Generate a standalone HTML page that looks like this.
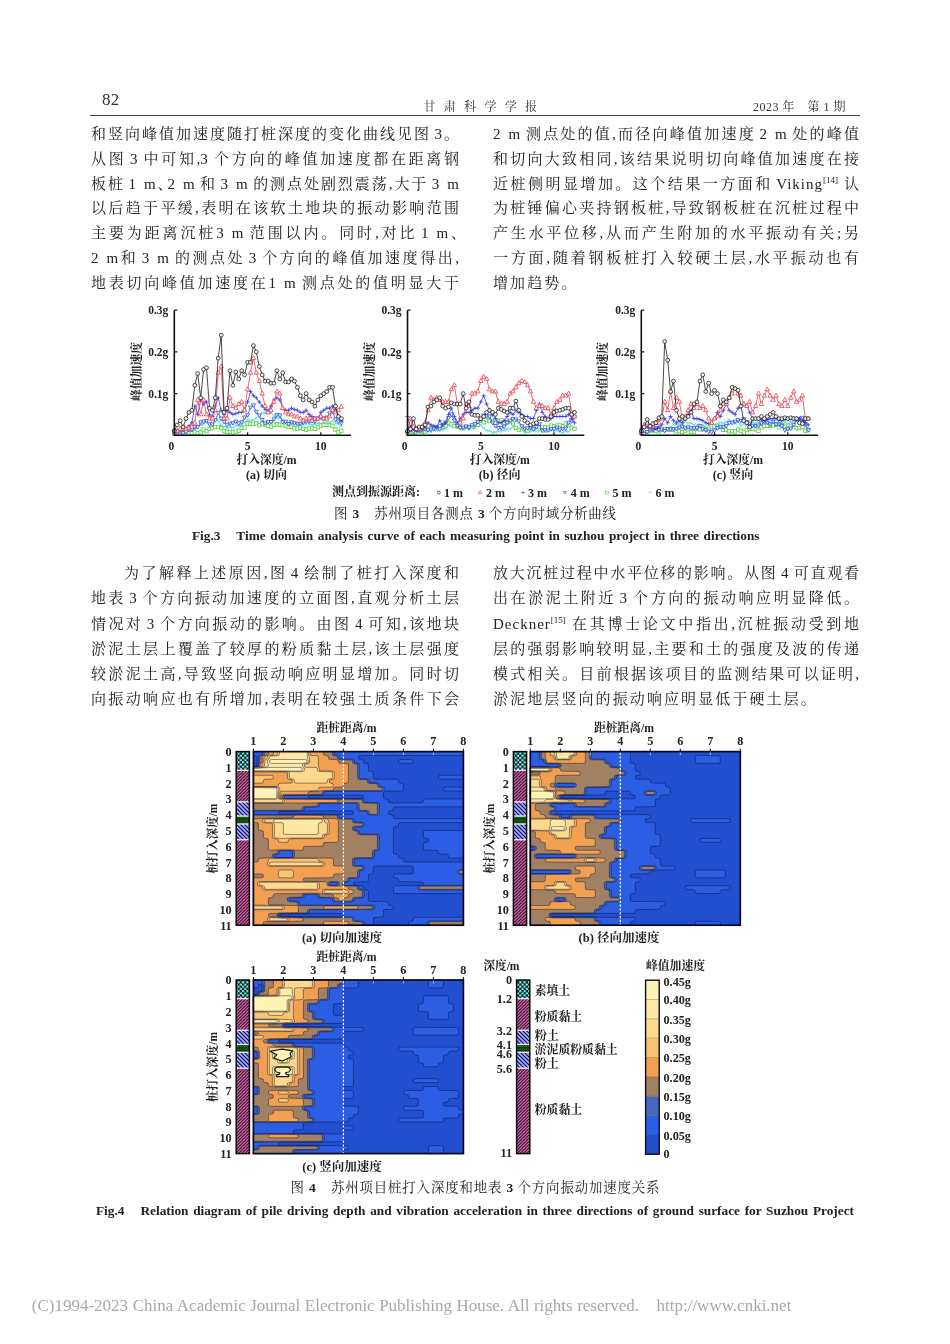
<!DOCTYPE html>
<html lang="zh"><head><meta charset="utf-8"><title>甘肃科学学报 82</title>
<style>
html,body{margin:0;padding:0;background:#fff;}
#page{position:relative;width:950px;height:1344px;overflow:hidden;background:#fff;color:#1a1a1a;
 font-family:"Liberation Serif","Noto Serif CJK SC",serif;}
.ln{position:absolute;height:25px;line-height:25px;font-size:15px;white-space:nowrap;text-align:justify;text-align-last:justify;color:#222;}
.ln.nj{text-align:left;text-align-last:left;letter-spacing:2.1px;}
.L{left:91px;width:368px;}
.R{left:493px;width:366px;}
.ln sup{font-size:9px;line-height:0;vertical-align:6px;letter-spacing:0;}
.hd{position:absolute;white-space:nowrap;color:#333;}
.cap{position:absolute;white-space:nowrap;text-align:center;left:0;width:950px;color:#222;}
svg{position:absolute;left:0;top:0;overflow:visible;}
svg text{font-family:"Liberation Serif","Noto Serif CJK SC",serif;}
.capj{position:absolute;white-space:nowrap;text-align:justify;text-align-last:justify;color:#222;height:20px;line-height:20px;}
.ln i{display:inline-block;width:3.5px;}
.ln u{text-decoration:none;margin-right:-7px;}
.ln em{font-style:normal;letter-spacing:1px;}
.ln i.w{width:8px;}

</style></head>
<body>
<div id="page">
<div class="hd" style="left:102px;top:89.5px;font-size:17px;letter-spacing:0.3px;">82</div>
<div class="hd" style="left:423.5px;top:96.5px;font-size:12px;letter-spacing:8.3px;">甘肃科学学报</div>
<div class="hd" style="left:753px;top:96.5px;font-size:12px;letter-spacing:0.5px;">2023 年　第 1 期</div>
<div style="position:absolute;left:90px;top:114.6px;width:770px;height:1.4px;background:#444;"></div>
<div class="capj" style="left:334px;width:282px;top:503.8px;font-size:13.4px;">图 <b>3</b>　苏州项目各测点 <b>3</b> 个方向时域分析曲线</div>
<div class="capj" style="left:192px;width:567.5px;top:526px;font-size:13.3px;font-weight:bold;">Fig.3　Time domain analysis curve of each measuring point in suzhou project in three directions</div>
<div class="capj" style="left:290.5px;width:369px;top:1178.3px;font-size:13.4px;">图 <b>4</b>　苏州项目桩打入深度和地表 <b>3</b> 个方向振动加速度关系</div>
<div class="capj" style="left:96px;width:758px;top:1200.7px;font-size:13.3px;font-weight:bold;">Fig.4　Relation diagram of pile driving depth and vibration acceleration in three directions of ground surface for Suzhou Project</div>
<div class="capj" style="left:31.8px;width:759.6px;top:1296px;font-size:17px;color:#a8a8a8;">(C)1994-2023 China Academic Journal Electronic Publishing House. All rights reserved.　http://www.cnki.net</div>
<div class="ln L" style="top:121.7px;">和竖向峰值加速度随打桩深度的变化曲线见图<i></i>3。</div>
<div class="ln L" style="top:146.6px;">从图<i></i>3<i></i>中可知,3<i></i>个方向的峰值加速度都在距离钢</div>
<div class="ln L" style="top:171.5px;">板桩<i></i>1<i class="w"></i>m<u>、</u>2<i class="w"></i>m<i></i>和<i></i>3<i class="w"></i>m<i></i>的测点处剧烈震荡,大于<i></i>3<i class="w"></i>m</div>
<div class="ln L" style="top:196.4px;">以后趋于平缓,表明在该软土地块的振动影响范围</div>
<div class="ln L" style="top:221.3px;">主要为距离沉桩3<i class="w"></i>m<i></i>范围以内。同时,对比<i></i>1<i class="w"></i>m<u>、</u></div>
<div class="ln L" style="top:246.2px;">2<i class="w"></i>m和<i></i>3<i class="w"></i>m<i></i>的测点处<i></i>3<i></i>个方向的峰值加速度得出,</div>
<div class="ln L" style="top:271.1px;">地表切向峰值加速度在1<i class="w"></i>m<i></i>测点处的值明显大于</div>
<div class="ln R" style="top:121.7px;">2<i class="w"></i>m<i></i>测点处的值,而径向峰值加速度<i></i>2<i class="w"></i>m<i></i>处的峰值</div>
<div class="ln R" style="top:146.6px;">和切向大致相同,该结果说明切向峰值加速度在接</div>
<div class="ln R" style="top:171.5px;">近桩侧明显增加。这个结果一方面和<i></i><em>Viking</em><sup>[14]</sup><i></i>认</div>
<div class="ln R" style="top:196.4px;">为桩锤偏心夹持钢板桩,导致钢板桩在沉桩过程中</div>
<div class="ln R" style="top:221.3px;">产生水平位移,从而产生附加的水平振动有关;另</div>
<div class="ln R" style="top:246.2px;">一方面,随着钢板桩打入较硬土层,水平振动也有</div>
<div class="ln R nj" style="top:271.1px;">增加趋势。</div>
<div class="ln L" style="top:561.4px;left:124px;width:335px;">为了解释上述原因,图<i></i>4<i></i>绘制了桩打入深度和</div>
<div class="ln L" style="top:586.4px;">地表<i></i>3<i></i>个方向振动加速度的立面图,直观分析土层</div>
<div class="ln L" style="top:611.5px;">情况对<i></i>3<i></i>个方向振动的影响。由图<i></i>4<i></i>可知,该地块</div>
<div class="ln L" style="top:636.5px;">淤泥土层上覆盖了较厚的粉质黏土层,该土层强度</div>
<div class="ln L" style="top:661.6px;">较淤泥土高,导致竖向振动响应明显增加。同时切</div>
<div class="ln L" style="top:686.6px;">向振动响应也有所增加,表明在较强土质条件下会</div>
<div class="ln R" style="top:561.4px;">放大沉桩过程中水平位移的影响。从图<i></i>4<i></i>可直观看</div>
<div class="ln R" style="top:586.4px;">出在淤泥土附近<i></i>3<i></i>个方向的振动响应明显降低。</div>
<div class="ln R" style="top:611.5px;"><em>Deckner</em><sup>[15]</sup><i></i>在其博士论文中指出,沉桩振动受到地</div>
<div class="ln R" style="top:636.5px;">层的强弱影响较明显,主要和土的强度及波的传递</div>
<div class="ln R" style="top:661.6px;">模式相关。目前根据该项目的监测结果可以证明,</div>
<div class="ln R nj" style="top:686.6px;">淤泥地层竖向的振动响应明显低于硬土层。</div>
<svg width="950" height="1344" viewBox="0 0 950 1344" id="fig3">
<g stroke="#58d8e0" stroke-width="0.8" fill="none"><polyline points="174.3,433.0 177.2,432.0 180.2,432.9 183.1,431.8 186.0,430.2 189.0,429.8 191.9,430.7 194.8,428.8 197.7,427.6 200.7,424.7 203.6,424.4 206.5,420.8 209.5,418.1 212.4,420.1 215.3,419.4 218.2,420.4 221.2,425.4 224.1,426.8 227.0,427.8 230.0,427.2 232.9,427.7 235.8,425.5 238.8,425.5 241.7,425.2 244.6,422.2 247.6,419.8 250.5,420.5 253.4,420.0 256.3,418.2 259.3,414.7 262.2,412.9 265.1,412.8 268.1,411.0 271.0,412.6 273.9,415.6 276.9,417.9 279.8,417.7 282.7,419.7 285.6,421.6 288.6,422.9 291.5,423.1 294.4,423.2 297.4,424.2 300.3,424.6 303.2,424.5 306.1,423.7 309.1,424.1 312.0,424.6 314.9,424.2 317.9,423.3 320.8,423.8 323.7,423.2 326.7,421.5 329.6,422.5 332.5,420.8 335.5,423.1 338.4,424.0 341.3,426.1"/><g fill="none" fill-opacity="0.85">
<path d="M172.7 431.4l3.2 3.2m0 -3.2l-3.2 3.2"/><path d="M175.6 430.4l3.2 3.2m0 -3.2l-3.2 3.2"/><path d="M178.6 431.3l3.2 3.2m0 -3.2l-3.2 3.2"/><path d="M181.5 430.2l3.2 3.2m0 -3.2l-3.2 3.2"/><path d="M184.4 428.6l3.2 3.2m0 -3.2l-3.2 3.2"/><path d="M187.4 428.2l3.2 3.2m0 -3.2l-3.2 3.2"/><path d="M190.3 429.1l3.2 3.2m0 -3.2l-3.2 3.2"/><path d="M193.2 427.2l3.2 3.2m0 -3.2l-3.2 3.2"/><path d="M196.1 426.0l3.2 3.2m0 -3.2l-3.2 3.2"/><path d="M199.1 423.1l3.2 3.2m0 -3.2l-3.2 3.2"/><path d="M202.0 422.8l3.2 3.2m0 -3.2l-3.2 3.2"/><path d="M204.9 419.2l3.2 3.2m0 -3.2l-3.2 3.2"/><path d="M207.9 416.5l3.2 3.2m0 -3.2l-3.2 3.2"/><path d="M210.8 418.5l3.2 3.2m0 -3.2l-3.2 3.2"/><path d="M213.7 417.8l3.2 3.2m0 -3.2l-3.2 3.2"/><path d="M216.7 418.8l3.2 3.2m0 -3.2l-3.2 3.2"/><path d="M219.6 423.8l3.2 3.2m0 -3.2l-3.2 3.2"/><path d="M222.5 425.2l3.2 3.2m0 -3.2l-3.2 3.2"/><path d="M225.4 426.2l3.2 3.2m0 -3.2l-3.2 3.2"/><path d="M228.4 425.6l3.2 3.2m0 -3.2l-3.2 3.2"/><path d="M231.3 426.1l3.2 3.2m0 -3.2l-3.2 3.2"/><path d="M234.2 423.9l3.2 3.2m0 -3.2l-3.2 3.2"/><path d="M237.2 423.9l3.2 3.2m0 -3.2l-3.2 3.2"/><path d="M240.1 423.6l3.2 3.2m0 -3.2l-3.2 3.2"/><path d="M243.0 420.6l3.2 3.2m0 -3.2l-3.2 3.2"/><path d="M246.0 418.2l3.2 3.2m0 -3.2l-3.2 3.2"/><path d="M248.9 418.9l3.2 3.2m0 -3.2l-3.2 3.2"/><path d="M251.8 418.4l3.2 3.2m0 -3.2l-3.2 3.2"/><path d="M254.7 416.6l3.2 3.2m0 -3.2l-3.2 3.2"/><path d="M257.7 413.1l3.2 3.2m0 -3.2l-3.2 3.2"/><path d="M260.6 411.3l3.2 3.2m0 -3.2l-3.2 3.2"/><path d="M263.5 411.2l3.2 3.2m0 -3.2l-3.2 3.2"/><path d="M266.5 409.4l3.2 3.2m0 -3.2l-3.2 3.2"/><path d="M269.4 411.0l3.2 3.2m0 -3.2l-3.2 3.2"/><path d="M272.3 414.0l3.2 3.2m0 -3.2l-3.2 3.2"/><path d="M275.2 416.3l3.2 3.2m0 -3.2l-3.2 3.2"/><path d="M278.2 416.1l3.2 3.2m0 -3.2l-3.2 3.2"/><path d="M281.1 418.1l3.2 3.2m0 -3.2l-3.2 3.2"/><path d="M284.0 420.0l3.2 3.2m0 -3.2l-3.2 3.2"/><path d="M287.0 421.3l3.2 3.2m0 -3.2l-3.2 3.2"/><path d="M289.9 421.5l3.2 3.2m0 -3.2l-3.2 3.2"/><path d="M292.8 421.6l3.2 3.2m0 -3.2l-3.2 3.2"/><path d="M295.8 422.6l3.2 3.2m0 -3.2l-3.2 3.2"/><path d="M298.7 423.0l3.2 3.2m0 -3.2l-3.2 3.2"/><path d="M301.6 422.9l3.2 3.2m0 -3.2l-3.2 3.2"/><path d="M304.5 422.1l3.2 3.2m0 -3.2l-3.2 3.2"/><path d="M307.5 422.5l3.2 3.2m0 -3.2l-3.2 3.2"/><path d="M310.4 423.0l3.2 3.2m0 -3.2l-3.2 3.2"/><path d="M313.3 422.6l3.2 3.2m0 -3.2l-3.2 3.2"/><path d="M316.3 421.7l3.2 3.2m0 -3.2l-3.2 3.2"/><path d="M319.2 422.2l3.2 3.2m0 -3.2l-3.2 3.2"/><path d="M322.1 421.6l3.2 3.2m0 -3.2l-3.2 3.2"/><path d="M325.1 419.9l3.2 3.2m0 -3.2l-3.2 3.2"/><path d="M328.0 420.9l3.2 3.2m0 -3.2l-3.2 3.2"/><path d="M330.9 419.2l3.2 3.2m0 -3.2l-3.2 3.2"/><path d="M333.9 421.5l3.2 3.2m0 -3.2l-3.2 3.2"/><path d="M336.8 422.4l3.2 3.2m0 -3.2l-3.2 3.2"/><path d="M339.7 424.5l3.2 3.2m0 -3.2l-3.2 3.2"/>
</g></g>
<g stroke="#58d048" stroke-width="0.8" fill="none"><polyline points="174.3,433.4 177.2,433.1 180.2,433.8 183.1,432.6 186.0,433.5 189.0,432.6 191.9,433.0 194.8,432.3 197.7,433.3 200.7,432.3 203.6,429.6 206.5,431.2 209.5,428.8 212.4,428.1 215.3,427.0 218.2,427.0 221.2,428.0 224.1,431.1 227.0,431.9 230.0,431.8 232.9,432.3 235.8,431.6 238.8,430.7 241.7,428.0 244.6,427.6 247.6,423.4 250.5,423.8 253.4,423.7 256.3,423.2 259.3,425.2 262.2,423.5 265.1,424.6 268.1,425.8 271.0,426.6 273.9,424.6 276.9,424.1 279.8,424.8 282.7,424.5 285.6,425.8 288.6,427.1 291.5,426.8 294.4,428.3 297.4,428.7 300.3,427.7 303.2,428.8 306.1,429.6 309.1,428.6 312.0,428.3 314.9,429.0 317.9,427.3 320.8,425.5 323.7,425.0 326.7,424.9 329.6,425.0 332.5,425.8 335.5,429.6 338.4,432.3 341.3,430.7"/><g fill="#fff" fill-opacity="0.85">
<rect x="172.6" y="431.7" width="3.4" height="3.4"/><rect x="175.5" y="431.4" width="3.4" height="3.4"/><rect x="178.5" y="432.1" width="3.4" height="3.4"/><rect x="181.4" y="430.9" width="3.4" height="3.4"/><rect x="184.3" y="431.8" width="3.4" height="3.4"/><rect x="187.3" y="430.9" width="3.4" height="3.4"/><rect x="190.2" y="431.3" width="3.4" height="3.4"/><rect x="193.1" y="430.6" width="3.4" height="3.4"/><rect x="196.0" y="431.6" width="3.4" height="3.4"/><rect x="199.0" y="430.6" width="3.4" height="3.4"/><rect x="201.9" y="427.9" width="3.4" height="3.4"/><rect x="204.8" y="429.5" width="3.4" height="3.4"/><rect x="207.8" y="427.1" width="3.4" height="3.4"/><rect x="210.7" y="426.4" width="3.4" height="3.4"/><rect x="213.6" y="425.3" width="3.4" height="3.4"/><rect x="216.6" y="425.3" width="3.4" height="3.4"/><rect x="219.5" y="426.3" width="3.4" height="3.4"/><rect x="222.4" y="429.4" width="3.4" height="3.4"/><rect x="225.3" y="430.2" width="3.4" height="3.4"/><rect x="228.3" y="430.1" width="3.4" height="3.4"/><rect x="231.2" y="430.6" width="3.4" height="3.4"/><rect x="234.1" y="429.9" width="3.4" height="3.4"/><rect x="237.1" y="429.0" width="3.4" height="3.4"/><rect x="240.0" y="426.3" width="3.4" height="3.4"/><rect x="242.9" y="425.9" width="3.4" height="3.4"/><rect x="245.9" y="421.7" width="3.4" height="3.4"/><rect x="248.8" y="422.1" width="3.4" height="3.4"/><rect x="251.7" y="422.0" width="3.4" height="3.4"/><rect x="254.6" y="421.5" width="3.4" height="3.4"/><rect x="257.6" y="423.5" width="3.4" height="3.4"/><rect x="260.5" y="421.8" width="3.4" height="3.4"/><rect x="263.4" y="422.9" width="3.4" height="3.4"/><rect x="266.4" y="424.1" width="3.4" height="3.4"/><rect x="269.3" y="424.9" width="3.4" height="3.4"/><rect x="272.2" y="422.9" width="3.4" height="3.4"/><rect x="275.2" y="422.4" width="3.4" height="3.4"/><rect x="278.1" y="423.1" width="3.4" height="3.4"/><rect x="281.0" y="422.8" width="3.4" height="3.4"/><rect x="283.9" y="424.1" width="3.4" height="3.4"/><rect x="286.9" y="425.4" width="3.4" height="3.4"/><rect x="289.8" y="425.1" width="3.4" height="3.4"/><rect x="292.7" y="426.6" width="3.4" height="3.4"/><rect x="295.7" y="427.0" width="3.4" height="3.4"/><rect x="298.6" y="426.0" width="3.4" height="3.4"/><rect x="301.5" y="427.1" width="3.4" height="3.4"/><rect x="304.4" y="427.9" width="3.4" height="3.4"/><rect x="307.4" y="426.9" width="3.4" height="3.4"/><rect x="310.3" y="426.6" width="3.4" height="3.4"/><rect x="313.2" y="427.3" width="3.4" height="3.4"/><rect x="316.2" y="425.6" width="3.4" height="3.4"/><rect x="319.1" y="423.8" width="3.4" height="3.4"/><rect x="322.0" y="423.3" width="3.4" height="3.4"/><rect x="325.0" y="423.2" width="3.4" height="3.4"/><rect x="327.9" y="423.3" width="3.4" height="3.4"/><rect x="330.8" y="424.1" width="3.4" height="3.4"/><rect x="333.8" y="427.9" width="3.4" height="3.4"/><rect x="336.7" y="430.6" width="3.4" height="3.4"/><rect x="339.6" y="429.0" width="3.4" height="3.4"/>
</g></g>
<g stroke="#3050e0" stroke-width="0.8" fill="none"><polyline points="174.3,430.7 177.2,432.7 180.2,432.3 183.1,433.1 186.0,432.1 189.0,429.9 191.9,429.8 194.8,427.0 197.7,426.9 200.7,422.3 203.6,421.3 206.5,420.9 209.5,424.2 212.4,424.3 215.3,420.0 218.2,412.9 221.2,418.5 224.1,421.7 227.0,424.7 230.0,423.6 232.9,423.0 235.8,421.5 238.8,423.3 241.7,422.2 244.6,417.4 247.6,415.1 250.5,407.4 253.4,405.2 256.3,411.7 259.3,415.4 262.2,419.9 265.1,423.3 268.1,422.0 271.0,421.9 273.9,419.2 276.9,414.7 279.8,415.3 282.7,421.9 285.6,421.5 288.6,423.9 291.5,422.1 294.4,423.2 297.4,423.8 300.3,423.7 303.2,422.5 306.1,421.2 309.1,421.3 312.0,420.8 314.9,421.4 317.9,418.3 320.8,417.4 323.7,419.1 326.7,417.5 329.6,413.3 332.5,411.2 335.5,419.2 338.4,421.4 341.3,423.0"/><g fill="#fff" fill-opacity="0.85">
<path d="M174.3 432.9l2 -3.6h-4z"/><path d="M177.2 434.9l2 -3.6h-4z"/><path d="M180.2 434.5l2 -3.6h-4z"/><path d="M183.1 435.3l2 -3.6h-4z"/><path d="M186.0 434.3l2 -3.6h-4z"/><path d="M189.0 432.1l2 -3.6h-4z"/><path d="M191.9 432.0l2 -3.6h-4z"/><path d="M194.8 429.2l2 -3.6h-4z"/><path d="M197.7 429.1l2 -3.6h-4z"/><path d="M200.7 424.5l2 -3.6h-4z"/><path d="M203.6 423.5l2 -3.6h-4z"/><path d="M206.5 423.1l2 -3.6h-4z"/><path d="M209.5 426.4l2 -3.6h-4z"/><path d="M212.4 426.5l2 -3.6h-4z"/><path d="M215.3 422.2l2 -3.6h-4z"/><path d="M218.2 415.1l2 -3.6h-4z"/><path d="M221.2 420.7l2 -3.6h-4z"/><path d="M224.1 423.9l2 -3.6h-4z"/><path d="M227.0 426.9l2 -3.6h-4z"/><path d="M230.0 425.8l2 -3.6h-4z"/><path d="M232.9 425.2l2 -3.6h-4z"/><path d="M235.8 423.7l2 -3.6h-4z"/><path d="M238.8 425.5l2 -3.6h-4z"/><path d="M241.7 424.4l2 -3.6h-4z"/><path d="M244.6 419.6l2 -3.6h-4z"/><path d="M247.6 417.3l2 -3.6h-4z"/><path d="M250.5 409.6l2 -3.6h-4z"/><path d="M253.4 407.4l2 -3.6h-4z"/><path d="M256.3 413.9l2 -3.6h-4z"/><path d="M259.3 417.6l2 -3.6h-4z"/><path d="M262.2 422.1l2 -3.6h-4z"/><path d="M265.1 425.5l2 -3.6h-4z"/><path d="M268.1 424.2l2 -3.6h-4z"/><path d="M271.0 424.1l2 -3.6h-4z"/><path d="M273.9 421.4l2 -3.6h-4z"/><path d="M276.9 416.9l2 -3.6h-4z"/><path d="M279.8 417.5l2 -3.6h-4z"/><path d="M282.7 424.1l2 -3.6h-4z"/><path d="M285.6 423.7l2 -3.6h-4z"/><path d="M288.6 426.1l2 -3.6h-4z"/><path d="M291.5 424.3l2 -3.6h-4z"/><path d="M294.4 425.4l2 -3.6h-4z"/><path d="M297.4 426.0l2 -3.6h-4z"/><path d="M300.3 425.9l2 -3.6h-4z"/><path d="M303.2 424.7l2 -3.6h-4z"/><path d="M306.1 423.4l2 -3.6h-4z"/><path d="M309.1 423.5l2 -3.6h-4z"/><path d="M312.0 423.0l2 -3.6h-4z"/><path d="M314.9 423.6l2 -3.6h-4z"/><path d="M317.9 420.5l2 -3.6h-4z"/><path d="M320.8 419.6l2 -3.6h-4z"/><path d="M323.7 421.3l2 -3.6h-4z"/><path d="M326.7 419.7l2 -3.6h-4z"/><path d="M329.6 415.5l2 -3.6h-4z"/><path d="M332.5 413.4l2 -3.6h-4z"/><path d="M335.5 421.4l2 -3.6h-4z"/><path d="M338.4 423.6l2 -3.6h-4z"/><path d="M341.3 425.2l2 -3.6h-4z"/>
</g></g>
<g stroke="#3838d8" stroke-width="0.8" fill="none"><polyline points="174.3,431.1 177.2,430.7 180.2,430.3 183.1,429.7 186.0,429.0 189.0,425.9 191.9,422.8 194.8,406.1 197.7,414.4 200.7,399.9 203.6,404.0 206.5,401.9 209.5,414.5 212.4,416.5 215.3,406.1 218.2,397.8 221.2,410.3 224.1,414.4 227.0,410.3 230.0,412.4 232.9,414.4 235.8,413.6 238.8,412.4 241.7,412.4 244.6,410.3 247.6,401.9 250.5,391.5 253.4,395.7 256.3,397.8 259.3,401.9 262.2,406.1 265.1,409.4 268.1,410.3 271.0,406.1 273.9,399.9 276.9,397.8 279.8,399.9 282.7,408.2 285.6,410.3 288.6,410.3 291.5,408.2 294.4,409.4 297.4,410.3 300.3,412.4 303.2,412.4 306.1,410.3 309.1,414.5 312.0,416.5 314.9,418.6 317.9,418.6 320.8,412.4 323.7,410.3 326.7,408.2 329.6,408.2 332.5,406.1 335.5,410.3 338.4,416.5 341.3,420.7"/><g fill="none" fill-opacity="0.85">
<path d="M172.3 431.1h4m-2 -2v4"/><path d="M175.2 430.7h4m-2 -2v4"/><path d="M178.2 430.3h4m-2 -2v4"/><path d="M181.1 429.7h4m-2 -2v4"/><path d="M184.0 429.0h4m-2 -2v4"/><path d="M187.0 425.9h4m-2 -2v4"/><path d="M189.9 422.8h4m-2 -2v4"/><path d="M192.8 406.1h4m-2 -2v4"/><path d="M195.7 414.4h4m-2 -2v4"/><path d="M198.7 399.9h4m-2 -2v4"/><path d="M201.6 404.0h4m-2 -2v4"/><path d="M204.5 401.9h4m-2 -2v4"/><path d="M207.5 414.5h4m-2 -2v4"/><path d="M210.4 416.5h4m-2 -2v4"/><path d="M213.3 406.1h4m-2 -2v4"/><path d="M216.2 397.8h4m-2 -2v4"/><path d="M219.2 410.3h4m-2 -2v4"/><path d="M222.1 414.4h4m-2 -2v4"/><path d="M225.0 410.3h4m-2 -2v4"/><path d="M228.0 412.4h4m-2 -2v4"/><path d="M230.9 414.4h4m-2 -2v4"/><path d="M233.8 413.6h4m-2 -2v4"/><path d="M236.8 412.4h4m-2 -2v4"/><path d="M239.7 412.4h4m-2 -2v4"/><path d="M242.6 410.3h4m-2 -2v4"/><path d="M245.6 401.9h4m-2 -2v4"/><path d="M248.5 391.5h4m-2 -2v4"/><path d="M251.4 395.7h4m-2 -2v4"/><path d="M254.3 397.8h4m-2 -2v4"/><path d="M257.3 401.9h4m-2 -2v4"/><path d="M260.2 406.1h4m-2 -2v4"/><path d="M263.1 409.4h4m-2 -2v4"/><path d="M266.1 410.3h4m-2 -2v4"/><path d="M269.0 406.1h4m-2 -2v4"/><path d="M271.9 399.9h4m-2 -2v4"/><path d="M274.9 397.8h4m-2 -2v4"/><path d="M277.8 399.9h4m-2 -2v4"/><path d="M280.7 408.2h4m-2 -2v4"/><path d="M283.6 410.3h4m-2 -2v4"/><path d="M286.6 410.3h4m-2 -2v4"/><path d="M289.5 408.2h4m-2 -2v4"/><path d="M292.4 409.4h4m-2 -2v4"/><path d="M295.4 410.3h4m-2 -2v4"/><path d="M298.3 412.4h4m-2 -2v4"/><path d="M301.2 412.4h4m-2 -2v4"/><path d="M304.1 410.3h4m-2 -2v4"/><path d="M307.1 414.5h4m-2 -2v4"/><path d="M310.0 416.5h4m-2 -2v4"/><path d="M312.9 418.6h4m-2 -2v4"/><path d="M315.9 418.6h4m-2 -2v4"/><path d="M318.8 412.4h4m-2 -2v4"/><path d="M321.7 410.3h4m-2 -2v4"/><path d="M324.7 408.2h4m-2 -2v4"/><path d="M327.6 408.2h4m-2 -2v4"/><path d="M330.5 406.1h4m-2 -2v4"/><path d="M333.5 410.3h4m-2 -2v4"/><path d="M336.4 416.5h4m-2 -2v4"/><path d="M339.3 420.7h4m-2 -2v4"/>
</g></g>
<g stroke="#e8404a" stroke-width="0.8" fill="none"><polyline points="174.3,433.2 177.2,431.1 180.2,429.0 183.1,429.0 186.0,429.0 189.0,428.0 191.9,427.0 194.8,422.8 197.7,399.9 200.7,414.4 203.6,399.9 206.5,414.4 209.5,418.6 212.4,418.6 215.3,410.3 218.2,372.8 221.2,366.5 224.1,418.6 227.0,418.6 230.0,397.8 232.9,406.1 235.8,408.2 238.8,404.0 241.7,401.9 244.6,410.3 247.6,389.4 250.5,372.8 253.4,358.2 256.3,372.8 259.3,381.1 262.2,393.6 265.1,406.1 268.1,412.4 271.0,410.3 273.9,401.9 276.9,391.5 279.8,393.6 282.7,408.2 285.6,412.4 288.6,414.4 291.5,414.4 294.4,416.5 297.4,416.5 300.3,418.6 303.2,420.7 306.1,418.6 309.1,418.6 312.0,420.7 314.9,418.6 317.9,418.6 320.8,416.5 323.7,418.6 326.7,418.6 329.6,416.5 332.5,410.3 335.5,412.4 338.4,410.3 341.3,406.9"/><g fill="#fff" fill-opacity="0.85">
<path d="M174.3 430.6l2.2 4h-4.4z"/><path d="M177.2 428.5l2.2 4h-4.4z"/><path d="M180.2 426.4l2.2 4h-4.4z"/><path d="M183.1 426.4l2.2 4h-4.4z"/><path d="M186.0 426.4l2.2 4h-4.4z"/><path d="M189.0 425.4l2.2 4h-4.4z"/><path d="M191.9 424.4l2.2 4h-4.4z"/><path d="M194.8 420.2l2.2 4h-4.4z"/><path d="M197.7 397.3l2.2 4h-4.4z"/><path d="M200.7 411.8l2.2 4h-4.4z"/><path d="M203.6 397.3l2.2 4h-4.4z"/><path d="M206.5 411.8l2.2 4h-4.4z"/><path d="M209.5 416.0l2.2 4h-4.4z"/><path d="M212.4 416.0l2.2 4h-4.4z"/><path d="M215.3 407.7l2.2 4h-4.4z"/><path d="M218.2 370.1l2.2 4h-4.4z"/><path d="M221.2 363.9l2.2 4h-4.4z"/><path d="M224.1 416.0l2.2 4h-4.4z"/><path d="M227.0 416.0l2.2 4h-4.4z"/><path d="M230.0 395.2l2.2 4h-4.4z"/><path d="M232.9 403.5l2.2 4h-4.4z"/><path d="M235.8 405.6l2.2 4h-4.4z"/><path d="M238.8 401.4l2.2 4h-4.4z"/><path d="M241.7 399.3l2.2 4h-4.4z"/><path d="M244.6 407.7l2.2 4h-4.4z"/><path d="M247.6 386.8l2.2 4h-4.4z"/><path d="M250.5 370.1l2.2 4h-4.4z"/><path d="M253.4 355.6l2.2 4h-4.4z"/><path d="M256.3 370.2l2.2 4h-4.4z"/><path d="M259.3 378.5l2.2 4h-4.4z"/><path d="M262.2 391.0l2.2 4h-4.4z"/><path d="M265.1 403.5l2.2 4h-4.4z"/><path d="M268.1 409.8l2.2 4h-4.4z"/><path d="M271.0 407.7l2.2 4h-4.4z"/><path d="M273.9 399.3l2.2 4h-4.4z"/><path d="M276.9 388.9l2.2 4h-4.4z"/><path d="M279.8 391.0l2.2 4h-4.4z"/><path d="M282.7 405.6l2.2 4h-4.4z"/><path d="M285.6 409.8l2.2 4h-4.4z"/><path d="M288.6 411.8l2.2 4h-4.4z"/><path d="M291.5 411.8l2.2 4h-4.4z"/><path d="M294.4 413.9l2.2 4h-4.4z"/><path d="M297.4 413.9l2.2 4h-4.4z"/><path d="M300.3 416.0l2.2 4h-4.4z"/><path d="M303.2 418.1l2.2 4h-4.4z"/><path d="M306.1 416.0l2.2 4h-4.4z"/><path d="M309.1 416.0l2.2 4h-4.4z"/><path d="M312.0 418.1l2.2 4h-4.4z"/><path d="M314.9 416.0l2.2 4h-4.4z"/><path d="M317.9 416.0l2.2 4h-4.4z"/><path d="M320.8 413.9l2.2 4h-4.4z"/><path d="M323.7 416.0l2.2 4h-4.4z"/><path d="M326.7 416.0l2.2 4h-4.4z"/><path d="M329.6 413.9l2.2 4h-4.4z"/><path d="M332.5 407.7l2.2 4h-4.4z"/><path d="M335.5 409.8l2.2 4h-4.4z"/><path d="M338.4 407.7l2.2 4h-4.4z"/><path d="M341.3 404.3l2.2 4h-4.4z"/>
</g></g>
<g stroke="#1a1a1a" stroke-width="0.8" fill="none"><polyline points="174.3,431.1 177.2,424.9 180.2,420.7 183.1,427.0 186.0,418.6 189.0,412.4 191.9,410.3 194.8,385.3 197.7,373.6 200.7,397.8 203.6,369.4 206.5,367.7 209.5,408.2 212.4,410.3 215.3,397.8 218.2,358.2 221.2,335.2 224.1,412.4 227.0,408.2 230.0,370.7 232.9,385.3 235.8,371.9 238.8,379.0 241.7,370.7 244.6,374.8 247.6,362.3 250.5,362.3 253.4,345.6 256.3,351.9 259.3,366.5 262.2,374.8 265.1,381.1 268.1,381.1 271.0,383.2 273.9,383.2 276.9,370.7 279.8,379.0 282.7,372.8 285.6,381.9 288.6,381.9 291.5,379.0 294.4,381.1 297.4,387.3 300.3,395.7 303.2,399.9 306.1,393.6 309.1,399.9 312.0,401.9 314.9,406.1 317.9,399.9 320.8,395.7 323.7,393.6 326.7,391.5 329.6,387.3 332.5,387.3 335.5,406.1 338.4,416.5 341.3,418.6"/><g fill="#fff" fill-opacity="0.85">
<circle cx="174.3" cy="431.1" r="1.9"/><circle cx="177.2" cy="424.9" r="1.9"/><circle cx="180.2" cy="420.7" r="1.9"/><circle cx="183.1" cy="427.0" r="1.9"/><circle cx="186.0" cy="418.6" r="1.9"/><circle cx="189.0" cy="412.4" r="1.9"/><circle cx="191.9" cy="410.3" r="1.9"/><circle cx="194.8" cy="385.3" r="1.9"/><circle cx="197.7" cy="373.6" r="1.9"/><circle cx="200.7" cy="397.8" r="1.9"/><circle cx="203.6" cy="369.4" r="1.9"/><circle cx="206.5" cy="367.7" r="1.9"/><circle cx="209.5" cy="408.2" r="1.9"/><circle cx="212.4" cy="410.3" r="1.9"/><circle cx="215.3" cy="397.8" r="1.9"/><circle cx="218.2" cy="358.2" r="1.9"/><circle cx="221.2" cy="335.2" r="1.9"/><circle cx="224.1" cy="412.4" r="1.9"/><circle cx="227.0" cy="408.2" r="1.9"/><circle cx="230.0" cy="370.7" r="1.9"/><circle cx="232.9" cy="385.3" r="1.9"/><circle cx="235.8" cy="371.9" r="1.9"/><circle cx="238.8" cy="379.0" r="1.9"/><circle cx="241.7" cy="370.7" r="1.9"/><circle cx="244.6" cy="374.8" r="1.9"/><circle cx="247.6" cy="362.3" r="1.9"/><circle cx="250.5" cy="362.3" r="1.9"/><circle cx="253.4" cy="345.6" r="1.9"/><circle cx="256.3" cy="351.9" r="1.9"/><circle cx="259.3" cy="366.5" r="1.9"/><circle cx="262.2" cy="374.8" r="1.9"/><circle cx="265.1" cy="381.1" r="1.9"/><circle cx="268.1" cy="381.1" r="1.9"/><circle cx="271.0" cy="383.2" r="1.9"/><circle cx="273.9" cy="383.2" r="1.9"/><circle cx="276.9" cy="370.7" r="1.9"/><circle cx="279.8" cy="379.0" r="1.9"/><circle cx="282.7" cy="372.8" r="1.9"/><circle cx="285.6" cy="381.9" r="1.9"/><circle cx="288.6" cy="381.9" r="1.9"/><circle cx="291.5" cy="379.0" r="1.9"/><circle cx="294.4" cy="381.1" r="1.9"/><circle cx="297.4" cy="387.3" r="1.9"/><circle cx="300.3" cy="395.7" r="1.9"/><circle cx="303.2" cy="399.9" r="1.9"/><circle cx="306.1" cy="393.6" r="1.9"/><circle cx="309.1" cy="399.9" r="1.9"/><circle cx="312.0" cy="401.9" r="1.9"/><circle cx="314.9" cy="406.1" r="1.9"/><circle cx="317.9" cy="399.9" r="1.9"/><circle cx="320.8" cy="395.7" r="1.9"/><circle cx="323.7" cy="393.6" r="1.9"/><circle cx="326.7" cy="391.5" r="1.9"/><circle cx="329.6" cy="387.3" r="1.9"/><circle cx="332.5" cy="387.3" r="1.9"/><circle cx="335.5" cy="406.1" r="1.9"/><circle cx="338.4" cy="416.5" r="1.9"/><circle cx="341.3" cy="418.6" r="1.9"/>
</g></g>
<path d="M174.3 310.2V435.3H351.1" stroke="#111" stroke-width="1.6" fill="none"/>
<path d="M174.3 393.6h3M174.3 351.9h3M174.3 310.2h3M247.6 435.3v-3M320.8 435.3v-3" stroke="#111" stroke-width="1.2" fill="none"/>
<g class="num" font-size="11.5" font-weight="bold" fill="#222" text-anchor="end">
<text x="168.3" y="397.6">0.1g</text>
<text x="168.3" y="355.9">0.2g</text>
<text x="168.3" y="314.2">0.3g</text>
</g><g class="num" font-size="11.5" font-weight="bold" fill="#222" text-anchor="middle">
<text x="171.3" y="450.3">0</text>
<text x="247.6" y="450.3">5</text>
<text x="320.8" y="450.3">10</text>
</g>
<text x="266.5" y="463.5" font-size="12" font-weight="bold" fill="#222" text-anchor="middle" textLength="60" lengthAdjust="spacingAndGlyphs">打入深度/m</text>
<text x="266.5" y="478.5" font-size="12" font-weight="bold" fill="#222" text-anchor="middle">(a) 切向</text>
<text transform="translate(141.0 371.5) rotate(-90)" font-size="12" font-weight="bold" fill="#222" text-anchor="middle" textLength="59" lengthAdjust="spacingAndGlyphs">峰值加速度</text>
<g stroke="#58d8e0" stroke-width="0.8" fill="none"><polyline points="407.5,433.1 410.4,434.1 413.4,431.1 416.3,431.7 419.2,430.5 422.1,432.0 425.1,429.6 428.0,430.3 430.9,431.7 433.9,429.6 436.8,430.5 439.7,428.7 442.7,430.0 445.6,428.7 448.5,425.2 451.4,425.5 454.4,425.7 457.3,427.7 460.2,425.8 463.2,428.2 466.1,427.9 469.0,429.6 472.0,427.4 474.9,428.0 477.8,424.4 480.8,425.1 483.7,428.4 486.6,430.5 489.5,431.0 492.5,432.5 495.4,432.2 498.3,431.3 501.3,431.1 504.2,430.3 507.1,429.2 510.1,428.8 513.0,426.6 515.9,429.1 518.8,429.8 521.8,429.1 524.7,432.3 527.6,431.7 530.6,431.3 533.5,430.1 536.4,431.2 539.4,430.6 542.3,429.7 545.2,431.2 548.1,429.9 551.1,429.8 554.0,430.9 556.9,430.5 559.9,431.5 562.8,432.6 565.7,431.3 568.6,431.6 571.6,428.7 574.5,428.2"/><g fill="none" fill-opacity="0.85">
<path d="M405.9 431.5l3.2 3.2m0 -3.2l-3.2 3.2"/><path d="M408.8 432.5l3.2 3.2m0 -3.2l-3.2 3.2"/><path d="M411.8 429.5l3.2 3.2m0 -3.2l-3.2 3.2"/><path d="M414.7 430.1l3.2 3.2m0 -3.2l-3.2 3.2"/><path d="M417.6 428.9l3.2 3.2m0 -3.2l-3.2 3.2"/><path d="M420.5 430.4l3.2 3.2m0 -3.2l-3.2 3.2"/><path d="M423.5 428.0l3.2 3.2m0 -3.2l-3.2 3.2"/><path d="M426.4 428.7l3.2 3.2m0 -3.2l-3.2 3.2"/><path d="M429.3 430.1l3.2 3.2m0 -3.2l-3.2 3.2"/><path d="M432.3 428.0l3.2 3.2m0 -3.2l-3.2 3.2"/><path d="M435.2 428.9l3.2 3.2m0 -3.2l-3.2 3.2"/><path d="M438.1 427.1l3.2 3.2m0 -3.2l-3.2 3.2"/><path d="M441.1 428.4l3.2 3.2m0 -3.2l-3.2 3.2"/><path d="M444.0 427.1l3.2 3.2m0 -3.2l-3.2 3.2"/><path d="M446.9 423.6l3.2 3.2m0 -3.2l-3.2 3.2"/><path d="M449.8 423.9l3.2 3.2m0 -3.2l-3.2 3.2"/><path d="M452.8 424.1l3.2 3.2m0 -3.2l-3.2 3.2"/><path d="M455.7 426.1l3.2 3.2m0 -3.2l-3.2 3.2"/><path d="M458.6 424.2l3.2 3.2m0 -3.2l-3.2 3.2"/><path d="M461.6 426.6l3.2 3.2m0 -3.2l-3.2 3.2"/><path d="M464.5 426.3l3.2 3.2m0 -3.2l-3.2 3.2"/><path d="M467.4 428.0l3.2 3.2m0 -3.2l-3.2 3.2"/><path d="M470.4 425.8l3.2 3.2m0 -3.2l-3.2 3.2"/><path d="M473.3 426.4l3.2 3.2m0 -3.2l-3.2 3.2"/><path d="M476.2 422.8l3.2 3.2m0 -3.2l-3.2 3.2"/><path d="M479.1 423.5l3.2 3.2m0 -3.2l-3.2 3.2"/><path d="M482.1 426.8l3.2 3.2m0 -3.2l-3.2 3.2"/><path d="M485.0 428.9l3.2 3.2m0 -3.2l-3.2 3.2"/><path d="M487.9 429.4l3.2 3.2m0 -3.2l-3.2 3.2"/><path d="M490.9 430.9l3.2 3.2m0 -3.2l-3.2 3.2"/><path d="M493.8 430.6l3.2 3.2m0 -3.2l-3.2 3.2"/><path d="M496.7 429.7l3.2 3.2m0 -3.2l-3.2 3.2"/><path d="M499.7 429.5l3.2 3.2m0 -3.2l-3.2 3.2"/><path d="M502.6 428.7l3.2 3.2m0 -3.2l-3.2 3.2"/><path d="M505.5 427.6l3.2 3.2m0 -3.2l-3.2 3.2"/><path d="M508.4 427.2l3.2 3.2m0 -3.2l-3.2 3.2"/><path d="M511.4 425.0l3.2 3.2m0 -3.2l-3.2 3.2"/><path d="M514.3 427.5l3.2 3.2m0 -3.2l-3.2 3.2"/><path d="M517.2 428.2l3.2 3.2m0 -3.2l-3.2 3.2"/><path d="M520.2 427.5l3.2 3.2m0 -3.2l-3.2 3.2"/><path d="M523.1 430.7l3.2 3.2m0 -3.2l-3.2 3.2"/><path d="M526.0 430.1l3.2 3.2m0 -3.2l-3.2 3.2"/><path d="M529.0 429.7l3.2 3.2m0 -3.2l-3.2 3.2"/><path d="M531.9 428.5l3.2 3.2m0 -3.2l-3.2 3.2"/><path d="M534.8 429.6l3.2 3.2m0 -3.2l-3.2 3.2"/><path d="M537.8 429.0l3.2 3.2m0 -3.2l-3.2 3.2"/><path d="M540.7 428.1l3.2 3.2m0 -3.2l-3.2 3.2"/><path d="M543.6 429.6l3.2 3.2m0 -3.2l-3.2 3.2"/><path d="M546.5 428.3l3.2 3.2m0 -3.2l-3.2 3.2"/><path d="M549.5 428.2l3.2 3.2m0 -3.2l-3.2 3.2"/><path d="M552.4 429.3l3.2 3.2m0 -3.2l-3.2 3.2"/><path d="M555.3 428.9l3.2 3.2m0 -3.2l-3.2 3.2"/><path d="M558.3 429.9l3.2 3.2m0 -3.2l-3.2 3.2"/><path d="M561.2 431.0l3.2 3.2m0 -3.2l-3.2 3.2"/><path d="M564.1 429.7l3.2 3.2m0 -3.2l-3.2 3.2"/><path d="M567.0 430.0l3.2 3.2m0 -3.2l-3.2 3.2"/><path d="M570.0 427.1l3.2 3.2m0 -3.2l-3.2 3.2"/><path d="M572.9 426.6l3.2 3.2m0 -3.2l-3.2 3.2"/>
</g></g>
<g stroke="#58d048" stroke-width="0.8" fill="none"><polyline points="407.5,434.1 410.4,431.7 413.4,433.0 416.3,432.1 419.2,430.0 422.1,431.9 425.1,431.5 428.0,428.8 430.9,428.4 433.9,427.4 436.8,428.5 439.7,426.4 442.7,426.9 445.6,425.3 448.5,422.9 451.4,424.3 454.4,426.0 457.3,426.2 460.2,427.2 463.2,428.4 466.1,427.0 469.0,427.0 472.0,427.2 474.9,424.7 477.8,424.9 480.8,421.0 483.7,422.2 486.6,419.9 489.5,421.0 492.5,421.3 495.4,420.1 498.3,421.2 501.3,420.4 504.2,423.1 507.1,422.3 510.1,421.6 513.0,423.4 515.9,427.9 518.8,429.9 521.8,427.7 524.7,429.6 527.6,430.5 530.6,428.3 533.5,428.6 536.4,426.9 539.4,427.0 542.3,427.0 545.2,427.2 548.1,427.7 551.1,425.6 554.0,426.4 556.9,425.6 559.9,424.8 562.8,426.3 565.7,423.5 568.6,425.1 571.6,427.6 574.5,428.8"/><g fill="#fff" fill-opacity="0.85">
<rect x="405.8" y="432.4" width="3.4" height="3.4"/><rect x="408.7" y="430.0" width="3.4" height="3.4"/><rect x="411.7" y="431.3" width="3.4" height="3.4"/><rect x="414.6" y="430.4" width="3.4" height="3.4"/><rect x="417.5" y="428.3" width="3.4" height="3.4"/><rect x="420.4" y="430.2" width="3.4" height="3.4"/><rect x="423.4" y="429.8" width="3.4" height="3.4"/><rect x="426.3" y="427.1" width="3.4" height="3.4"/><rect x="429.2" y="426.7" width="3.4" height="3.4"/><rect x="432.2" y="425.7" width="3.4" height="3.4"/><rect x="435.1" y="426.8" width="3.4" height="3.4"/><rect x="438.0" y="424.7" width="3.4" height="3.4"/><rect x="441.0" y="425.2" width="3.4" height="3.4"/><rect x="443.9" y="423.6" width="3.4" height="3.4"/><rect x="446.8" y="421.2" width="3.4" height="3.4"/><rect x="449.8" y="422.6" width="3.4" height="3.4"/><rect x="452.7" y="424.3" width="3.4" height="3.4"/><rect x="455.6" y="424.5" width="3.4" height="3.4"/><rect x="458.5" y="425.5" width="3.4" height="3.4"/><rect x="461.5" y="426.7" width="3.4" height="3.4"/><rect x="464.4" y="425.3" width="3.4" height="3.4"/><rect x="467.3" y="425.3" width="3.4" height="3.4"/><rect x="470.3" y="425.5" width="3.4" height="3.4"/><rect x="473.2" y="423.0" width="3.4" height="3.4"/><rect x="476.1" y="423.2" width="3.4" height="3.4"/><rect x="479.1" y="419.3" width="3.4" height="3.4"/><rect x="482.0" y="420.5" width="3.4" height="3.4"/><rect x="484.9" y="418.2" width="3.4" height="3.4"/><rect x="487.8" y="419.3" width="3.4" height="3.4"/><rect x="490.8" y="419.6" width="3.4" height="3.4"/><rect x="493.7" y="418.4" width="3.4" height="3.4"/><rect x="496.6" y="419.5" width="3.4" height="3.4"/><rect x="499.6" y="418.7" width="3.4" height="3.4"/><rect x="502.5" y="421.4" width="3.4" height="3.4"/><rect x="505.4" y="420.6" width="3.4" height="3.4"/><rect x="508.4" y="419.9" width="3.4" height="3.4"/><rect x="511.3" y="421.7" width="3.4" height="3.4"/><rect x="514.2" y="426.2" width="3.4" height="3.4"/><rect x="517.1" y="428.2" width="3.4" height="3.4"/><rect x="520.1" y="426.0" width="3.4" height="3.4"/><rect x="523.0" y="427.9" width="3.4" height="3.4"/><rect x="525.9" y="428.8" width="3.4" height="3.4"/><rect x="528.9" y="426.6" width="3.4" height="3.4"/><rect x="531.8" y="426.9" width="3.4" height="3.4"/><rect x="534.7" y="425.2" width="3.4" height="3.4"/><rect x="537.6" y="425.3" width="3.4" height="3.4"/><rect x="540.6" y="425.3" width="3.4" height="3.4"/><rect x="543.5" y="425.5" width="3.4" height="3.4"/><rect x="546.4" y="426.0" width="3.4" height="3.4"/><rect x="549.4" y="423.9" width="3.4" height="3.4"/><rect x="552.3" y="424.7" width="3.4" height="3.4"/><rect x="555.2" y="423.9" width="3.4" height="3.4"/><rect x="558.2" y="423.1" width="3.4" height="3.4"/><rect x="561.1" y="424.6" width="3.4" height="3.4"/><rect x="564.0" y="421.8" width="3.4" height="3.4"/><rect x="566.9" y="423.4" width="3.4" height="3.4"/><rect x="569.9" y="425.9" width="3.4" height="3.4"/><rect x="572.8" y="427.1" width="3.4" height="3.4"/>
</g></g>
<g stroke="#3050e0" stroke-width="0.8" fill="none"><polyline points="407.5,432.4 410.4,429.9 413.4,431.6 416.3,429.9 419.2,430.8 422.1,430.5 425.1,429.2 428.0,430.1 430.9,429.5 433.9,428.6 436.8,427.4 439.7,429.0 442.7,425.1 445.6,422.5 448.5,418.1 451.4,414.3 454.4,420.5 457.3,425.7 460.2,427.7 463.2,427.4 466.1,426.3 469.0,427.3 472.0,425.1 474.9,424.1 477.8,421.9 480.8,419.4 483.7,415.4 486.6,416.2 489.5,416.5 492.5,422.6 495.4,425.9 498.3,428.0 501.3,427.7 504.2,426.6 507.1,422.7 510.1,420.5 513.0,419.0 515.9,419.4 518.8,421.3 521.8,426.1 524.7,428.7 527.6,428.1 530.6,427.4 533.5,429.2 536.4,426.9 539.4,424.1 542.3,430.6 545.2,430.3 548.1,430.3 551.1,429.1 554.0,428.9 556.9,427.6 559.9,429.6 562.8,428.8 565.7,428.5 568.6,422.6 571.6,421.0 574.5,417.0"/><g fill="#fff" fill-opacity="0.85">
<path d="M407.5 434.6l2 -3.6h-4z"/><path d="M410.4 432.1l2 -3.6h-4z"/><path d="M413.4 433.8l2 -3.6h-4z"/><path d="M416.3 432.1l2 -3.6h-4z"/><path d="M419.2 433.0l2 -3.6h-4z"/><path d="M422.1 432.7l2 -3.6h-4z"/><path d="M425.1 431.4l2 -3.6h-4z"/><path d="M428.0 432.3l2 -3.6h-4z"/><path d="M430.9 431.7l2 -3.6h-4z"/><path d="M433.9 430.8l2 -3.6h-4z"/><path d="M436.8 429.6l2 -3.6h-4z"/><path d="M439.7 431.2l2 -3.6h-4z"/><path d="M442.7 427.3l2 -3.6h-4z"/><path d="M445.6 424.7l2 -3.6h-4z"/><path d="M448.5 420.3l2 -3.6h-4z"/><path d="M451.4 416.5l2 -3.6h-4z"/><path d="M454.4 422.7l2 -3.6h-4z"/><path d="M457.3 427.9l2 -3.6h-4z"/><path d="M460.2 429.9l2 -3.6h-4z"/><path d="M463.2 429.6l2 -3.6h-4z"/><path d="M466.1 428.5l2 -3.6h-4z"/><path d="M469.0 429.5l2 -3.6h-4z"/><path d="M472.0 427.3l2 -3.6h-4z"/><path d="M474.9 426.3l2 -3.6h-4z"/><path d="M477.8 424.1l2 -3.6h-4z"/><path d="M480.8 421.6l2 -3.6h-4z"/><path d="M483.7 417.6l2 -3.6h-4z"/><path d="M486.6 418.4l2 -3.6h-4z"/><path d="M489.5 418.7l2 -3.6h-4z"/><path d="M492.5 424.8l2 -3.6h-4z"/><path d="M495.4 428.1l2 -3.6h-4z"/><path d="M498.3 430.2l2 -3.6h-4z"/><path d="M501.3 429.9l2 -3.6h-4z"/><path d="M504.2 428.8l2 -3.6h-4z"/><path d="M507.1 424.9l2 -3.6h-4z"/><path d="M510.1 422.7l2 -3.6h-4z"/><path d="M513.0 421.2l2 -3.6h-4z"/><path d="M515.9 421.6l2 -3.6h-4z"/><path d="M518.8 423.5l2 -3.6h-4z"/><path d="M521.8 428.3l2 -3.6h-4z"/><path d="M524.7 430.9l2 -3.6h-4z"/><path d="M527.6 430.3l2 -3.6h-4z"/><path d="M530.6 429.6l2 -3.6h-4z"/><path d="M533.5 431.4l2 -3.6h-4z"/><path d="M536.4 429.1l2 -3.6h-4z"/><path d="M539.4 426.3l2 -3.6h-4z"/><path d="M542.3 432.8l2 -3.6h-4z"/><path d="M545.2 432.5l2 -3.6h-4z"/><path d="M548.1 432.5l2 -3.6h-4z"/><path d="M551.1 431.3l2 -3.6h-4z"/><path d="M554.0 431.1l2 -3.6h-4z"/><path d="M556.9 429.8l2 -3.6h-4z"/><path d="M559.9 431.8l2 -3.6h-4z"/><path d="M562.8 431.0l2 -3.6h-4z"/><path d="M565.7 430.7l2 -3.6h-4z"/><path d="M568.6 424.8l2 -3.6h-4z"/><path d="M571.6 423.2l2 -3.6h-4z"/><path d="M574.5 419.2l2 -3.6h-4z"/>
</g></g>
<g stroke="#3838d8" stroke-width="0.8" fill="none"><polyline points="407.5,416.5 410.4,427.0 413.4,429.0 416.3,431.1 419.2,430.3 422.1,429.0 425.1,427.0 428.0,422.8 430.9,424.9 433.9,426.1 436.8,427.0 439.7,420.7 442.7,424.9 445.6,422.8 448.5,414.4 451.4,408.2 454.4,416.5 457.3,422.8 460.2,418.6 463.2,414.4 466.1,412.4 469.0,412.4 472.0,410.3 474.9,408.2 477.8,408.2 480.8,401.9 483.7,395.7 486.6,404.0 489.5,410.3 492.5,414.5 495.4,418.6 498.3,422.8 501.3,422.8 504.2,420.7 507.1,416.5 510.1,412.4 513.0,414.4 515.9,410.3 518.8,412.4 521.8,414.5 524.7,416.5 527.6,416.5 530.6,418.6 533.5,418.6 536.4,410.3 539.4,404.0 542.3,412.4 545.2,416.5 548.1,418.6 551.1,418.6 554.0,416.5 556.9,416.5 559.9,416.5 562.8,416.5 565.7,416.5 568.6,414.4 571.6,418.6 574.5,422.8"/><g fill="none" fill-opacity="0.85">
<path d="M405.5 416.5h4m-2 -2v4"/><path d="M408.4 427.0h4m-2 -2v4"/><path d="M411.4 429.0h4m-2 -2v4"/><path d="M414.3 431.1h4m-2 -2v4"/><path d="M417.2 430.3h4m-2 -2v4"/><path d="M420.1 429.0h4m-2 -2v4"/><path d="M423.1 427.0h4m-2 -2v4"/><path d="M426.0 422.8h4m-2 -2v4"/><path d="M428.9 424.9h4m-2 -2v4"/><path d="M431.9 426.1h4m-2 -2v4"/><path d="M434.8 427.0h4m-2 -2v4"/><path d="M437.7 420.7h4m-2 -2v4"/><path d="M440.7 424.9h4m-2 -2v4"/><path d="M443.6 422.8h4m-2 -2v4"/><path d="M446.5 414.4h4m-2 -2v4"/><path d="M449.4 408.2h4m-2 -2v4"/><path d="M452.4 416.5h4m-2 -2v4"/><path d="M455.3 422.8h4m-2 -2v4"/><path d="M458.2 418.6h4m-2 -2v4"/><path d="M461.2 414.4h4m-2 -2v4"/><path d="M464.1 412.4h4m-2 -2v4"/><path d="M467.0 412.4h4m-2 -2v4"/><path d="M470.0 410.3h4m-2 -2v4"/><path d="M472.9 408.2h4m-2 -2v4"/><path d="M475.8 408.2h4m-2 -2v4"/><path d="M478.8 401.9h4m-2 -2v4"/><path d="M481.7 395.7h4m-2 -2v4"/><path d="M484.6 404.0h4m-2 -2v4"/><path d="M487.5 410.3h4m-2 -2v4"/><path d="M490.5 414.5h4m-2 -2v4"/><path d="M493.4 418.6h4m-2 -2v4"/><path d="M496.3 422.8h4m-2 -2v4"/><path d="M499.3 422.8h4m-2 -2v4"/><path d="M502.2 420.7h4m-2 -2v4"/><path d="M505.1 416.5h4m-2 -2v4"/><path d="M508.1 412.4h4m-2 -2v4"/><path d="M511.0 414.4h4m-2 -2v4"/><path d="M513.9 410.3h4m-2 -2v4"/><path d="M516.8 412.4h4m-2 -2v4"/><path d="M519.8 414.5h4m-2 -2v4"/><path d="M522.7 416.5h4m-2 -2v4"/><path d="M525.6 416.5h4m-2 -2v4"/><path d="M528.6 418.6h4m-2 -2v4"/><path d="M531.5 418.6h4m-2 -2v4"/><path d="M534.4 410.3h4m-2 -2v4"/><path d="M537.4 404.0h4m-2 -2v4"/><path d="M540.3 412.4h4m-2 -2v4"/><path d="M543.2 416.5h4m-2 -2v4"/><path d="M546.1 418.6h4m-2 -2v4"/><path d="M549.1 418.6h4m-2 -2v4"/><path d="M552.0 416.5h4m-2 -2v4"/><path d="M554.9 416.5h4m-2 -2v4"/><path d="M557.9 416.5h4m-2 -2v4"/><path d="M560.8 416.5h4m-2 -2v4"/><path d="M563.7 416.5h4m-2 -2v4"/><path d="M566.6 414.4h4m-2 -2v4"/><path d="M569.6 418.6h4m-2 -2v4"/><path d="M572.5 422.8h4m-2 -2v4"/>
</g></g>
<g stroke="#e8404a" stroke-width="0.8" fill="none"><polyline points="407.5,431.1 410.4,418.6 413.4,427.0 416.3,429.0 419.2,429.0 422.1,427.0 425.1,422.8 428.0,410.3 430.9,397.8 433.9,399.9 436.8,397.8 439.7,399.9 442.7,401.9 445.6,401.9 448.5,401.9 451.4,389.4 454.4,385.3 457.3,404.0 460.2,422.8 463.2,418.6 466.1,404.0 469.0,406.1 472.0,393.6 474.9,393.6 477.8,391.5 480.8,381.1 483.7,376.9 486.6,379.0 489.5,389.4 492.5,391.5 495.4,391.5 498.3,401.9 501.3,404.0 504.2,404.0 507.1,401.9 510.1,393.6 513.0,391.5 515.9,387.3 518.8,383.2 521.8,381.1 524.7,381.9 527.6,385.3 530.6,391.5 533.5,401.9 536.4,408.2 539.4,406.1 542.3,406.1 545.2,408.2 548.1,408.2 551.1,414.4 554.0,408.2 556.9,401.9 559.9,399.9 562.8,395.7 565.7,395.7 568.6,393.6 571.6,412.4 574.5,416.5"/><g fill="#fff" fill-opacity="0.85">
<path d="M407.5 428.5l2.2 4h-4.4z"/><path d="M410.4 416.0l2.2 4h-4.4z"/><path d="M413.4 424.4l2.2 4h-4.4z"/><path d="M416.3 426.4l2.2 4h-4.4z"/><path d="M419.2 426.4l2.2 4h-4.4z"/><path d="M422.1 424.4l2.2 4h-4.4z"/><path d="M425.1 420.2l2.2 4h-4.4z"/><path d="M428.0 407.7l2.2 4h-4.4z"/><path d="M430.9 395.2l2.2 4h-4.4z"/><path d="M433.9 397.3l2.2 4h-4.4z"/><path d="M436.8 395.2l2.2 4h-4.4z"/><path d="M439.7 397.3l2.2 4h-4.4z"/><path d="M442.7 399.3l2.2 4h-4.4z"/><path d="M445.6 399.3l2.2 4h-4.4z"/><path d="M448.5 399.3l2.2 4h-4.4z"/><path d="M451.4 386.8l2.2 4h-4.4z"/><path d="M454.4 382.7l2.2 4h-4.4z"/><path d="M457.3 401.4l2.2 4h-4.4z"/><path d="M460.2 420.2l2.2 4h-4.4z"/><path d="M463.2 416.0l2.2 4h-4.4z"/><path d="M466.1 401.4l2.2 4h-4.4z"/><path d="M469.0 403.5l2.2 4h-4.4z"/><path d="M472.0 391.0l2.2 4h-4.4z"/><path d="M474.9 391.0l2.2 4h-4.4z"/><path d="M477.8 388.9l2.2 4h-4.4z"/><path d="M480.8 378.5l2.2 4h-4.4z"/><path d="M483.7 374.3l2.2 4h-4.4z"/><path d="M486.6 376.4l2.2 4h-4.4z"/><path d="M489.5 386.8l2.2 4h-4.4z"/><path d="M492.5 388.9l2.2 4h-4.4z"/><path d="M495.4 388.9l2.2 4h-4.4z"/><path d="M498.3 399.3l2.2 4h-4.4z"/><path d="M501.3 401.4l2.2 4h-4.4z"/><path d="M504.2 401.4l2.2 4h-4.4z"/><path d="M507.1 399.3l2.2 4h-4.4z"/><path d="M510.1 391.0l2.2 4h-4.4z"/><path d="M513.0 388.9l2.2 4h-4.4z"/><path d="M515.9 384.7l2.2 4h-4.4z"/><path d="M518.8 380.6l2.2 4h-4.4z"/><path d="M521.8 378.5l2.2 4h-4.4z"/><path d="M524.7 379.3l2.2 4h-4.4z"/><path d="M527.6 382.7l2.2 4h-4.4z"/><path d="M530.6 388.9l2.2 4h-4.4z"/><path d="M533.5 399.3l2.2 4h-4.4z"/><path d="M536.4 405.6l2.2 4h-4.4z"/><path d="M539.4 403.5l2.2 4h-4.4z"/><path d="M542.3 403.5l2.2 4h-4.4z"/><path d="M545.2 405.6l2.2 4h-4.4z"/><path d="M548.1 405.6l2.2 4h-4.4z"/><path d="M551.1 411.8l2.2 4h-4.4z"/><path d="M554.0 405.6l2.2 4h-4.4z"/><path d="M556.9 399.3l2.2 4h-4.4z"/><path d="M559.9 397.3l2.2 4h-4.4z"/><path d="M562.8 393.1l2.2 4h-4.4z"/><path d="M565.7 393.1l2.2 4h-4.4z"/><path d="M568.6 391.0l2.2 4h-4.4z"/><path d="M571.6 409.8l2.2 4h-4.4z"/><path d="M574.5 413.9l2.2 4h-4.4z"/>
</g></g>
<g stroke="#1a1a1a" stroke-width="0.8" fill="none"><polyline points="407.5,431.1 410.4,429.0 413.4,418.6 416.3,429.0 419.2,427.0 422.1,427.0 425.1,424.9 428.0,406.9 430.9,406.1 433.9,401.9 436.8,399.9 439.7,397.8 442.7,406.1 445.6,408.2 448.5,406.9 451.4,402.8 454.4,404.0 457.3,404.0 460.2,404.0 463.2,393.6 466.1,408.2 469.0,401.9 472.0,414.4 474.9,415.3 477.8,415.3 480.8,418.6 483.7,416.5 486.6,412.4 489.5,410.3 492.5,412.4 495.4,414.4 498.3,408.2 501.3,409.4 504.2,411.1 507.1,412.4 510.1,408.2 513.0,408.2 515.9,401.1 518.8,410.3 521.8,416.5 524.7,420.7 527.6,422.8 530.6,424.9 533.5,423.6 536.4,422.8 539.4,418.6 542.3,418.6 545.2,419.5 548.1,419.5 551.1,416.5 554.0,412.4 556.9,411.1 559.9,410.3 562.8,409.4 565.7,408.2 568.6,408.2 571.6,414.4 574.5,412.4"/><g fill="#fff" fill-opacity="0.85">
<circle cx="407.5" cy="431.1" r="1.9"/><circle cx="410.4" cy="429.0" r="1.9"/><circle cx="413.4" cy="418.6" r="1.9"/><circle cx="416.3" cy="429.0" r="1.9"/><circle cx="419.2" cy="427.0" r="1.9"/><circle cx="422.1" cy="427.0" r="1.9"/><circle cx="425.1" cy="424.9" r="1.9"/><circle cx="428.0" cy="406.9" r="1.9"/><circle cx="430.9" cy="406.1" r="1.9"/><circle cx="433.9" cy="401.9" r="1.9"/><circle cx="436.8" cy="399.9" r="1.9"/><circle cx="439.7" cy="397.8" r="1.9"/><circle cx="442.7" cy="406.1" r="1.9"/><circle cx="445.6" cy="408.2" r="1.9"/><circle cx="448.5" cy="406.9" r="1.9"/><circle cx="451.4" cy="402.8" r="1.9"/><circle cx="454.4" cy="404.0" r="1.9"/><circle cx="457.3" cy="404.0" r="1.9"/><circle cx="460.2" cy="404.0" r="1.9"/><circle cx="463.2" cy="393.6" r="1.9"/><circle cx="466.1" cy="408.2" r="1.9"/><circle cx="469.0" cy="401.9" r="1.9"/><circle cx="472.0" cy="414.4" r="1.9"/><circle cx="474.9" cy="415.3" r="1.9"/><circle cx="477.8" cy="415.3" r="1.9"/><circle cx="480.8" cy="418.6" r="1.9"/><circle cx="483.7" cy="416.5" r="1.9"/><circle cx="486.6" cy="412.4" r="1.9"/><circle cx="489.5" cy="410.3" r="1.9"/><circle cx="492.5" cy="412.4" r="1.9"/><circle cx="495.4" cy="414.4" r="1.9"/><circle cx="498.3" cy="408.2" r="1.9"/><circle cx="501.3" cy="409.4" r="1.9"/><circle cx="504.2" cy="411.1" r="1.9"/><circle cx="507.1" cy="412.4" r="1.9"/><circle cx="510.1" cy="408.2" r="1.9"/><circle cx="513.0" cy="408.2" r="1.9"/><circle cx="515.9" cy="401.1" r="1.9"/><circle cx="518.8" cy="410.3" r="1.9"/><circle cx="521.8" cy="416.5" r="1.9"/><circle cx="524.7" cy="420.7" r="1.9"/><circle cx="527.6" cy="422.8" r="1.9"/><circle cx="530.6" cy="424.9" r="1.9"/><circle cx="533.5" cy="423.6" r="1.9"/><circle cx="536.4" cy="422.8" r="1.9"/><circle cx="539.4" cy="418.6" r="1.9"/><circle cx="542.3" cy="418.6" r="1.9"/><circle cx="545.2" cy="419.5" r="1.9"/><circle cx="548.1" cy="419.5" r="1.9"/><circle cx="551.1" cy="416.5" r="1.9"/><circle cx="554.0" cy="412.4" r="1.9"/><circle cx="556.9" cy="411.1" r="1.9"/><circle cx="559.9" cy="410.3" r="1.9"/><circle cx="562.8" cy="409.4" r="1.9"/><circle cx="565.7" cy="408.2" r="1.9"/><circle cx="568.6" cy="408.2" r="1.9"/><circle cx="571.6" cy="414.4" r="1.9"/><circle cx="574.5" cy="412.4" r="1.9"/>
</g></g>
<path d="M407.5 310.2V435.3H584.3" stroke="#111" stroke-width="1.6" fill="none"/>
<path d="M407.5 393.6h3M407.5 351.9h3M407.5 310.2h3M480.8 435.3v-3M554.0 435.3v-3" stroke="#111" stroke-width="1.2" fill="none"/>
<g class="num" font-size="11.5" font-weight="bold" fill="#222" text-anchor="end">
<text x="401.5" y="397.6">0.1g</text>
<text x="401.5" y="355.9">0.2g</text>
<text x="401.5" y="314.2">0.3g</text>
</g><g class="num" font-size="11.5" font-weight="bold" fill="#222" text-anchor="middle">
<text x="404.5" y="450.3">0</text>
<text x="480.8" y="450.3">5</text>
<text x="554.0" y="450.3">10</text>
</g>
<text x="499.7" y="463.5" font-size="12" font-weight="bold" fill="#222" text-anchor="middle" textLength="60" lengthAdjust="spacingAndGlyphs">打入深度/m</text>
<text x="499.7" y="478.5" font-size="12" font-weight="bold" fill="#222" text-anchor="middle">(b) 径向</text>
<text transform="translate(373.6 371.5) rotate(-90)" font-size="12" font-weight="bold" fill="#222" text-anchor="middle" textLength="59" lengthAdjust="spacingAndGlyphs">峰值加速度</text>
<g stroke="#58d8e0" stroke-width="0.8" fill="none"><polyline points="641.3,430.5 644.2,432.0 647.2,431.2 650.1,430.3 653.0,430.1 655.9,428.3 658.9,428.9 661.8,428.9 664.7,428.7 667.7,429.4 670.6,427.3 673.5,424.5 676.5,424.2 679.4,424.2 682.3,424.6 685.2,421.4 688.2,423.4 691.1,423.1 694.0,424.9 697.0,424.9 699.9,425.4 702.8,425.2 705.8,426.5 708.7,424.3 711.6,426.0 714.5,424.5 717.5,423.6 720.4,422.5 723.3,423.1 726.3,422.2 729.2,419.9 732.1,421.9 735.1,423.5 738.0,421.9 740.9,425.7 743.8,423.6 746.8,425.1 749.7,424.3 752.6,421.9 755.6,423.3 758.5,422.1 761.4,423.1 764.4,421.4 767.3,422.1 770.2,422.9 773.1,424.2 776.1,423.2 779.0,422.8 781.9,423.5 784.9,422.7 787.8,423.8 790.7,422.2 793.7,421.4 796.6,420.5 799.5,419.9 802.4,422.7 805.4,426.5 808.3,429.2"/><g fill="none" fill-opacity="0.85">
<path d="M639.7 428.9l3.2 3.2m0 -3.2l-3.2 3.2"/><path d="M642.6 430.4l3.2 3.2m0 -3.2l-3.2 3.2"/><path d="M645.6 429.6l3.2 3.2m0 -3.2l-3.2 3.2"/><path d="M648.5 428.7l3.2 3.2m0 -3.2l-3.2 3.2"/><path d="M651.4 428.5l3.2 3.2m0 -3.2l-3.2 3.2"/><path d="M654.3 426.7l3.2 3.2m0 -3.2l-3.2 3.2"/><path d="M657.3 427.3l3.2 3.2m0 -3.2l-3.2 3.2"/><path d="M660.2 427.3l3.2 3.2m0 -3.2l-3.2 3.2"/><path d="M663.1 427.1l3.2 3.2m0 -3.2l-3.2 3.2"/><path d="M666.1 427.8l3.2 3.2m0 -3.2l-3.2 3.2"/><path d="M669.0 425.7l3.2 3.2m0 -3.2l-3.2 3.2"/><path d="M671.9 422.9l3.2 3.2m0 -3.2l-3.2 3.2"/><path d="M674.9 422.6l3.2 3.2m0 -3.2l-3.2 3.2"/><path d="M677.8 422.6l3.2 3.2m0 -3.2l-3.2 3.2"/><path d="M680.7 423.0l3.2 3.2m0 -3.2l-3.2 3.2"/><path d="M683.6 419.8l3.2 3.2m0 -3.2l-3.2 3.2"/><path d="M686.6 421.8l3.2 3.2m0 -3.2l-3.2 3.2"/><path d="M689.5 421.5l3.2 3.2m0 -3.2l-3.2 3.2"/><path d="M692.4 423.3l3.2 3.2m0 -3.2l-3.2 3.2"/><path d="M695.4 423.3l3.2 3.2m0 -3.2l-3.2 3.2"/><path d="M698.3 423.8l3.2 3.2m0 -3.2l-3.2 3.2"/><path d="M701.2 423.6l3.2 3.2m0 -3.2l-3.2 3.2"/><path d="M704.2 424.9l3.2 3.2m0 -3.2l-3.2 3.2"/><path d="M707.1 422.7l3.2 3.2m0 -3.2l-3.2 3.2"/><path d="M710.0 424.4l3.2 3.2m0 -3.2l-3.2 3.2"/><path d="M712.9 422.9l3.2 3.2m0 -3.2l-3.2 3.2"/><path d="M715.9 422.0l3.2 3.2m0 -3.2l-3.2 3.2"/><path d="M718.8 420.9l3.2 3.2m0 -3.2l-3.2 3.2"/><path d="M721.7 421.5l3.2 3.2m0 -3.2l-3.2 3.2"/><path d="M724.7 420.6l3.2 3.2m0 -3.2l-3.2 3.2"/><path d="M727.6 418.3l3.2 3.2m0 -3.2l-3.2 3.2"/><path d="M730.5 420.3l3.2 3.2m0 -3.2l-3.2 3.2"/><path d="M733.5 421.9l3.2 3.2m0 -3.2l-3.2 3.2"/><path d="M736.4 420.3l3.2 3.2m0 -3.2l-3.2 3.2"/><path d="M739.3 424.1l3.2 3.2m0 -3.2l-3.2 3.2"/><path d="M742.2 422.0l3.2 3.2m0 -3.2l-3.2 3.2"/><path d="M745.2 423.5l3.2 3.2m0 -3.2l-3.2 3.2"/><path d="M748.1 422.7l3.2 3.2m0 -3.2l-3.2 3.2"/><path d="M751.0 420.3l3.2 3.2m0 -3.2l-3.2 3.2"/><path d="M754.0 421.7l3.2 3.2m0 -3.2l-3.2 3.2"/><path d="M756.9 420.5l3.2 3.2m0 -3.2l-3.2 3.2"/><path d="M759.8 421.5l3.2 3.2m0 -3.2l-3.2 3.2"/><path d="M762.8 419.8l3.2 3.2m0 -3.2l-3.2 3.2"/><path d="M765.7 420.5l3.2 3.2m0 -3.2l-3.2 3.2"/><path d="M768.6 421.3l3.2 3.2m0 -3.2l-3.2 3.2"/><path d="M771.5 422.6l3.2 3.2m0 -3.2l-3.2 3.2"/><path d="M774.5 421.6l3.2 3.2m0 -3.2l-3.2 3.2"/><path d="M777.4 421.2l3.2 3.2m0 -3.2l-3.2 3.2"/><path d="M780.3 421.9l3.2 3.2m0 -3.2l-3.2 3.2"/><path d="M783.3 421.1l3.2 3.2m0 -3.2l-3.2 3.2"/><path d="M786.2 422.2l3.2 3.2m0 -3.2l-3.2 3.2"/><path d="M789.1 420.6l3.2 3.2m0 -3.2l-3.2 3.2"/><path d="M792.1 419.8l3.2 3.2m0 -3.2l-3.2 3.2"/><path d="M795.0 418.9l3.2 3.2m0 -3.2l-3.2 3.2"/><path d="M797.9 418.3l3.2 3.2m0 -3.2l-3.2 3.2"/><path d="M800.8 421.1l3.2 3.2m0 -3.2l-3.2 3.2"/><path d="M803.8 424.9l3.2 3.2m0 -3.2l-3.2 3.2"/><path d="M806.7 427.6l3.2 3.2m0 -3.2l-3.2 3.2"/>
</g></g>
<g stroke="#58d048" stroke-width="0.8" fill="none"><polyline points="641.3,432.8 644.2,434.0 647.2,432.3 650.1,430.8 653.0,430.4 655.9,431.0 658.9,431.4 661.8,430.1 664.7,429.4 667.7,429.5 670.6,429.6 673.5,429.7 676.5,431.4 679.4,431.2 682.3,432.0 685.2,430.6 688.2,429.3 691.1,431.6 694.0,431.6 697.0,428.7 699.9,429.5 702.8,428.5 705.8,429.5 708.7,428.7 711.6,426.6 714.5,426.6 717.5,426.6 720.4,427.1 723.3,429.9 726.3,429.9 729.2,431.3 732.1,431.1 735.1,431.5 738.0,429.5 740.9,430.7 743.8,432.3 746.8,430.1 749.7,428.9 752.6,428.7 755.6,429.4 758.5,430.7 761.4,427.2 764.4,425.9 767.3,425.8 770.2,425.9 773.1,425.3 776.1,424.6 779.0,427.2 781.9,425.3 784.9,426.6 787.8,428.4 790.7,425.9 793.7,427.3 796.6,428.3 799.5,428.0 802.4,427.2 805.4,430.8 808.3,430.2"/><g fill="#fff" fill-opacity="0.85">
<rect x="639.6" y="431.1" width="3.4" height="3.4"/><rect x="642.5" y="432.3" width="3.4" height="3.4"/><rect x="645.5" y="430.6" width="3.4" height="3.4"/><rect x="648.4" y="429.1" width="3.4" height="3.4"/><rect x="651.3" y="428.7" width="3.4" height="3.4"/><rect x="654.2" y="429.3" width="3.4" height="3.4"/><rect x="657.2" y="429.7" width="3.4" height="3.4"/><rect x="660.1" y="428.4" width="3.4" height="3.4"/><rect x="663.0" y="427.7" width="3.4" height="3.4"/><rect x="666.0" y="427.8" width="3.4" height="3.4"/><rect x="668.9" y="427.9" width="3.4" height="3.4"/><rect x="671.8" y="428.0" width="3.4" height="3.4"/><rect x="674.8" y="429.7" width="3.4" height="3.4"/><rect x="677.7" y="429.5" width="3.4" height="3.4"/><rect x="680.6" y="430.3" width="3.4" height="3.4"/><rect x="683.5" y="428.9" width="3.4" height="3.4"/><rect x="686.5" y="427.6" width="3.4" height="3.4"/><rect x="689.4" y="429.9" width="3.4" height="3.4"/><rect x="692.3" y="429.9" width="3.4" height="3.4"/><rect x="695.3" y="427.0" width="3.4" height="3.4"/><rect x="698.2" y="427.8" width="3.4" height="3.4"/><rect x="701.1" y="426.8" width="3.4" height="3.4"/><rect x="704.1" y="427.8" width="3.4" height="3.4"/><rect x="707.0" y="427.0" width="3.4" height="3.4"/><rect x="709.9" y="424.9" width="3.4" height="3.4"/><rect x="712.8" y="424.9" width="3.4" height="3.4"/><rect x="715.8" y="424.9" width="3.4" height="3.4"/><rect x="718.7" y="425.4" width="3.4" height="3.4"/><rect x="721.6" y="428.2" width="3.4" height="3.4"/><rect x="724.6" y="428.2" width="3.4" height="3.4"/><rect x="727.5" y="429.6" width="3.4" height="3.4"/><rect x="730.4" y="429.4" width="3.4" height="3.4"/><rect x="733.4" y="429.8" width="3.4" height="3.4"/><rect x="736.3" y="427.8" width="3.4" height="3.4"/><rect x="739.2" y="429.0" width="3.4" height="3.4"/><rect x="742.1" y="430.6" width="3.4" height="3.4"/><rect x="745.1" y="428.4" width="3.4" height="3.4"/><rect x="748.0" y="427.2" width="3.4" height="3.4"/><rect x="750.9" y="427.0" width="3.4" height="3.4"/><rect x="753.9" y="427.7" width="3.4" height="3.4"/><rect x="756.8" y="429.0" width="3.4" height="3.4"/><rect x="759.7" y="425.5" width="3.4" height="3.4"/><rect x="762.7" y="424.2" width="3.4" height="3.4"/><rect x="765.6" y="424.1" width="3.4" height="3.4"/><rect x="768.5" y="424.2" width="3.4" height="3.4"/><rect x="771.4" y="423.6" width="3.4" height="3.4"/><rect x="774.4" y="422.9" width="3.4" height="3.4"/><rect x="777.3" y="425.5" width="3.4" height="3.4"/><rect x="780.2" y="423.6" width="3.4" height="3.4"/><rect x="783.2" y="424.9" width="3.4" height="3.4"/><rect x="786.1" y="426.7" width="3.4" height="3.4"/><rect x="789.0" y="424.2" width="3.4" height="3.4"/><rect x="792.0" y="425.6" width="3.4" height="3.4"/><rect x="794.9" y="426.6" width="3.4" height="3.4"/><rect x="797.8" y="426.3" width="3.4" height="3.4"/><rect x="800.7" y="425.5" width="3.4" height="3.4"/><rect x="803.7" y="429.1" width="3.4" height="3.4"/><rect x="806.6" y="428.5" width="3.4" height="3.4"/>
</g></g>
<g stroke="#3050e0" stroke-width="0.8" fill="none"><polyline points="641.3,432.2 644.2,433.8 647.2,431.8 650.1,429.8 653.0,429.9 655.9,427.8 658.9,429.8 661.8,429.3 664.7,430.9 667.7,429.0 670.6,429.2 673.5,429.0 676.5,428.7 679.4,427.5 682.3,426.6 685.2,428.2 688.2,427.2 691.1,428.2 694.0,428.3 697.0,428.0 699.9,425.8 702.8,429.2 705.8,430.1 708.7,431.4 711.6,431.9 714.5,430.5 717.5,428.0 720.4,426.7 723.3,427.0 726.3,425.8 729.2,423.0 732.1,422.7 735.1,421.5 738.0,420.1 740.9,420.9 743.8,419.0 746.8,422.0 749.7,423.5 752.6,425.5 755.6,425.8 758.5,425.4 761.4,423.3 764.4,422.0 767.3,422.4 770.2,424.3 773.1,421.5 776.1,424.4 779.0,424.4 781.9,425.8 784.9,430.2 787.8,429.0 790.7,428.4 793.7,424.7 796.6,419.5 799.5,418.8 802.4,417.7 805.4,424.1 808.3,429.7"/><g fill="#fff" fill-opacity="0.85">
<path d="M641.3 434.4l2 -3.6h-4z"/><path d="M644.2 436.0l2 -3.6h-4z"/><path d="M647.2 434.0l2 -3.6h-4z"/><path d="M650.1 432.0l2 -3.6h-4z"/><path d="M653.0 432.1l2 -3.6h-4z"/><path d="M655.9 430.0l2 -3.6h-4z"/><path d="M658.9 432.0l2 -3.6h-4z"/><path d="M661.8 431.5l2 -3.6h-4z"/><path d="M664.7 433.1l2 -3.6h-4z"/><path d="M667.7 431.2l2 -3.6h-4z"/><path d="M670.6 431.4l2 -3.6h-4z"/><path d="M673.5 431.2l2 -3.6h-4z"/><path d="M676.5 430.9l2 -3.6h-4z"/><path d="M679.4 429.7l2 -3.6h-4z"/><path d="M682.3 428.8l2 -3.6h-4z"/><path d="M685.2 430.4l2 -3.6h-4z"/><path d="M688.2 429.4l2 -3.6h-4z"/><path d="M691.1 430.4l2 -3.6h-4z"/><path d="M694.0 430.5l2 -3.6h-4z"/><path d="M697.0 430.2l2 -3.6h-4z"/><path d="M699.9 428.0l2 -3.6h-4z"/><path d="M702.8 431.4l2 -3.6h-4z"/><path d="M705.8 432.3l2 -3.6h-4z"/><path d="M708.7 433.6l2 -3.6h-4z"/><path d="M711.6 434.1l2 -3.6h-4z"/><path d="M714.5 432.7l2 -3.6h-4z"/><path d="M717.5 430.2l2 -3.6h-4z"/><path d="M720.4 428.9l2 -3.6h-4z"/><path d="M723.3 429.2l2 -3.6h-4z"/><path d="M726.3 428.0l2 -3.6h-4z"/><path d="M729.2 425.2l2 -3.6h-4z"/><path d="M732.1 424.9l2 -3.6h-4z"/><path d="M735.1 423.7l2 -3.6h-4z"/><path d="M738.0 422.3l2 -3.6h-4z"/><path d="M740.9 423.1l2 -3.6h-4z"/><path d="M743.8 421.2l2 -3.6h-4z"/><path d="M746.8 424.2l2 -3.6h-4z"/><path d="M749.7 425.7l2 -3.6h-4z"/><path d="M752.6 427.7l2 -3.6h-4z"/><path d="M755.6 428.0l2 -3.6h-4z"/><path d="M758.5 427.6l2 -3.6h-4z"/><path d="M761.4 425.5l2 -3.6h-4z"/><path d="M764.4 424.2l2 -3.6h-4z"/><path d="M767.3 424.6l2 -3.6h-4z"/><path d="M770.2 426.5l2 -3.6h-4z"/><path d="M773.1 423.7l2 -3.6h-4z"/><path d="M776.1 426.6l2 -3.6h-4z"/><path d="M779.0 426.6l2 -3.6h-4z"/><path d="M781.9 428.0l2 -3.6h-4z"/><path d="M784.9 432.4l2 -3.6h-4z"/><path d="M787.8 431.2l2 -3.6h-4z"/><path d="M790.7 430.6l2 -3.6h-4z"/><path d="M793.7 426.9l2 -3.6h-4z"/><path d="M796.6 421.7l2 -3.6h-4z"/><path d="M799.5 421.0l2 -3.6h-4z"/><path d="M802.4 419.9l2 -3.6h-4z"/><path d="M805.4 426.3l2 -3.6h-4z"/><path d="M808.3 431.9l2 -3.6h-4z"/>
</g></g>
<g stroke="#3838d8" stroke-width="0.8" fill="none"><polyline points="641.3,429.0 644.2,427.8 647.2,427.0 650.1,428.1 653.0,428.8 655.9,429.0 658.9,427.0 661.8,424.9 664.7,418.6 667.7,422.8 670.6,416.5 673.5,420.7 676.5,422.8 679.4,420.7 682.3,422.8 685.2,418.6 688.2,414.4 691.1,410.3 694.0,418.6 697.0,418.6 699.9,419.5 702.8,420.7 705.8,422.8 708.7,423.6 711.6,422.8 714.5,418.6 717.5,412.4 720.4,416.5 723.3,410.3 726.3,404.0 729.2,410.3 732.1,412.4 735.1,414.4 738.0,408.2 740.9,406.1 743.8,404.0 746.8,406.1 749.7,412.4 752.6,418.6 755.6,418.6 758.5,418.6 761.4,419.9 764.4,420.7 767.3,419.5 770.2,418.6 773.1,418.6 776.1,418.6 779.0,419.9 781.9,420.7 784.9,419.5 787.8,418.6 790.7,418.6 793.7,418.6 796.6,418.6 799.5,418.6 802.4,420.7 805.4,422.8 808.3,424.9"/><g fill="none" fill-opacity="0.85">
<path d="M639.3 429.0h4m-2 -2v4"/><path d="M642.2 427.8h4m-2 -2v4"/><path d="M645.2 427.0h4m-2 -2v4"/><path d="M648.1 428.1h4m-2 -2v4"/><path d="M651.0 428.8h4m-2 -2v4"/><path d="M653.9 429.0h4m-2 -2v4"/><path d="M656.9 427.0h4m-2 -2v4"/><path d="M659.8 424.9h4m-2 -2v4"/><path d="M662.7 418.6h4m-2 -2v4"/><path d="M665.7 422.8h4m-2 -2v4"/><path d="M668.6 416.5h4m-2 -2v4"/><path d="M671.5 420.7h4m-2 -2v4"/><path d="M674.5 422.8h4m-2 -2v4"/><path d="M677.4 420.7h4m-2 -2v4"/><path d="M680.3 422.8h4m-2 -2v4"/><path d="M683.2 418.6h4m-2 -2v4"/><path d="M686.2 414.4h4m-2 -2v4"/><path d="M689.1 410.3h4m-2 -2v4"/><path d="M692.0 418.6h4m-2 -2v4"/><path d="M695.0 418.6h4m-2 -2v4"/><path d="M697.9 419.5h4m-2 -2v4"/><path d="M700.8 420.7h4m-2 -2v4"/><path d="M703.8 422.8h4m-2 -2v4"/><path d="M706.7 423.6h4m-2 -2v4"/><path d="M709.6 422.8h4m-2 -2v4"/><path d="M712.5 418.6h4m-2 -2v4"/><path d="M715.5 412.4h4m-2 -2v4"/><path d="M718.4 416.5h4m-2 -2v4"/><path d="M721.3 410.3h4m-2 -2v4"/><path d="M724.3 404.0h4m-2 -2v4"/><path d="M727.2 410.3h4m-2 -2v4"/><path d="M730.1 412.4h4m-2 -2v4"/><path d="M733.1 414.4h4m-2 -2v4"/><path d="M736.0 408.2h4m-2 -2v4"/><path d="M738.9 406.1h4m-2 -2v4"/><path d="M741.8 404.0h4m-2 -2v4"/><path d="M744.8 406.1h4m-2 -2v4"/><path d="M747.7 412.4h4m-2 -2v4"/><path d="M750.6 418.6h4m-2 -2v4"/><path d="M753.6 418.6h4m-2 -2v4"/><path d="M756.5 418.6h4m-2 -2v4"/><path d="M759.4 419.9h4m-2 -2v4"/><path d="M762.4 420.7h4m-2 -2v4"/><path d="M765.3 419.5h4m-2 -2v4"/><path d="M768.2 418.6h4m-2 -2v4"/><path d="M771.1 418.6h4m-2 -2v4"/><path d="M774.1 418.6h4m-2 -2v4"/><path d="M777.0 419.9h4m-2 -2v4"/><path d="M779.9 420.7h4m-2 -2v4"/><path d="M782.9 419.5h4m-2 -2v4"/><path d="M785.8 418.6h4m-2 -2v4"/><path d="M788.7 418.6h4m-2 -2v4"/><path d="M791.7 418.6h4m-2 -2v4"/><path d="M794.6 418.6h4m-2 -2v4"/><path d="M797.5 418.6h4m-2 -2v4"/><path d="M800.4 420.7h4m-2 -2v4"/><path d="M803.4 422.8h4m-2 -2v4"/><path d="M806.3 424.9h4m-2 -2v4"/>
</g></g>
<g stroke="#e8404a" stroke-width="0.8" fill="none"><polyline points="641.3,433.2 644.2,424.9 647.2,422.8 650.1,427.0 653.0,424.9 655.9,422.8 658.9,422.8 661.8,418.6 664.7,401.9 667.7,410.3 670.6,391.5 673.5,408.2 676.5,397.8 679.4,401.9 682.3,418.6 685.2,416.5 688.2,410.3 691.1,404.0 694.0,408.2 697.0,404.0 699.9,408.2 702.8,406.1 705.8,410.3 708.7,418.6 711.6,422.8 714.5,418.6 717.5,416.5 720.4,410.3 723.3,404.0 726.3,404.0 729.2,397.8 732.1,393.6 735.1,388.6 738.0,393.6 740.9,395.7 743.8,404.0 746.8,406.1 749.7,401.9 752.6,412.4 755.6,406.1 758.5,393.6 761.4,404.0 764.4,395.7 767.3,389.4 770.2,395.7 773.1,399.9 776.1,395.7 779.0,404.0 781.9,406.1 784.9,399.9 787.8,406.1 790.7,397.8 793.7,391.5 796.6,401.9 799.5,399.9 802.4,395.7 805.4,418.6 808.3,418.6"/><g fill="#fff" fill-opacity="0.85">
<path d="M641.3 430.6l2.2 4h-4.4z"/><path d="M644.2 422.3l2.2 4h-4.4z"/><path d="M647.2 420.2l2.2 4h-4.4z"/><path d="M650.1 424.4l2.2 4h-4.4z"/><path d="M653.0 422.3l2.2 4h-4.4z"/><path d="M655.9 420.2l2.2 4h-4.4z"/><path d="M658.9 420.2l2.2 4h-4.4z"/><path d="M661.8 416.0l2.2 4h-4.4z"/><path d="M664.7 399.3l2.2 4h-4.4z"/><path d="M667.7 407.7l2.2 4h-4.4z"/><path d="M670.6 388.9l2.2 4h-4.4z"/><path d="M673.5 405.6l2.2 4h-4.4z"/><path d="M676.5 395.2l2.2 4h-4.4z"/><path d="M679.4 399.3l2.2 4h-4.4z"/><path d="M682.3 416.0l2.2 4h-4.4z"/><path d="M685.2 413.9l2.2 4h-4.4z"/><path d="M688.2 407.7l2.2 4h-4.4z"/><path d="M691.1 401.4l2.2 4h-4.4z"/><path d="M694.0 405.6l2.2 4h-4.4z"/><path d="M697.0 401.4l2.2 4h-4.4z"/><path d="M699.9 405.6l2.2 4h-4.4z"/><path d="M702.8 403.5l2.2 4h-4.4z"/><path d="M705.8 407.7l2.2 4h-4.4z"/><path d="M708.7 416.0l2.2 4h-4.4z"/><path d="M711.6 420.2l2.2 4h-4.4z"/><path d="M714.5 416.0l2.2 4h-4.4z"/><path d="M717.5 413.9l2.2 4h-4.4z"/><path d="M720.4 407.7l2.2 4h-4.4z"/><path d="M723.3 401.4l2.2 4h-4.4z"/><path d="M726.3 401.4l2.2 4h-4.4z"/><path d="M729.2 395.2l2.2 4h-4.4z"/><path d="M732.1 391.0l2.2 4h-4.4z"/><path d="M735.1 386.0l2.2 4h-4.4z"/><path d="M738.0 391.0l2.2 4h-4.4z"/><path d="M740.9 393.1l2.2 4h-4.4z"/><path d="M743.8 401.4l2.2 4h-4.4z"/><path d="M746.8 403.5l2.2 4h-4.4z"/><path d="M749.7 399.3l2.2 4h-4.4z"/><path d="M752.6 409.8l2.2 4h-4.4z"/><path d="M755.6 403.5l2.2 4h-4.4z"/><path d="M758.5 391.0l2.2 4h-4.4z"/><path d="M761.4 401.4l2.2 4h-4.4z"/><path d="M764.4 393.1l2.2 4h-4.4z"/><path d="M767.3 386.8l2.2 4h-4.4z"/><path d="M770.2 393.1l2.2 4h-4.4z"/><path d="M773.1 397.3l2.2 4h-4.4z"/><path d="M776.1 393.1l2.2 4h-4.4z"/><path d="M779.0 401.4l2.2 4h-4.4z"/><path d="M781.9 403.5l2.2 4h-4.4z"/><path d="M784.9 397.3l2.2 4h-4.4z"/><path d="M787.8 403.5l2.2 4h-4.4z"/><path d="M790.7 395.2l2.2 4h-4.4z"/><path d="M793.7 388.9l2.2 4h-4.4z"/><path d="M796.6 399.3l2.2 4h-4.4z"/><path d="M799.5 397.3l2.2 4h-4.4z"/><path d="M802.4 393.1l2.2 4h-4.4z"/><path d="M805.4 416.0l2.2 4h-4.4z"/><path d="M808.3 416.0l2.2 4h-4.4z"/>
</g></g>
<g stroke="#1a1a1a" stroke-width="0.8" fill="none"><polyline points="641.3,431.1 644.2,427.0 647.2,419.5 650.1,426.1 653.0,423.6 655.9,422.8 658.9,417.8 661.8,416.5 664.7,341.5 667.7,360.2 670.6,391.5 673.5,381.1 676.5,410.3 679.4,418.6 682.3,416.5 685.2,418.6 688.2,416.5 691.1,412.4 694.0,404.0 697.0,401.9 699.9,381.1 702.8,374.8 705.8,391.5 708.7,383.2 711.6,393.6 714.5,390.3 717.5,393.6 720.4,406.1 723.3,399.9 726.3,401.9 729.2,397.8 732.1,387.3 735.1,388.6 738.0,390.3 740.9,406.1 743.8,420.7 746.8,422.8 749.7,427.0 752.6,418.6 755.6,418.6 758.5,418.6 761.4,416.5 764.4,418.6 767.3,416.5 770.2,414.4 773.1,412.4 776.1,416.5 779.0,418.6 781.9,418.6 784.9,417.8 787.8,418.6 790.7,417.8 793.7,418.6 796.6,418.6 799.5,422.8 802.4,423.6 805.4,418.6 808.3,418.6"/><g fill="#fff" fill-opacity="0.85">
<circle cx="641.3" cy="431.1" r="1.9"/><circle cx="644.2" cy="427.0" r="1.9"/><circle cx="647.2" cy="419.5" r="1.9"/><circle cx="650.1" cy="426.1" r="1.9"/><circle cx="653.0" cy="423.6" r="1.9"/><circle cx="655.9" cy="422.8" r="1.9"/><circle cx="658.9" cy="417.8" r="1.9"/><circle cx="661.8" cy="416.5" r="1.9"/><circle cx="664.7" cy="341.5" r="1.9"/><circle cx="667.7" cy="360.2" r="1.9"/><circle cx="670.6" cy="391.5" r="1.9"/><circle cx="673.5" cy="381.1" r="1.9"/><circle cx="676.5" cy="410.3" r="1.9"/><circle cx="679.4" cy="418.6" r="1.9"/><circle cx="682.3" cy="416.5" r="1.9"/><circle cx="685.2" cy="418.6" r="1.9"/><circle cx="688.2" cy="416.5" r="1.9"/><circle cx="691.1" cy="412.4" r="1.9"/><circle cx="694.0" cy="404.0" r="1.9"/><circle cx="697.0" cy="401.9" r="1.9"/><circle cx="699.9" cy="381.1" r="1.9"/><circle cx="702.8" cy="374.8" r="1.9"/><circle cx="705.8" cy="391.5" r="1.9"/><circle cx="708.7" cy="383.2" r="1.9"/><circle cx="711.6" cy="393.6" r="1.9"/><circle cx="714.5" cy="390.3" r="1.9"/><circle cx="717.5" cy="393.6" r="1.9"/><circle cx="720.4" cy="406.1" r="1.9"/><circle cx="723.3" cy="399.9" r="1.9"/><circle cx="726.3" cy="401.9" r="1.9"/><circle cx="729.2" cy="397.8" r="1.9"/><circle cx="732.1" cy="387.3" r="1.9"/><circle cx="735.1" cy="388.6" r="1.9"/><circle cx="738.0" cy="390.3" r="1.9"/><circle cx="740.9" cy="406.1" r="1.9"/><circle cx="743.8" cy="420.7" r="1.9"/><circle cx="746.8" cy="422.8" r="1.9"/><circle cx="749.7" cy="427.0" r="1.9"/><circle cx="752.6" cy="418.6" r="1.9"/><circle cx="755.6" cy="418.6" r="1.9"/><circle cx="758.5" cy="418.6" r="1.9"/><circle cx="761.4" cy="416.5" r="1.9"/><circle cx="764.4" cy="418.6" r="1.9"/><circle cx="767.3" cy="416.5" r="1.9"/><circle cx="770.2" cy="414.4" r="1.9"/><circle cx="773.1" cy="412.4" r="1.9"/><circle cx="776.1" cy="416.5" r="1.9"/><circle cx="779.0" cy="418.6" r="1.9"/><circle cx="781.9" cy="418.6" r="1.9"/><circle cx="784.9" cy="417.8" r="1.9"/><circle cx="787.8" cy="418.6" r="1.9"/><circle cx="790.7" cy="417.8" r="1.9"/><circle cx="793.7" cy="418.6" r="1.9"/><circle cx="796.6" cy="418.6" r="1.9"/><circle cx="799.5" cy="422.8" r="1.9"/><circle cx="802.4" cy="423.6" r="1.9"/><circle cx="805.4" cy="418.6" r="1.9"/><circle cx="808.3" cy="418.6" r="1.9"/>
</g></g>
<path d="M641.3 310.2V435.3H818.1" stroke="#111" stroke-width="1.6" fill="none"/>
<path d="M641.3 393.6h3M641.3 351.9h3M641.3 310.2h3M714.5 435.3v-3M787.8 435.3v-3" stroke="#111" stroke-width="1.2" fill="none"/>
<g class="num" font-size="11.5" font-weight="bold" fill="#222" text-anchor="end">
<text x="635.3" y="397.6">0.1g</text>
<text x="635.3" y="355.9">0.2g</text>
<text x="635.3" y="314.2">0.3g</text>
</g><g class="num" font-size="11.5" font-weight="bold" fill="#222" text-anchor="middle">
<text x="638.3" y="450.3">0</text>
<text x="714.5" y="450.3">5</text>
<text x="787.8" y="450.3">10</text>
</g>
<text x="733.0" y="463.5" font-size="12" font-weight="bold" fill="#222" text-anchor="middle" textLength="60" lengthAdjust="spacingAndGlyphs">打入深度/m</text>
<text x="733.0" y="478.5" font-size="12" font-weight="bold" fill="#222" text-anchor="middle">(c) 竖向</text>
<text transform="translate(607.0 371.5) rotate(-90)" font-size="12" font-weight="bold" fill="#222" text-anchor="middle" textLength="59" lengthAdjust="spacingAndGlyphs">峰值加速度</text>
<text x="332" y="496.3" font-size="12" font-weight="bold" fill="#222" textLength="88" lengthAdjust="spacingAndGlyphs">测点到振源距离:</text>
<g stroke="#1a1a1a" stroke-width="0.8" fill="#fff" transform="translate(438.8 492.5) scale(0.8) translate(-438.8 -492.5)"><circle cx="438.8" cy="492.5" r="1.9"/></g>
<text x="444.0" y="496.5" font-size="12" font-weight="bold" fill="#222">1 m</text>
<g stroke="#e8404a" stroke-width="0.8" fill="#fff" transform="translate(480.0 492.5) scale(0.8) translate(-480.0 -492.5)"><path d="M480.0 489.9l2.2 4h-4.4z"/></g>
<text x="486.0" y="496.5" font-size="12" font-weight="bold" fill="#222">2 m</text>
<g stroke="#3838d8" stroke-width="0.8" fill="none" transform="translate(523.0 492.5) scale(0.8) translate(-523.0 -492.5)"><path d="M521.0 492.5h4m-2 -2v4"/></g>
<text x="528.0" y="496.5" font-size="12" font-weight="bold" fill="#222">3 m</text>
<g stroke="#3050e0" stroke-width="0.8" fill="#fff" transform="translate(564.8 492.5) scale(0.8) translate(-564.8 -492.5)"><path d="M564.8 494.7l2 -3.6h-4z"/></g>
<text x="570.8" y="496.5" font-size="12" font-weight="bold" fill="#222">4 m</text>
<g stroke="#58d048" stroke-width="0.8" fill="#fff" transform="translate(607.0 492.5) scale(0.8) translate(-607.0 -492.5)"><rect x="605.3" y="490.8" width="3.4" height="3.4"/></g>
<text x="612.5" y="496.5" font-size="12" font-weight="bold" fill="#222">5 m</text>
<g stroke="#58d8e0" stroke-width="0.8" fill="none" transform="translate(650.0 492.5) scale(0.8) translate(-650.0 -492.5)"><path d="M648.4 490.9l3.2 3.2m0 -3.2l-3.2 3.2"/></g>
<text x="655.5" y="496.5" font-size="12" font-weight="bold" fill="#222">6 m</text>
</svg>
<svg width="950" height="1344" viewBox="0 0 950 1344" id="fig4">
<defs>
<pattern id="pFill" width="4.4" height="4.4" patternUnits="userSpaceOnUse"><rect width="4.4" height="4.4" fill="#08201f"/><circle cx="1.1" cy="1.1" r="1.2" fill="#86f2f0"/><circle cx="3.3" cy="3.3" r="1.2" fill="#86f2f0"/></pattern>
<pattern id="pClay" width="3.2" height="3.2" patternUnits="userSpaceOnUse"><rect width="3.2" height="3.2" fill="#ee7cc0"/><path d="M-0.8 0.8L0.8 -0.8M0 3.2L3.2 0M2.4 4L4 2.4" stroke="#2a0420" stroke-width="1.15"/></pattern>
<pattern id="pSilt" width="4" height="4" patternUnits="userSpaceOnUse"><rect width="4" height="4" fill="#a4aaff"/><path d="M-1 3L1 5M0 0L4 4M3 -1L5 1" stroke="#101060" stroke-width="1.2"/></pattern>
<pattern id="pMud" width="2.2" height="2.6" patternUnits="userSpaceOnUse"><rect width="2.2" height="2.6" fill="#0a430c"/><rect x="0.3" y="0.9" width="1.1" height="0.7" fill="#3f8f3a"/></pattern>
</defs>
<rect x="253.4" y="751.6" width="210.0" height="173.6" fill="#224ed0"/>
<g stroke="#0c0c30" stroke-width="0.55" stroke-opacity="0.8" stroke-linejoin="round">
<path fill="#2c5ee4" d="M253.4,751.6L463.4,751.6L463.4,755.5L361.9,755.5L358.9,755.9L358.4,757.0L358.7,759.0L363.1,760.0L363.7,762.9L368.1,763.9L368.4,764.9L368.4,769.8L368.7,770.8L373.1,771.8L373.4,772.8L373.4,777.7L373.7,778.7L375.9,779.2L396.9,779.3L398.1,779.7L398.7,782.7L403.1,783.7L403.4,784.6L403.4,789.6L402.9,790.7L400.9,791.0L385.9,791.1L383.9,791.8L383.4,792.5L383.4,797.5L383.7,798.5L388.1,799.4L388.4,801.4L388.9,802.5L391.9,802.9L420.9,802.9L423.1,802.4L423.7,799.4L424.9,799.1L463.4,798.9L463.4,806.8L395.9,806.9L393.7,807.3L393.1,810.3L388.9,811.2L388.4,812.3L388.7,814.2L393.1,815.2L393.7,818.2L394.9,818.6L463.4,818.7L463.4,822.6L399.9,822.7L398.7,823.1L398.1,826.1L393.7,827.1L393.4,829.0L393.4,852.7L393.7,853.7L398.1,854.7L398.7,857.6L403.1,858.6L403.4,860.6L403.9,861.7L406.9,862.1L463.4,862.1L463.4,893.6L396.9,893.6L393.9,893.3L393.4,892.2L393.4,891.2L393.4,887.2L393.9,886.1L396.9,885.7L415.9,885.7L421.6,885.3L423.4,884.3L423.1,882.3L421.9,881.9L399.9,881.7L398.7,881.3L398.1,878.3L393.7,877.4L393.4,875.4L393.7,874.4L394.9,874.0L410.9,873.9L413.1,873.4L413.4,871.4L413.4,867.5L413.1,866.5L411.9,866.1L409.9,866.0L374.9,866.1L373.7,866.5L373.4,867.5L373.4,872.4L373.1,873.4L368.7,874.4L368.4,875.4L368.4,880.3L368.1,881.3L365.9,881.8L354.9,881.9L353.7,882.3L353.4,883.3L353.4,884.3L354.9,885.2L358.9,885.5L362.9,886.1L363.4,887.2L363.4,888.2L364.1,889.2L368.1,890.2L368.4,891.2L368.4,900.0L368.7,901.0L370.9,901.5L386.9,901.6L388.1,902.0L388.7,905.0L393.1,906.0L393.4,907.9L392.9,909.0L390.9,909.4L384.9,909.5L383.7,909.9L383.4,910.9L383.4,915.8L383.1,916.8L381.9,917.2L375.9,917.3L373.7,917.8L373.4,918.8L373.4,925.2L253.4,925.2L253.4,766.3L255.9,766.2L256.8,765.9L257.0,758.0L256.9,756.0L255.9,755.6L253.4,755.5ZM280.9,811.3L279.9,811.4L278.4,812.3L278.4,813.2L279.9,814.1L280.9,814.3L320.9,814.1L349.9,814.7L352.9,814.3L353.4,813.2L353.1,811.3L350.9,810.8L307.9,810.8L300.9,811.2ZM310.9,795.5L309.9,795.6L308.4,796.5L308.4,797.5L309.9,798.1L311.9,798.3L360.9,798.5L361.9,798.5L363.4,797.5L363.1,795.5L360.9,795.0L326.9,795.0L321.9,795.4ZM298.9,913.8L280.9,914.1L279.8,914.8L279.8,915.8L281.9,916.4L304.9,916.8L339.9,916.9L341.9,916.7L343.4,915.8L343.1,913.9L340.9,913.4L311.9,913.4L306.9,913.8ZM398.7,760.0L400.9,759.5L411.9,759.6L413.1,760.0L413.4,762.0L413.1,762.9L411.9,763.3L399.9,763.3L398.7,762.9L398.4,762.0ZM438.7,775.8L439.9,775.4L441.9,775.3L463.4,775.3L463.4,779.2L439.9,779.1L438.7,778.7L438.4,777.7ZM443.7,787.6L445.9,787.1L463.4,787.1L463.4,791.1L444.9,790.9L443.7,790.6L443.4,789.6ZM423.7,831.0L424.9,830.6L426.9,830.5L463.4,830.5L463.4,858.1L449.9,858.0L448.7,857.6L448.4,855.7L447.9,854.6L445.9,854.2L439.9,854.1L438.7,853.7L438.4,851.7L437.9,850.6L435.9,850.3L425.9,850.2L423.7,849.7L423.4,847.8L423.4,843.8L423.7,842.8L427.9,842.0L428.4,840.9L428.1,838.9L423.7,837.9L423.4,836.9L423.4,833.0ZM413.7,917.8L414.9,917.4L416.9,917.3L463.4,917.3L463.4,925.2L408.4,925.2L408.4,922.7L408.7,921.7L413.1,920.8Z"/>
<path fill="#4668bc" d="M262.4,751.6L334.4,751.6L334.4,754.1L334.9,755.0L337.9,755.4L339.2,756.0L339.4,758.0L340.1,759.0L351.9,759.2L353.9,759.8L354.2,760.0L354.4,762.0L354.9,762.9L357.9,763.3L359.2,763.9L359.4,777.7L359.9,778.7L367.9,779.1L369.2,779.7L369.4,781.7L370.0,782.7L376.9,782.9L378.9,783.4L379.2,783.7L379.4,785.6L379.9,786.6L382.9,787.0L384.2,787.6L384.4,789.6L384.0,790.6L381.9,791.3L379.9,791.4L325.9,791.5L324.9,791.9L324.4,792.5L324.4,793.5L323.9,794.5L321.9,794.9L310.9,795.0L305.9,795.4L285.9,795.5L284.9,795.9L284.4,796.5L284.4,797.5L285.8,798.5L286.9,798.5L362.9,799.1L364.1,799.4L364.4,801.4L365.0,802.4L376.9,802.6L377.9,802.7L379.2,803.4L379.4,805.4L379.2,814.2L377.9,814.9L376.9,815.0L368.9,814.9L367.6,814.2L367.4,812.3L366.8,811.3L359.9,811.1L357.9,810.5L357.6,810.3L357.4,809.3L357.4,804.4L356.8,803.4L354.9,803.2L320.8,803.4L319.4,804.4L319.2,806.3L317.9,807.0L305.0,807.3L304.4,808.3L304.4,809.3L303.9,810.3L301.9,810.7L253.4,811.1L253.4,767.0L256.7,766.9L258.0,765.9L258.4,762.0L258.5,756.0L258.9,755.6L261.9,754.9L262.4,754.1ZM253.4,815.2L253.4,814.4L274.9,814.4L281.9,814.7L320.9,814.6L337.9,814.9L338.9,815.2L339.4,816.2L339.4,817.2L340.1,818.2L352.9,818.5L354.2,819.2L354.4,821.1L355.0,822.1L361.9,822.3L362.9,822.5L364.2,823.1L364.4,825.1L364.2,826.1L363.9,826.3L361.9,826.9L355.0,827.1L354.4,828.0L354.4,829.0L355.0,830.0L357.9,830.4L359.2,831.0L359.4,833.0L360.0,834.0L376.9,834.2L377.9,834.3L379.2,834.9L379.4,836.9L379.2,849.7L377.9,850.4L374.9,850.8L374.4,851.7L374.2,857.6L372.9,858.3L371.9,858.4L354.9,858.7L354.4,859.6L354.4,860.6L354.4,864.5L354.9,865.5L361.9,865.7L363.9,866.3L364.2,866.5L364.4,867.5L364.2,869.5L362.9,870.1L359.9,870.5L359.4,871.4L359.4,876.4L359.2,877.4L358.9,877.6L356.9,878.1L350.0,878.3L349.4,879.3L349.2,881.3L347.9,882.0L345.0,882.3L344.4,883.3L344.4,884.3L345.7,885.3L356.9,885.8L358.9,886.2L359.9,889.2L361.9,889.5L364.0,890.2L364.4,891.2L364.4,896.1L364.2,897.1L363.9,897.3L361.9,897.9L355.0,898.1L354.4,899.1L354.2,901.0L352.9,901.7L341.9,902.0L334.9,901.8L333.9,901.7L332.6,901.0L332.4,899.1L331.7,898.1L318.9,897.7L317.6,897.1L317.4,895.1L316.0,894.1L305.9,894.1L304.9,894.5L304.4,895.1L304.2,897.1L302.9,897.7L290.9,898.0L290.0,898.1L289.4,899.1L289.4,900.0L290.0,901.0L296.9,901.2L298.9,901.8L299.2,902.0L299.4,904.0L299.9,904.9L300.9,905.1L371.9,905.2L372.9,905.3L374.2,906.0L374.4,907.0L374.2,908.9L372.9,909.6L370.9,909.7L310.9,909.8L309.9,910.0L308.9,912.9L307.9,913.1L296.9,913.5L280.9,913.6L278.9,913.9L278.4,914.8L278.4,915.8L278.9,916.4L279.4,916.8L280.9,916.9L307.9,917.3L339.9,917.3L345.9,917.0L351.9,917.0L352.9,917.2L354.2,917.8L354.4,919.8L355.0,920.8L361.9,921.0L363.9,921.5L364.2,921.7L364.4,922.7L364.4,925.2L253.4,925.2ZM280.9,850.7L279.9,851.1L279.4,851.7L279.2,853.7L278.9,853.9L277.9,854.3L274.9,854.7L274.4,855.7L274.4,856.6L274.9,857.1L276.9,857.5L289.9,857.5L290.9,857.4L292.4,856.6L292.4,851.7L291.9,851.1L290.9,850.7ZM330.9,882.2L330.4,882.3L329.8,883.3L329.9,884.5L330.9,885.2L336.0,885.3L337.4,884.3L337.4,883.3L336.8,882.3ZM457.6,870.5L458.9,869.8L463.4,869.6L463.4,874.3L459.9,874.2L457.9,873.6L457.6,873.4L457.4,872.4ZM417.9,886.2L419.9,885.8L425.9,885.4L463.4,885.4L463.4,890.0L419.9,890.0L418.9,889.8L417.6,889.2L417.4,887.2ZM427.6,921.7L428.9,921.1L430.9,920.9L463.4,920.9L463.4,925.2L427.4,925.2Z"/>
<path fill="#a28062" d="M264.4,751.6L332.4,751.6L332.6,755.1L333.9,755.7L336.8,756.0L337.4,757.0L337.4,758.0L337.8,759.0L338.9,759.5L340.9,759.8L351.8,760.0L352.4,761.0L352.6,762.9L353.9,763.6L356.8,763.9L357.4,764.9L357.6,778.7L358.9,779.4L359.9,779.5L366.8,779.7L367.4,780.7L367.6,782.7L368.9,783.3L376.8,783.7L377.4,784.6L377.6,786.6L378.9,787.3L381.9,787.7L382.4,788.6L382.4,789.6L381.7,790.6L336.9,790.7L324.9,791.1L322.9,791.5L322.4,792.5L322.4,793.5L321.0,794.5L310.9,794.6L305.9,795.0L284.9,795.1L283.0,795.5L282.4,796.5L282.4,797.5L283.3,798.5L286.9,798.9L361.1,799.4L361.9,799.8L362.4,800.4L362.6,802.4L363.9,803.0L376.9,803.4L377.4,804.4L377.4,805.4L377.4,813.2L376.9,814.2L374.9,814.4L370.0,814.2L369.4,813.2L369.2,811.3L367.9,810.6L360.0,810.3L359.4,809.3L359.2,803.4L357.9,802.7L355.9,802.6L319.9,803.0L317.9,803.4L317.4,804.4L317.4,805.4L316.8,806.3L303.9,806.7L302.6,807.3L302.4,809.3L301.9,809.9L300.9,810.3L253.4,810.4L253.4,767.1L258.1,766.9L258.8,765.9L258.9,763.9L259.6,762.9L259.7,762.0L259.9,756.6L260.3,756.0L263.8,755.1L264.4,754.1ZM253.4,815.2L289.9,815.2L299.9,814.9L336.0,815.2L337.4,816.2L337.4,817.2L337.8,818.2L338.9,818.6L340.9,819.0L351.8,819.2L352.4,820.2L352.6,822.1L353.9,822.8L361.9,823.2L362.4,824.1L362.4,825.1L361.8,826.1L354.9,826.3L353.9,826.4L352.6,827.1L352.4,828.0L352.6,830.0L353.9,830.7L356.9,831.1L357.4,832.0L357.6,834.0L357.9,834.2L359.9,834.7L376.9,835.0L377.4,835.9L377.4,848.8L376.8,849.7L373.9,850.1L372.6,850.7L372.4,856.6L371.9,857.6L354.9,857.8L353.9,858.0L352.6,858.6L352.4,860.6L352.6,865.5L353.9,866.2L354.9,866.3L361.8,866.5L362.4,867.5L362.4,868.5L361.8,869.5L358.9,869.8L357.6,870.5L357.4,876.4L356.8,877.4L348.9,877.7L347.6,878.3L347.4,880.3L346.8,881.3L343.9,881.6L342.6,882.3L342.4,884.3L342.9,885.3L344.9,885.7L356.1,886.2L357.4,887.2L357.6,889.2L357.9,889.4L358.9,889.8L361.9,890.3L362.4,891.2L362.4,896.1L361.8,897.1L353.9,897.4L352.6,898.1L352.4,900.0L351.8,901.0L338.9,901.4L334.9,901.0L334.4,900.0L334.4,899.1L334.0,898.1L331.9,897.4L320.0,897.1L319.4,896.1L319.4,895.1L318.9,894.1L317.9,893.9L305.9,893.7L302.9,894.1L302.4,895.1L302.4,896.1L301.8,897.1L288.9,897.4L287.6,898.1L287.4,899.1L287.6,901.0L288.9,901.7L296.8,902.0L297.4,903.0L297.4,904.0L297.8,905.0L299.9,905.7L319.9,905.8L325.9,905.5L354.9,905.5L360.9,905.8L370.9,905.9L371.8,906.0L372.4,907.0L372.4,907.9L371.9,908.9L354.9,909.4L309.9,909.1L308.9,909.3L307.6,909.9L307.4,911.9L306.0,912.9L279.9,913.3L277.4,913.9L277.0,914.8L277.0,915.8L277.9,916.8L280.9,917.2L306.9,917.8L350.9,917.7L351.9,917.9L352.4,918.8L352.6,920.8L353.9,921.4L361.8,921.7L362.4,922.7L362.4,925.2L253.4,925.2ZM278.9,850.5L277.9,850.7L277.4,851.7L277.4,852.7L276.8,853.7L273.9,854.0L272.6,854.7L272.4,856.6L273.2,857.6L275.9,857.9L290.9,857.9L293.6,857.6L294.4,856.6L294.4,851.7L293.9,850.7L290.9,850.3ZM328.9,881.9L328.5,882.3L328.4,884.3L328.7,885.3L329.9,885.6L336.9,885.7L338.9,885.3L339.4,884.3L339.2,882.3L337.9,881.6L330.9,881.5ZM460.0,870.5L463.4,870.3L463.4,873.6L459.9,873.4L459.4,872.4L459.4,871.4ZM420.7,886.2L463.4,886.1L463.4,889.3L420.9,889.3L420.0,889.2L419.4,888.2L419.4,887.2ZM430.0,921.7L463.4,921.6L463.4,925.2L429.4,925.2L429.4,922.7Z"/>
<path fill="#f0a050" d="M268.4,751.6L323.4,751.6L323.4,754.1L323.7,755.1L328.1,756.0L328.4,758.0L328.9,759.1L330.9,759.5L335.9,759.6L337.7,760.0L338.4,761.0L338.7,762.9L339.9,763.3L345.9,763.5L348.1,763.9L348.4,764.9L348.4,781.7L347.9,782.8L343.7,783.7L343.4,785.6L342.9,786.7L340.9,787.1L335.9,787.2L333.9,787.6L333.4,788.6L333.4,789.6L331.5,790.6L324.9,790.6L317.9,791.3L309.4,791.5L308.4,792.5L308.4,793.5L306.4,794.5L284.9,794.6L281.9,794.9L280.4,795.5L280.2,797.5L280.9,798.5L284.9,799.3L334.9,799.5L336.9,799.8L337.9,800.2L338.4,800.4L338.4,801.4L336.9,802.3L335.9,802.4L319.9,802.5L314.9,802.9L286.9,802.9L280.9,803.3L253.4,803.3L253.4,767.3L256.9,767.2L259.1,766.9L260.0,765.9L260.2,763.9L261.9,762.9L262.4,757.0L263.0,756.0L264.9,755.4L267.2,755.1L267.9,754.5L268.4,754.1ZM293.4,816.2L294.9,815.5L296.9,815.3L320.9,815.4L323.4,816.2L323.4,817.2L324.6,818.2L335.9,818.7L337.7,819.2L338.4,820.2L338.4,840.9L338.1,841.9L335.9,842.3L324.9,842.5L323.7,842.8L323.1,845.8L321.9,846.2L304.9,846.4L303.7,846.8L303.1,849.7L301.9,850.1L296.9,850.2L291.9,849.8L281.9,849.8L271.9,850.2L269.9,850.1L268.7,849.7L268.4,848.8L268.4,839.9L268.1,838.9L263.7,837.9L263.4,836.9L263.4,832.0L263.1,831.0L258.7,830.0L258.4,829.0L258.4,824.1L258.1,823.1L256.9,822.7L253.4,822.6L253.4,818.7L259.9,818.7L265.9,818.2L290.9,818.0L293.4,817.2ZM258.7,858.6L260.9,858.2L269.9,857.8L275.9,858.3L288.9,858.3L296.9,857.8L315.9,857.8L320.9,858.1L330.9,858.2L332.9,858.5L333.4,859.6L333.4,864.5L333.7,865.5L335.9,866.0L341.9,866.1L343.1,866.5L343.4,868.5L343.4,872.4L343.1,873.4L341.9,873.8L335.9,873.9L333.9,874.3L333.4,875.4L333.1,877.4L331.9,877.7L304.9,878.0L303.7,878.3L303.4,880.3L305.3,881.3L316.9,881.4L325.9,881.9L326.9,882.3L327.2,885.3L328.9,886.1L336.9,886.2L340.9,885.8L346.9,886.3L348.4,887.2L348.4,888.2L348.9,889.2L353.1,890.2L353.4,891.2L353.1,893.1L348.9,894.1L348.4,895.1L348.1,897.1L343.7,898.1L343.4,900.0L341.9,900.9L340.9,901.0L339.9,900.9L338.4,900.0L338.1,898.1L334.1,897.1L333.4,896.1L333.4,895.1L331.5,894.1L323.9,894.0L317.9,893.3L314.9,893.2L304.9,893.2L299.9,893.6L276.9,893.6L273.9,894.0L273.4,895.1L273.1,897.1L268.7,898.1L268.4,899.1L268.4,904.0L268.9,904.4L270.3,905.0L281.9,905.0L285.9,905.4L294.9,905.5L296.9,905.7L297.7,906.0L298.4,907.0L298.4,911.9L295.9,912.7L280.9,912.8L275.9,913.3L269.9,913.5L268.7,913.9L268.4,915.8L268.9,916.4L269.9,916.8L275.9,916.9L279.9,917.4L300.9,918.0L303.4,918.8L303.1,920.8L300.9,921.2L291.9,921.3L285.9,921.7L270.9,921.7L264.9,921.4L263.7,921.7L263.4,922.7L263.4,925.2L253.4,925.2L253.4,877.9L261.9,877.7L263.1,877.4L263.4,876.4L263.1,874.4L261.9,874.0L253.4,873.9L253.4,862.1L256.9,862.0L258.1,861.6ZM325.3,906.0L356.5,906.0L358.4,907.0L358.4,907.9L356.9,908.8L355.9,908.9L325.3,908.9L323.4,907.9L323.4,907.0ZM323.7,921.7L324.9,921.4L326.9,921.3L346.9,921.4L348.1,921.7L348.4,922.7L348.4,925.2L323.4,925.2L323.4,922.7Z"/>
<path fill="#f9c473" d="M273.4,751.6L309.8,751.6L310.0,755.1L310.9,755.4L316.9,755.7L318.1,756.0L318.4,757.0L318.4,765.9L318.6,766.9L319.3,767.9L319.4,769.8L319.9,770.8L331.9,771.0L332.9,771.2L334.2,771.8L334.4,773.8L334.2,778.7L332.9,779.4L330.0,779.7L329.4,780.7L329.6,782.7L333.1,783.7L333.4,785.6L332.9,786.6L330.9,787.1L319.9,787.2L318.7,787.6L318.4,789.6L317.4,790.6L316.9,790.6L304.9,791.1L280.9,791.2L280.3,791.5L279.8,794.5L279.2,795.5L279.4,798.5L283.5,799.4L284.4,800.4L284.4,801.4L283.9,802.4L280.9,802.9L253.4,802.9L253.4,786.5L275.9,786.5L276.9,786.4L278.4,785.6L278.7,783.7L279.9,783.3L290.9,783.1L292.2,782.7L292.4,780.7L291.9,779.8L288.9,779.4L287.6,778.7L287.4,772.8L285.9,772.0L253.4,771.9L253.4,767.5L257.9,767.3L260.9,766.9L261.9,766.4L262.4,765.9L262.6,763.9L263.3,762.9L263.5,760.0L264.2,759.0L264.4,757.0L264.9,756.2L268.9,755.3L271.7,755.1L272.9,754.4L273.4,754.1ZM253.4,775.8L253.4,775.3L271.9,775.4L273.1,775.8L273.4,777.7L273.1,778.7L271.9,779.1L265.9,779.2L263.9,779.6L263.4,780.7L263.1,782.7L261.9,783.1L253.4,783.2ZM262.9,819.2L265.9,818.7L299.9,818.2L320.9,818.2L327.5,819.2L328.4,820.2L328.6,822.1L329.3,823.1L329.2,834.0L327.9,834.6L325.0,834.9L324.4,835.9L324.2,837.9L322.9,838.6L289.9,838.8L289.4,838.9L288.4,839.9L288.4,840.9L287.9,842.0L285.9,842.3L279.9,842.2L278.7,841.9L278.4,839.9L277.5,838.9L273.9,838.6L272.6,837.9L272.4,824.1L271.9,823.2L270.9,823.0L264.9,822.9L262.9,822.3L262.6,822.1L262.4,820.2ZM269.4,858.6L316.9,858.5L317.4,858.6L318.4,859.6L318.4,860.6L319.3,861.6L322.9,861.9L324.2,862.6L324.4,864.5L324.2,865.5L323.9,865.7L322.9,866.2L320.9,866.3L269.9,866.3L267.9,865.7L267.6,865.5L267.4,864.5L267.5,862.6L268.2,861.6L268.4,859.6ZM278.7,870.5L279.9,870.1L281.9,870.0L290.9,870.0L292.9,870.3L293.4,871.4L293.4,876.4L293.1,877.4L291.9,877.7L289.9,877.9L280.9,877.8L278.9,877.5L278.4,876.4L278.4,871.4ZM257.6,882.3L258.9,881.6L261.9,881.5L299.9,881.5L305.9,881.8L316.9,881.9L318.9,882.3L319.4,883.3L319.4,888.2L319.2,889.2L318.9,889.4L317.9,889.8L315.9,890.0L264.9,890.0L263.9,889.8L262.6,889.2L262.4,887.2L261.8,886.2L258.9,885.9L257.6,885.3L257.4,883.3ZM322.6,890.2L323.9,889.5L325.9,889.4L342.9,889.4L347.9,890.2L348.4,891.2L348.4,892.2L347.9,893.1L342.9,893.9L335.9,894.0L324.9,893.6L322.9,893.1L322.4,892.2ZM253.4,906.0L253.4,905.1L281.9,905.5L283.9,906.0L284.4,907.0L284.4,907.9L284.2,908.9L283.9,909.1L281.9,909.7L253.4,909.8ZM267.7,917.8L268.9,917.4L272.9,917.3L287.9,917.8L289.4,918.8L289.4,919.8L288.9,920.8L286.9,921.2L269.9,921.2L267.9,920.8L267.4,919.8Z"/>
<path fill="#fcd98c" d="M277.4,751.6L308.4,751.6L308.5,755.1L309.2,756.0L309.7,760.0L309.6,762.9L308.9,763.5L305.7,763.9L304.9,764.3L304.4,764.9L304.7,766.9L306.9,767.4L314.9,767.4L316.9,767.7L317.4,768.9L317.6,770.8L318.9,771.5L331.8,771.8L332.4,772.8L332.4,777.7L331.8,778.7L328.9,779.1L327.6,779.7L327.2,782.7L325.9,783.1L295.9,783.1L294.6,782.7L294.2,779.7L292.9,779.1L289.9,778.7L289.4,777.7L289.4,772.8L288.6,771.8L284.9,771.5L253.4,771.5L253.4,767.6L257.9,767.5L263.6,766.9L264.4,765.9L265.0,760.0L267.1,759.0L267.4,757.0L268.1,756.0L269.9,755.6L276.9,755.1L277.4,754.1ZM253.4,787.6L253.4,786.9L275.9,786.9L278.9,787.2L279.6,787.6L279.8,789.6L279.6,790.6L278.9,791.5L278.8,794.5L278.4,795.5L278.5,798.5L278.9,799.1L281.1,799.4L281.9,799.9L282.4,800.4L282.4,801.4L281.9,802.0L280.9,802.4L253.4,802.4ZM265.8,819.2L296.9,818.7L319.9,818.7L322.9,819.0L323.7,819.2L324.4,820.2L324.6,822.1L327.2,823.1L327.4,824.1L327.4,833.0L326.8,834.0L323.9,834.3L322.6,834.9L322.4,836.9L321.9,837.9L320.9,838.0L290.9,838.1L282.9,838.4L275.0,837.9L274.4,836.9L274.4,824.1L274.0,823.1L271.9,822.4L265.0,822.1L264.4,821.1L264.4,820.2ZM269.6,862.6L271.9,862.1L315.9,862.1L321.8,862.6L322.4,863.6L322.4,864.5L321.8,865.5L319.9,865.7L270.9,865.6L270.0,865.5L269.4,864.5ZM260.0,882.3L316.0,882.3L317.4,883.3L317.4,888.2L316.8,889.2L314.9,889.3L265.9,889.3L264.9,889.1L264.4,888.2L264.2,886.2L263.9,886.0L262.9,885.6L259.9,885.2L259.4,884.3L259.4,883.3ZM325.0,890.2L341.9,890.1L342.4,890.2L343.4,891.2L343.4,892.2L342.4,893.1L340.9,893.3L325.8,893.1L324.4,892.2L324.4,891.2ZM253.4,906.0L280.9,906.0L281.9,906.4L282.4,907.0L282.4,907.9L281.8,908.9L280.9,909.0L253.4,909.1ZM270.7,917.8L276.9,917.8L279.9,918.2L285.9,918.3L287.4,918.8L287.4,919.8L286.9,920.4L285.9,920.8L270.8,920.8L269.4,919.8L269.4,918.8L269.9,918.2Z"/>
<path fill="#fde9a4" d="M279.4,751.6L307.0,751.6L307.4,758.0L307.6,759.0L308.3,760.0L308.4,762.0L307.9,763.1L302.9,763.9L302.4,764.9L302.7,766.9L304.1,767.9L304.4,768.9L304.2,770.8L302.9,771.5L299.9,771.7L290.9,771.6L285.9,771.2L253.4,771.2L253.4,767.8L261.9,767.5L267.5,766.9L268.4,765.9L268.4,764.9L268.2,763.9L267.5,762.9L267.4,761.0L267.7,760.0L269.1,759.0L269.4,757.0L270.8,756.0L276.9,755.8L278.9,755.3L279.2,755.1L279.4,754.1ZM253.4,787.6L253.4,787.3L274.9,787.3L278.0,787.6L278.4,788.6L278.4,789.6L278.0,791.5L277.6,798.5L276.9,799.1L275.9,799.3L253.4,799.3ZM293.1,819.2L320.9,819.2L321.9,819.6L322.4,820.2L322.4,821.1L322.2,822.1L321.9,822.4L318.7,823.1L318.4,824.1L318.4,833.0L317.9,834.1L314.9,834.5L285.9,834.4L283.7,834.0L283.4,833.0L283.4,824.1L283.1,823.1L281.9,822.7L275.9,822.6L274.1,822.1L273.4,821.1L273.4,820.2L275.9,819.3Z"/>
<path fill="#fff3b4" d="M269.7,760.0L271.9,759.5L304.9,759.5L306.8,760.0L307.0,762.0L305.9,762.9L300.9,763.4L271.9,763.4L269.6,762.9L269.4,761.0ZM262.2,767.9L271.9,767.4L299.9,767.4L302.1,767.9L302.4,769.8L301.8,770.8L299.9,771.0L253.4,770.7L253.4,768.4L256.9,768.4ZM253.4,788.6L253.4,787.7L275.9,787.9L277.0,788.6L276.5,797.5L276.1,798.5L274.9,798.6L253.4,798.6Z"/>
</g>
<path d="M343.4 752.6V925.2" stroke="#fff" stroke-width="1.2" stroke-dasharray="2.2 1.6" fill="none"/>
<path d="M283.4 751.6v3.5M313.4 751.6v3.5M343.4 751.6v3.5M373.4 751.6v3.5M403.4 751.6v3.5M433.4 751.6v3.5" stroke="#c8d0e8" stroke-width="0.8" fill="none"/>
<rect x="253.4" y="751.6" width="210.0" height="173.6" fill="none" stroke="#0a0a20" stroke-width="1.7"/>
<path d="M253.4 751.6v-3M283.4 751.6v-3M313.4 751.6v-3M343.4 751.6v-3M373.4 751.6v-3M403.4 751.6v-3M433.4 751.6v-3M463.4 751.6v-3" stroke="#111" stroke-width="1" fill="none"/>
<g class="num" font-size="12.2" font-weight="bold" fill="#222" text-anchor="middle">
<text x="253.4" y="745.1">1</text>
<text x="283.4" y="745.1">2</text>
<text x="313.4" y="745.1">3</text>
<text x="343.4" y="745.1">4</text>
<text x="373.4" y="745.1">5</text>
<text x="403.4" y="745.1">6</text>
<text x="433.4" y="745.1">7</text>
<text x="463.4" y="745.1">8</text>
</g>
<g class="num" font-size="12.2" font-weight="bold" fill="#222" text-anchor="end">
<text x="231.7" y="756.0">0</text>
<text x="231.7" y="771.8">1</text>
<text x="231.7" y="787.6">2</text>
<text x="231.7" y="803.3">3</text>
<text x="231.7" y="819.1">4</text>
<text x="231.7" y="834.9">5</text>
<text x="231.7" y="850.7">6</text>
<text x="231.7" y="866.5">7</text>
<text x="231.7" y="882.2">8</text>
<text x="231.7" y="898.0">9</text>
<text x="231.7" y="913.8">10</text>
<text x="231.7" y="929.6">11</text>
</g>
<rect x="236.2" y="751.6" width="13.2" height="18.9" fill="url(#pFill)"/>
<rect x="236.2" y="770.5" width="13.2" height="31.6" fill="url(#pClay)"/>
<rect x="236.2" y="802.1" width="13.2" height="14.2" fill="url(#pSilt)"/>
<rect x="236.2" y="816.3" width="13.2" height="7.9" fill="url(#pMud)"/>
<rect x="236.2" y="824.2" width="13.2" height="15.8" fill="url(#pSilt)"/>
<rect x="236.2" y="840.0" width="13.2" height="85.2" fill="url(#pClay)"/>
<rect x="236.2" y="769.6" width="13.2" height="1.3" fill="#f4e8f4"/>
<rect x="236.2" y="801.2" width="13.2" height="1.3" fill="#f4e8f4"/>
<rect x="236.2" y="815.4" width="13.2" height="1.3" fill="#f4e8f4"/>
<rect x="236.2" y="823.3" width="13.2" height="1.3" fill="#f4e8f4"/>
<rect x="236.2" y="839.1" width="13.2" height="1.3" fill="#f4e8f4"/>
<rect x="236.2" y="751.6" width="13.2" height="173.6" fill="none" stroke="#0a0a0a" stroke-width="1.5"/>
<text x="346.5" y="732.1" font-size="12.5" font-weight="bold" fill="#222" text-anchor="middle" textLength="60" lengthAdjust="spacingAndGlyphs">距桩距离/m</text>
<text transform="translate(217.0 838.6) rotate(-90)" font-size="12.5" font-weight="bold" fill="#222" text-anchor="middle" textLength="70" lengthAdjust="spacingAndGlyphs">桩打入深度/m</text>
<text x="342.0" y="942.2" font-size="12.5" font-weight="bold" fill="#222" text-anchor="middle">(a) 切向加速度</text>
<rect x="530.3" y="751.6" width="210.0" height="173.6" fill="#224ed0"/>
<g stroke="#0c0c30" stroke-width="0.55" stroke-opacity="0.8" stroke-linejoin="round">
<path fill="#2c5ee4" d="M530.3,751.6L630.3,751.6L630.3,762.0L630.6,762.9L635.0,763.9L635.3,764.9L635.3,769.8L635.6,770.8L639.8,771.7L640.3,772.8L640.0,774.8L635.6,775.8L635.3,777.7L635.6,778.7L637.8,779.2L648.8,779.3L650.0,779.7L650.3,781.7L650.8,782.8L652.8,783.1L663.8,783.3L665.0,783.7L665.6,786.6L670.0,787.6L670.3,788.6L670.3,792.5L670.0,794.5L667.8,795.0L661.8,795.1L660.6,795.5L660.0,798.5L655.6,799.4L655.3,800.4L655.3,805.4L655.0,806.3L653.8,806.7L636.8,806.9L635.6,807.3L635.0,810.3L632.8,810.8L558.8,810.8L556.0,811.3L555.3,812.3L555.3,813.2L556.8,814.1L563.8,814.7L572.8,814.3L592.8,814.3L598.8,814.7L646.8,814.7L648.8,814.8L650.0,815.2L650.3,816.2L650.0,818.2L645.6,819.2L645.3,821.1L645.6,822.1L647.8,822.6L653.8,822.7L655.0,823.1L655.3,824.1L655.3,833.0L655.6,834.0L659.8,834.8L660.3,835.9L660.3,844.8L660.0,845.8L657.8,846.3L651.8,846.4L650.6,846.8L650.3,848.8L650.3,852.7L650.6,853.7L655.0,854.7L655.6,857.6L660.0,858.6L660.3,859.6L660.3,864.5L660.6,865.5L662.8,866.0L673.8,866.1L675.0,866.5L675.3,868.5L675.0,869.5L673.8,869.9L658.8,870.0L652.1,870.5L650.3,871.4L650.0,873.4L648.8,873.8L632.8,873.9L630.6,874.4L630.3,875.4L630.6,877.4L631.8,877.7L637.8,877.9L639.8,878.2L640.3,879.3L640.3,880.3L639.8,881.4L635.6,882.3L635.3,883.3L635.3,892.2L635.0,893.1L630.6,894.1L630.3,895.1L630.3,900.0L630.6,901.0L632.8,901.5L663.8,901.6L665.0,902.0L665.3,903.0L665.0,905.0L660.6,906.0L660.0,908.9L658.8,909.3L636.8,909.5L635.6,909.9L635.0,912.9L632.8,913.3L598.8,913.4L592.8,913.8L552.8,913.9L551.8,914.6L551.7,915.8L552.8,916.6L553.8,916.7L592.8,916.9L598.8,917.3L633.8,917.4L635.0,917.8L635.3,918.8L635.0,920.8L630.6,921.7L630.3,922.7L630.3,925.2L530.3,925.2ZM605.8,791.4L605.3,792.5L605.0,794.5L603.8,794.9L588.8,795.0L582.8,795.5L565.0,795.5L562.8,795.8L561.8,796.3L561.7,797.5L563.8,798.0L572.8,798.3L607.8,798.5L613.8,798.9L633.8,798.8L635.0,798.5L635.3,797.5L635.0,795.5L630.6,794.5L630.0,791.5L628.8,791.2L608.8,791.1ZM695.6,756.0L696.8,755.7L698.8,755.5L718.8,755.7L720.0,756.0L720.3,757.0L720.3,762.0L720.0,762.9L717.8,763.4L696.8,763.3L695.6,762.9L695.3,762.0L695.3,757.0ZM690.6,819.2L691.8,818.8L693.8,818.7L727.8,818.7L730.0,819.2L730.3,821.1L730.0,822.1L727.8,822.6L692.8,822.6L690.6,822.1L690.3,821.1ZM700.6,838.9L702.8,838.4L718.8,838.5L720.0,838.9L720.3,840.9L720.0,841.9L717.8,842.3L701.8,842.2L700.6,841.9L700.3,840.9ZM695.6,870.5L696.8,870.1L698.8,870.0L723.8,870.1L725.0,870.5L725.3,871.4L725.3,876.4L725.0,877.4L722.8,877.8L696.8,877.7L695.6,877.4L695.3,876.4L695.3,871.4ZM685.6,886.2L686.8,885.9L688.8,885.7L727.8,885.8L730.0,886.2L730.3,888.2L730.0,889.2L728.8,889.6L722.8,889.7L720.8,890.1L720.3,891.2L720.0,893.1L718.8,893.5L697.8,893.6L695.6,893.1L695.3,891.2L694.8,890.1L692.8,889.7L686.8,889.6L685.6,889.2L685.3,888.2ZM695.6,921.7L696.8,921.4L698.8,921.3L718.8,921.4L720.0,921.7L720.3,922.7L720.3,925.2L695.3,925.2L695.3,922.7Z"/>
<path fill="#4668bc" d="M539.3,751.6L591.3,751.6L591.3,758.0L591.9,759.0L604.8,759.3L606.1,760.0L606.3,762.0L606.9,762.9L609.8,763.3L611.1,763.9L611.3,765.9L611.9,766.9L619.8,767.2L621.1,767.9L621.3,769.8L621.9,770.8L624.8,771.2L626.1,771.8L626.3,773.8L626.1,774.8L625.8,775.0L623.8,775.6L616.9,775.8L616.3,776.8L616.1,778.7L614.8,779.4L611.8,779.8L611.3,780.7L611.1,786.6L609.8,787.3L586.9,787.6L586.3,788.6L586.3,793.5L585.8,794.5L582.8,795.0L566.8,795.0L560.8,795.5L560.3,796.5L560.3,797.5L561.3,798.5L561.8,798.5L609.8,799.2L610.8,799.4L611.3,800.4L611.1,802.4L609.8,803.0L606.8,803.4L606.3,804.4L606.1,806.3L605.8,806.6L604.8,807.0L602.8,807.2L576.8,807.1L575.8,807.0L574.5,806.3L574.3,804.4L573.8,803.8L572.8,803.4L567.8,803.7L553.8,803.7L552.8,803.8L551.3,804.4L551.3,805.4L551.8,806.3L554.8,806.7L555.8,807.1L556.1,807.3L556.3,808.3L556.3,809.3L555.9,810.3L553.8,811.0L551.8,811.3L551.3,812.3L551.3,813.2L551.8,814.2L558.8,814.8L560.8,815.2L561.3,816.2L561.3,817.2L562.8,817.7L566.8,817.9L568.8,817.5L569.3,817.2L569.3,816.2L569.8,815.2L571.8,814.8L592.8,814.7L595.8,815.2L596.3,816.2L596.3,817.2L596.9,818.2L617.8,818.3L619.8,818.5L621.1,819.2L621.3,821.1L621.1,822.1L620.8,822.3L618.8,822.9L611.9,823.1L611.3,824.1L611.1,826.1L609.8,826.7L606.8,827.1L606.3,828.0L606.1,834.0L604.8,834.6L601.9,834.9L601.3,835.9L601.3,836.9L601.9,837.9L613.8,838.1L615.8,838.7L616.1,838.9L616.3,839.9L616.3,848.8L616.8,849.7L623.8,849.9L624.8,850.1L626.1,850.7L626.3,852.7L626.1,857.6L624.8,858.3L623.8,858.4L616.9,858.6L616.3,859.6L616.1,861.6L614.8,862.2L611.9,862.6L611.3,863.6L611.3,876.4L611.9,877.4L614.8,877.7L616.1,878.3L616.3,880.3L616.1,881.3L614.8,882.0L613.8,882.1L606.9,882.3L606.3,883.3L606.3,888.2L606.8,889.1L609.8,889.5L611.1,890.2L611.3,896.1L611.8,897.0L618.8,897.3L620.8,897.9L621.1,898.1L621.3,899.1L621.1,901.0L619.8,901.7L618.8,901.8L606.9,902.0L606.3,903.0L606.1,905.0L604.8,905.6L601.9,906.0L601.3,907.0L601.1,908.9L599.8,909.6L596.9,909.9L596.3,910.9L596.3,911.9L595.8,912.9L594.8,913.1L591.8,913.4L552.8,913.4L550.6,913.9L550.3,914.8L550.3,915.8L550.8,916.8L552.8,917.1L591.8,917.3L594.8,917.5L595.8,917.8L596.3,918.8L596.3,919.8L596.9,920.8L599.8,921.1L601.1,921.7L601.3,925.2L530.3,925.2L530.3,873.6L567.8,873.4L568.8,873.0L569.3,872.4L569.3,871.4L568.8,870.5L567.8,870.3L530.3,870.3L530.3,849.9L533.7,849.7L534.3,848.8L534.3,847.8L533.7,846.8L530.3,846.6L530.3,766.4L547.8,766.4L551.7,766.9L556.8,766.9L558.0,766.9L558.8,766.5L559.3,765.9L559.3,764.9L557.9,763.9L546.8,763.9L544.8,763.5L544.1,762.9L543.9,761.0L543.3,760.0L540.8,759.6L539.5,759.0ZM557.8,898.0L556.9,898.1L556.3,899.1L556.3,900.0L557.7,901.0L562.9,901.0L564.3,900.0L564.3,899.1L563.7,898.1ZM537.8,854.6L536.9,854.7L536.3,855.7L536.3,856.6L536.8,857.6L537.8,857.7L572.8,857.6L573.8,857.2L574.3,856.6L574.3,855.7L573.8,855.1L572.8,854.7ZM557.8,783.5L557.0,783.7L556.3,784.6L556.3,785.6L556.8,786.5L557.8,786.7L572.8,786.7L573.7,786.6L574.3,785.6L574.3,784.6L573.7,783.7ZM644.5,791.5L645.8,790.9L646.8,790.8L654.8,790.9L656.1,791.5L656.3,793.5L656.1,794.5L654.8,795.2L653.8,795.3L645.8,795.2L644.5,794.5L644.3,793.5ZM639.5,866.5L640.8,865.9L641.8,865.7L653.8,865.7L654.8,865.9L656.1,866.5L656.3,868.5L655.8,869.5L653.8,869.9L647.8,870.3L641.8,870.3L640.8,870.1L639.5,869.5L639.3,868.5Z"/>
<path fill="#a28062" d="M541.3,751.6L589.3,751.6L589.3,758.0L589.5,759.0L589.8,759.2L591.8,759.8L603.7,760.0L604.3,761.0L604.5,762.9L605.8,763.6L608.8,764.0L609.3,764.9L609.5,766.9L609.8,767.1L611.8,767.7L618.7,767.9L619.3,768.9L619.5,770.8L620.8,771.5L623.7,771.8L624.3,772.8L624.3,773.8L623.7,774.8L615.8,775.1L614.5,775.8L614.3,777.7L613.7,778.7L610.8,779.1L609.5,779.7L609.3,785.6L608.7,786.6L585.8,787.0L584.5,787.6L584.3,793.5L582.9,794.5L566.8,794.6L561.8,794.9L559.3,795.5L559.0,797.5L559.8,798.5L561.8,798.8L587.8,799.4L607.9,799.4L609.3,800.4L609.3,801.4L608.8,802.3L605.8,802.7L604.5,803.4L604.3,805.4L603.7,806.3L577.8,806.5L576.8,806.3L575.8,803.4L572.8,802.9L551.8,803.2L550.4,803.4L549.3,804.4L549.5,806.3L550.8,807.0L553.7,807.3L554.3,808.3L554.3,809.3L553.6,810.3L550.8,810.6L549.5,811.3L549.3,813.2L549.5,814.2L550.8,814.9L551.8,815.0L558.0,815.2L558.8,815.6L559.3,816.2L559.3,817.2L560.7,818.2L566.8,818.4L570.2,818.2L571.3,817.2L571.3,816.2L572.7,815.2L592.8,815.2L593.8,815.6L594.3,816.2L594.5,818.2L595.8,818.8L617.8,819.1L618.7,819.2L619.3,820.2L619.3,821.1L618.7,822.1L610.8,822.5L609.5,823.1L609.3,825.1L608.7,826.1L605.8,826.4L604.5,827.1L604.3,833.0L603.8,833.9L600.8,834.3L599.8,834.7L599.5,834.9L599.3,835.9L599.5,837.9L600.8,838.6L613.7,838.9L614.3,839.9L614.5,849.7L615.8,850.4L616.8,850.5L623.7,850.7L624.3,851.7L624.3,856.6L623.8,857.6L615.8,858.0L614.5,858.6L614.3,860.6L613.7,861.6L610.8,861.9L609.5,862.6L609.3,864.5L609.5,877.4L610.8,878.0L613.8,878.4L614.3,879.3L614.3,880.3L613.8,881.3L605.8,881.6L604.5,882.3L604.3,883.3L604.5,889.2L605.8,889.8L608.8,890.2L609.3,891.2L609.5,897.1L610.8,897.7L611.8,897.9L618.7,898.1L619.3,899.1L619.3,900.0L618.8,901.0L606.8,901.2L604.8,901.8L604.5,902.0L604.3,904.0L603.8,904.9L600.8,905.3L599.5,906.0L599.3,907.9L598.8,908.9L595.8,909.3L594.8,909.7L594.5,909.9L594.3,911.9L592.9,912.9L552.8,912.9L550.8,913.0L549.1,913.9L548.9,915.8L549.3,916.8L551.8,917.4L592.9,917.8L594.3,918.8L594.5,920.8L594.8,921.0L595.8,921.4L598.8,921.8L599.3,922.7L599.3,925.2L530.3,925.2L530.3,874.3L567.8,873.9L570.8,873.4L571.3,872.4L571.1,870.5L569.8,869.8L568.8,869.7L530.3,869.6L530.3,850.6L534.8,850.4L536.1,849.7L536.3,848.8L536.1,846.8L535.8,846.6L533.8,846.0L530.3,845.9L530.3,767.0L547.8,767.0L552.8,767.4L558.8,767.3L561.0,766.9L561.3,765.9L561.3,764.9L560.8,763.9L559.8,763.7L547.8,763.4L545.6,762.9L545.1,760.0L543.8,759.3L541.8,759.0L541.3,758.0ZM554.8,897.9L554.5,898.1L554.3,900.0L554.8,901.0L555.8,901.3L563.8,901.5L565.8,901.0L566.3,900.0L566.1,898.1L564.8,897.4L556.8,897.3ZM534.8,854.5L534.5,854.7L534.3,855.7L534.5,857.6L535.8,858.3L536.8,858.4L542.8,858.5L547.8,858.1L572.8,858.1L575.8,857.6L576.3,856.6L576.3,855.7L575.8,854.7L573.8,854.3L562.8,854.2L556.8,853.8L538.8,853.8L535.8,854.0ZM554.8,783.6L554.3,784.6L554.3,785.6L554.7,786.6L557.8,787.4L573.8,787.4L575.8,786.8L576.1,786.6L576.3,785.6L576.1,783.7L574.8,783.0L573.8,782.9L557.8,782.9ZM646.9,791.5L653.7,791.5L654.3,792.5L654.3,793.5L653.7,794.5L646.9,794.5L646.3,793.5L646.3,792.5ZM641.9,866.5L653.7,866.5L654.3,867.5L654.3,868.5L653.8,869.1L652.8,869.5L641.9,869.5L641.3,868.5L641.3,867.5Z"/>
<path fill="#f0a050" d="M545.3,751.6L585.3,751.6L585.3,762.0L585.0,762.9L582.8,763.4L563.8,763.4L558.8,763.0L547.8,762.9L546.7,762.0L546.6,760.0L545.7,759.0L545.3,758.0ZM530.3,767.9L530.3,767.2L547.8,767.2L552.8,767.8L558.8,767.9L560.3,768.9L560.6,770.8L561.8,771.2L577.8,771.4L580.0,771.8L580.3,772.8L580.0,774.8L578.8,775.2L557.8,775.3L555.8,775.7L555.3,776.8L555.3,781.7L554.6,782.7L550.6,783.7L550.3,785.6L550.8,786.7L554.6,787.6L555.3,788.6L555.3,789.6L556.3,790.6L558.8,791.0L563.8,791.2L565.0,791.5L565.3,793.5L564.8,793.8L562.8,794.4L558.8,794.8L557.3,795.5L557.1,797.5L557.8,798.5L561.8,799.0L582.8,799.6L585.3,800.4L585.0,802.4L582.8,802.9L577.8,802.8L572.8,802.5L568.8,802.9L552.8,802.9L547.8,803.3L537.8,803.5L535.3,804.4L535.3,809.3L535.8,810.4L540.0,811.3L540.6,814.2L545.0,815.2L545.3,817.2L547.2,818.2L556.8,818.1L567.8,818.7L573.8,818.2L578.8,818.7L587.8,818.7L590.0,819.2L590.3,820.2L590.0,822.1L585.8,823.0L585.3,824.1L585.3,836.9L585.6,837.9L586.8,838.3L592.8,838.4L595.0,838.9L595.3,840.9L595.3,844.8L595.0,845.8L592.8,846.3L576.8,846.4L575.6,846.8L575.3,847.8L575.6,849.7L577.8,850.2L598.8,850.3L600.0,850.7L600.3,851.7L600.0,853.7L597.8,854.2L593.8,854.2L578.8,854.2L573.8,853.7L562.2,853.7L560.3,852.7L560.0,850.7L558.8,850.3L546.8,850.1L545.6,849.7L545.3,848.8L545.3,843.8L545.0,842.8L540.6,841.9L540.0,838.9L535.6,837.9L535.3,836.9L535.3,832.0L533.4,831.0L530.3,831.0L530.3,774.9L539.6,774.8L540.3,773.8L540.3,772.8L537.8,772.1L530.3,772.1ZM547.2,858.6L573.8,858.6L586.8,857.7L593.8,857.7L603.8,858.2L605.0,858.6L605.3,860.6L605.0,861.6L603.8,862.0L593.8,862.5L586.8,862.5L581.8,862.1L547.8,862.0L545.6,861.6L545.3,860.6L545.3,859.6ZM575.6,866.5L577.8,866.0L581.8,866.0L592.8,866.0L595.0,866.5L595.3,868.5L595.3,872.4L595.0,873.4L590.6,874.4L590.0,877.4L587.8,877.8L576.8,878.0L575.6,878.3L575.3,879.3L575.3,880.3L575.8,881.4L577.8,881.8L583.8,881.9L585.0,882.3L585.3,883.3L585.3,888.2L585.6,889.2L587.8,889.7L593.8,889.8L595.0,890.2L595.3,891.2L595.3,896.1L594.8,897.2L591.8,897.6L576.8,897.5L575.6,897.1L575.3,895.1L574.8,894.0L572.8,893.7L556.8,893.5L555.6,893.1L555.3,891.2L553.4,890.2L546.8,890.1L541.8,889.7L530.3,889.7L530.3,881.8L542.8,881.8L544.8,881.4L545.3,880.3L545.3,875.4L546.8,874.5L568.8,874.3L572.8,874.0L577.8,873.9L579.8,873.5L580.3,872.4L580.0,870.5L575.6,869.5L575.3,867.5ZM550.6,902.0L552.8,901.6L558.8,902.0L568.8,901.6L570.0,902.0L570.6,905.0L575.0,906.0L575.3,907.9L575.0,908.9L572.8,909.4L530.3,909.4L530.3,905.5L548.8,905.4L550.0,905.0ZM545.6,917.8L547.8,917.4L552.8,917.9L571.8,917.9L573.8,918.1L575.3,918.8L575.6,920.8L580.0,921.7L580.3,922.7L580.3,925.2L550.3,925.2L550.3,922.7L550.0,921.7L545.6,920.8L545.3,918.8Z"/>
<path fill="#f9c473" d="M550.3,751.6L576.7,751.6L576.7,754.1L576.5,755.1L575.8,755.6L572.8,756.0L571.8,756.8L571.5,759.0L569.8,759.8L555.8,759.8L554.1,759.0L553.7,756.0L550.6,755.1L550.3,754.1ZM530.3,767.9L530.3,767.4L548.8,767.4L551.2,767.9L551.9,768.9L551.9,769.8L551.8,770.8L550.8,771.5L549.8,771.7L544.8,771.9L530.3,771.6ZM530.3,775.8L539.6,775.8L540.3,776.8L540.5,778.7L541.2,779.7L541.3,785.6L542.6,786.6L545.8,787.1L546.5,787.6L546.7,789.6L547.8,790.3L553.8,790.6L556.6,791.5L556.9,793.5L556.1,795.5L556.3,798.5L557.8,798.9L560.8,799.2L569.9,799.4L571.3,800.4L571.3,801.4L570.2,802.4L568.8,802.6L551.8,802.6L530.3,803.3ZM530.3,819.2L530.3,818.3L542.8,818.3L547.8,818.7L557.8,818.5L567.8,818.9L573.8,818.7L575.8,819.2L576.3,820.2L576.3,825.1L576.1,826.1L575.8,826.3L574.8,826.7L571.9,827.1L571.3,828.0L571.3,836.9L571.1,837.9L570.8,838.1L569.8,838.6L567.8,838.7L556.8,838.7L555.8,838.6L554.5,837.9L554.3,835.9L553.7,834.9L550.8,834.6L549.5,834.0L549.3,832.0L548.5,831.0L530.3,830.5ZM584.8,858.6L587.8,858.1L594.8,858.3L595.8,858.6L596.3,859.6L596.3,860.6L595.8,861.6L593.8,862.0L585.8,861.9L584.8,861.6L584.3,860.6L584.3,859.6ZM554.5,882.3L555.8,881.6L556.8,881.5L564.8,881.6L566.1,882.3L566.3,884.3L566.9,885.3L569.8,885.6L571.1,886.2L571.3,888.2L571.1,889.2L569.8,889.8L568.8,890.0L563.8,890.0L547.8,889.7L544.8,889.2L544.3,888.2L544.5,886.2L544.8,886.0L546.8,885.5L553.7,885.3L554.3,884.3Z"/>
<path fill="#fcd98c" d="M554.3,751.6L575.3,751.6L575.3,754.1L574.8,755.2L570.6,756.0L570.3,758.0L569.8,759.1L567.8,759.5L556.8,759.4L555.6,759.0L555.2,756.0L554.5,755.1L554.3,754.1ZM530.3,767.9L530.3,767.6L548.8,767.7L550.1,767.9L550.7,768.9L550.7,769.8L550.5,770.8L548.8,771.4L530.3,771.3ZM530.3,779.7L530.3,779.2L536.8,779.2L538.8,779.5L539.3,780.7L539.3,785.6L539.8,786.6L545.0,787.6L545.3,789.6L545.8,790.6L547.8,790.9L553.8,791.0L555.4,791.5L555.7,793.5L555.3,797.5L555.4,798.5L555.8,799.1L561.8,799.8L567.8,799.9L569.3,800.4L569.3,801.4L567.8,802.0L566.8,802.1L552.8,802.1L543.8,802.7L530.3,802.9ZM530.3,819.2L554.8,818.8L564.8,819.1L567.8,819.4L572.9,819.2L573.8,819.6L574.3,820.2L574.3,825.1L573.7,826.1L570.8,826.4L569.5,827.1L569.3,836.9L568.8,837.9L565.8,838.1L556.9,837.9L556.3,836.9L556.1,834.9L554.8,834.3L551.9,834.0L551.3,833.0L551.3,832.0L550.7,831.0L548.8,830.4L530.3,830.1ZM587.7,858.6L592.9,858.6L594.3,859.6L594.3,860.6L592.9,861.6L587.7,861.6L586.3,860.6L586.3,859.6ZM556.9,882.3L563.7,882.3L564.3,883.3L564.5,885.3L565.8,885.9L568.7,886.2L569.3,887.2L569.3,888.2L568.7,889.2L566.8,889.3L547.8,889.2L546.8,888.8L546.3,888.2L546.3,887.2L546.9,886.2L554.8,885.9L556.1,885.3L556.3,883.3Z"/>
<path fill="#fde9a4" d="M556.3,751.6L573.9,751.6L573.9,754.1L572.8,755.1L570.8,755.2L569.1,756.0L568.9,758.0L567.8,759.0L557.9,759.0L556.7,758.0ZM530.3,767.9L548.8,767.9L549.9,768.9L549.9,769.8L549.4,770.8L547.8,771.1L530.3,771.1ZM530.3,787.6L530.3,787.1L537.8,787.2L542.8,787.6L543.8,788.3L544.3,790.6L544.8,790.7L546.8,791.2L552.8,791.3L554.4,791.5L554.9,792.5L554.5,798.5L553.8,799.1L552.8,799.3L546.3,799.4L545.3,800.4L545.3,801.4L542.8,802.2L530.3,802.4ZM550.3,820.2L552.8,819.3L555.8,819.3L562.8,819.6L565.3,820.2L565.3,825.1L565.5,826.1L566.2,827.1L566.1,830.0L564.8,830.7L563.8,830.8L558.8,830.9L552.8,830.8L549.9,830.0L549.3,829.0L549.3,828.0L549.4,827.1L550.1,826.1L550.3,825.1Z"/>
<path fill="#fff3b4" d="M530.3,768.9L530.3,768.4L546.8,768.4L548.7,768.9L548.7,769.8L547.8,770.5L546.8,770.7L530.3,770.6ZM530.3,791.5L530.3,791.1L541.8,791.1L552.8,791.9L553.7,792.5L553.4,797.5L553.0,798.5L551.8,798.6L541.8,798.9L530.3,798.9ZM551.5,827.1L553.8,826.6L562.8,826.6L564.1,827.1L564.3,829.0L563.7,830.0L562.8,830.1L552.1,830.0L551.3,829.0Z"/>
</g>
<path d="M620.3 752.6V925.2" stroke="#fff" stroke-width="1.2" stroke-dasharray="2.2 1.6" fill="none"/>
<path d="M560.3 751.6v3.5M590.3 751.6v3.5M620.3 751.6v3.5M650.3 751.6v3.5M680.3 751.6v3.5M710.3 751.6v3.5" stroke="#c8d0e8" stroke-width="0.8" fill="none"/>
<rect x="530.3" y="751.6" width="210.0" height="173.6" fill="none" stroke="#0a0a20" stroke-width="1.7"/>
<path d="M530.3 751.6v-3M560.3 751.6v-3M590.3 751.6v-3M620.3 751.6v-3M650.3 751.6v-3M680.3 751.6v-3M710.3 751.6v-3M740.3 751.6v-3" stroke="#111" stroke-width="1" fill="none"/>
<g class="num" font-size="12.2" font-weight="bold" fill="#222" text-anchor="middle">
<text x="530.3" y="745.1">1</text>
<text x="560.3" y="745.1">2</text>
<text x="590.3" y="745.1">3</text>
<text x="620.3" y="745.1">4</text>
<text x="650.3" y="745.1">5</text>
<text x="680.3" y="745.1">6</text>
<text x="710.3" y="745.1">7</text>
<text x="740.3" y="745.1">8</text>
</g>
<g class="num" font-size="12.2" font-weight="bold" fill="#222" text-anchor="end">
<text x="508.9" y="756.0">0</text>
<text x="508.9" y="771.8">1</text>
<text x="508.9" y="787.6">2</text>
<text x="508.9" y="803.3">3</text>
<text x="508.9" y="819.1">4</text>
<text x="508.9" y="834.9">5</text>
<text x="508.9" y="850.7">6</text>
<text x="508.9" y="866.5">7</text>
<text x="508.9" y="882.2">8</text>
<text x="508.9" y="898.0">9</text>
<text x="508.9" y="913.8">10</text>
<text x="508.9" y="929.6">11</text>
</g>
<rect x="513.4" y="751.6" width="13.2" height="18.9" fill="url(#pFill)"/>
<rect x="513.4" y="770.5" width="13.2" height="31.6" fill="url(#pClay)"/>
<rect x="513.4" y="802.1" width="13.2" height="14.2" fill="url(#pSilt)"/>
<rect x="513.4" y="816.3" width="13.2" height="7.9" fill="url(#pMud)"/>
<rect x="513.4" y="824.2" width="13.2" height="15.8" fill="url(#pSilt)"/>
<rect x="513.4" y="840.0" width="13.2" height="85.2" fill="url(#pClay)"/>
<rect x="513.4" y="769.6" width="13.2" height="1.3" fill="#f4e8f4"/>
<rect x="513.4" y="801.2" width="13.2" height="1.3" fill="#f4e8f4"/>
<rect x="513.4" y="815.4" width="13.2" height="1.3" fill="#f4e8f4"/>
<rect x="513.4" y="823.3" width="13.2" height="1.3" fill="#f4e8f4"/>
<rect x="513.4" y="839.1" width="13.2" height="1.3" fill="#f4e8f4"/>
<rect x="513.4" y="751.6" width="13.2" height="173.6" fill="none" stroke="#0a0a0a" stroke-width="1.5"/>
<text x="624.0" y="732.1" font-size="12.5" font-weight="bold" fill="#222" text-anchor="middle" textLength="60" lengthAdjust="spacingAndGlyphs">距桩距离/m</text>
<text transform="translate(493.5 838.6) rotate(-90)" font-size="12.5" font-weight="bold" fill="#222" text-anchor="middle" textLength="70" lengthAdjust="spacingAndGlyphs">桩打入深度/m</text>
<text x="619.0" y="942.2" font-size="12.5" font-weight="bold" fill="#222" text-anchor="middle">(b) 径向加速度</text>
<rect x="253.4" y="980.0" width="210.0" height="173.6" fill="#224ed0"/>
<g stroke="#0c0c30" stroke-width="0.55" stroke-opacity="0.8" stroke-linejoin="round">
<path fill="#2c5ee4" d="M253.4,980.0L358.4,980.0L358.4,986.4L358.1,987.4L355.9,987.9L345.9,987.9L343.7,988.4L343.4,989.4L343.4,1002.2L343.1,1003.2L340.9,1003.6L334.9,1003.8L333.7,1004.2L333.4,1006.1L333.4,1014.0L333.7,1015.0L334.9,1015.4L340.9,1015.5L343.1,1016.0L343.4,1018.0L343.4,1021.9L343.1,1022.9L340.9,1023.4L326.9,1023.4L321.9,1023.8L286.9,1024.3L284.9,1024.8L284.8,1025.9L286.9,1026.4L295.9,1026.7L330.9,1026.9L336.9,1027.3L360.9,1027.4L363.1,1027.8L363.4,1028.8L363.1,1030.8L360.9,1031.3L345.9,1031.3L343.9,1031.7L343.4,1032.8L343.4,1037.7L343.1,1038.7L341.9,1039.1L316.9,1039.2L310.9,1039.6L281.9,1039.8L279.9,1040.0L278.4,1040.7L278.4,1041.6L279.9,1042.5L280.9,1042.7L291.9,1042.7L296.9,1043.1L341.9,1043.2L343.1,1043.6L343.7,1046.6L348.1,1047.6L348.7,1050.5L353.1,1051.5L353.4,1052.5L353.1,1054.5L348.7,1055.5L348.4,1057.4L348.9,1058.5L353.1,1059.4L353.4,1060.4L353.4,1085.0L353.1,1086.0L351.9,1086.4L345.9,1086.6L343.9,1086.9L343.4,1088.0L343.4,1089.0L343.7,1090.0L344.9,1090.4L350.9,1090.5L353.1,1091.0L353.4,1092.0L353.4,1096.9L353.1,1097.9L351.9,1098.3L345.9,1098.4L343.7,1098.9L343.4,1099.8L343.4,1104.8L343.7,1105.8L344.9,1106.1L355.9,1106.3L358.1,1106.7L358.4,1108.7L358.4,1112.7L358.1,1113.7L353.7,1114.6L353.1,1117.6L348.7,1118.6L348.1,1121.5L346.9,1121.9L316.9,1122.0L311.9,1122.5L304.9,1122.6L303.4,1123.5L303.4,1128.4L303.1,1129.4L300.9,1129.9L294.9,1130.0L293.7,1130.4L293.4,1131.4L293.4,1132.4L293.9,1132.7L295.9,1133.2L298.1,1133.4L320.9,1133.4L326.9,1133.9L341.9,1134.0L343.1,1134.4L343.4,1135.4L343.4,1140.3L343.1,1141.3L340.9,1141.7L326.9,1141.8L320.9,1142.2L280.9,1142.2L279.9,1142.3L278.4,1143.2L278.4,1144.2L279.9,1145.1L280.9,1145.2L315.9,1145.3L321.9,1145.7L346.9,1145.8L348.1,1146.2L348.4,1147.2L348.1,1149.2L343.7,1150.1L343.4,1151.1L343.4,1153.6L253.4,1153.6L253.4,994.7L256.9,994.4L257.2,992.3L258.9,991.5L260.9,991.3L261.9,990.6L262.0,989.4L261.9,984.7L260.9,984.1L258.7,984.4L258.4,986.4L257.9,987.5L256.9,987.8L253.4,987.9ZM428.4,980.0L443.4,980.0L443.4,986.4L443.1,987.4L441.9,987.8L439.9,987.9L430.9,987.9L428.9,987.5L428.4,986.4ZM423.7,996.3L425.9,995.8L429.9,995.8L445.9,995.8L448.1,996.3L448.4,997.3L448.4,1002.2L448.7,1003.2L453.1,1004.2L453.4,1006.1L453.4,1010.1L453.1,1011.1L448.7,1012.1L448.4,1013.0L448.4,1018.0L448.1,1019.0L445.9,1019.4L429.9,1019.3L428.7,1019.0L428.4,1018.0L428.4,1013.0L428.1,1012.1L426.9,1011.7L420.9,1011.5L418.7,1011.1L418.4,1009.1L418.4,1005.2L418.7,1004.2L423.1,1003.2L423.4,1002.2L423.4,997.3ZM413.7,1027.8L414.9,1027.5L416.9,1027.3L456.9,1027.5L458.1,1027.8L458.4,1028.8L458.4,1033.8L458.1,1034.7L455.9,1035.2L414.9,1035.1L413.7,1034.7L413.4,1033.8L413.4,1028.8ZM398.7,1047.6L399.9,1047.2L401.9,1047.1L455.9,1047.1L458.1,1047.6L458.4,1049.5L458.1,1050.5L456.9,1050.9L450.9,1051.0L448.9,1051.4L448.4,1052.5L448.1,1054.5L443.7,1055.5L443.4,1056.4L443.4,1061.4L443.1,1062.4L438.7,1063.3L438.1,1066.3L435.9,1066.8L425.9,1066.8L423.7,1066.3L423.1,1063.3L418.7,1062.4L418.4,1061.4L418.4,1056.4L418.1,1055.5L413.7,1054.5L413.1,1051.5L410.9,1051.0L400.9,1051.0L398.9,1050.6L398.4,1049.5ZM413.7,1079.1L415.9,1078.7L435.9,1078.7L438.1,1079.1L438.4,1081.1L438.1,1082.1L435.9,1082.6L415.9,1082.6L413.7,1082.1L413.4,1081.1ZM423.7,1087.0L425.9,1086.6L436.9,1086.6L438.1,1087.0L438.7,1090.0L439.9,1090.4L455.9,1090.5L458.1,1091.0L458.4,1092.9L458.4,1096.9L458.1,1097.9L456.9,1098.3L450.9,1098.4L448.9,1098.7L448.4,1099.8L448.1,1101.8L443.7,1102.8L443.4,1104.8L443.7,1105.8L444.9,1106.1L455.9,1106.3L457.9,1106.6L458.4,1107.7L458.7,1109.7L459.9,1110.1L463.4,1110.2L463.4,1114.1L459.9,1114.3L458.7,1114.6L458.1,1117.6L456.9,1118.0L445.9,1118.1L443.9,1118.5L443.4,1119.6L443.1,1121.5L441.9,1121.9L401.9,1122.0L399.9,1121.9L398.7,1121.5L398.4,1120.6L398.7,1118.6L399.9,1118.2L420.9,1118.1L423.1,1117.6L423.4,1116.6L423.4,1111.7L422.9,1110.6L420.9,1110.2L405.9,1110.2L403.7,1109.7L403.4,1107.7L403.9,1106.6L405.9,1106.3L415.9,1106.2L418.1,1105.8L418.4,1104.8L418.4,1099.8L418.1,1098.9L416.9,1098.5L410.9,1098.3L408.7,1097.9L408.1,1094.9L403.7,1093.9L403.4,1092.0L403.7,1091.0L404.9,1090.6L421.9,1090.4L423.1,1090.0ZM343.7,1126.5L345.9,1126.0L351.9,1126.1L353.1,1126.5L353.4,1128.4L353.1,1129.4L351.9,1129.8L344.9,1129.8L343.7,1129.4L343.4,1128.4ZM428.7,1146.2L429.9,1145.8L431.9,1145.7L440.9,1145.7L442.9,1146.1L443.4,1147.2L443.4,1153.6L428.4,1153.6L428.4,1147.2Z"/>
<path fill="#4668bc" d="M262.4,980.0L344.4,980.0L344.2,983.5L342.9,984.1L339.9,984.5L339.4,985.4L339.2,987.4L338.9,987.6L336.9,988.2L330.9,988.3L329.9,988.5L329.4,989.4L329.4,998.2L329.2,999.2L328.9,999.5L326.9,1000.0L320.1,1000.2L319.4,1001.2L319.2,1003.2L318.9,1003.4L316.9,1004.0L310.0,1004.2L309.4,1005.2L309.4,1010.1L309.9,1011.0L312.9,1011.4L314.2,1012.1L314.4,1018.0L314.9,1018.9L321.9,1019.2L323.9,1019.7L324.2,1019.9L324.4,1021.9L323.9,1022.9L320.9,1023.4L285.9,1023.8L284.4,1023.9L283.4,1024.9L283.4,1025.9L283.9,1026.5L284.4,1026.9L285.9,1027.0L331.9,1027.4L333.9,1027.8L334.4,1028.8L334.2,1030.8L332.9,1031.4L331.9,1031.6L320.0,1031.8L319.4,1032.8L319.2,1034.7L317.9,1035.4L315.0,1035.7L314.4,1036.7L314.4,1037.7L313.9,1038.7L312.9,1039.0L270.9,1039.7L269.9,1040.1L269.4,1040.7L269.4,1041.6L270.7,1042.6L279.9,1043.1L291.9,1043.2L293.9,1043.6L294.4,1044.6L294.4,1045.6L295.9,1046.2L299.2,1046.6L311.9,1046.8L312.9,1046.9L314.2,1047.6L314.4,1049.5L314.2,1058.4L312.9,1059.1L310.0,1059.4L309.4,1060.4L309.4,1081.1L309.4,1089.0L310.0,1090.0L312.9,1090.3L314.2,1091.0L314.4,1092.9L314.2,1093.9L312.9,1094.6L311.9,1094.7L305.0,1094.9L304.4,1095.9L304.4,1096.9L305.1,1097.9L311.9,1098.1L312.9,1098.2L314.2,1098.9L314.4,1100.8L314.2,1105.8L312.9,1106.4L311.9,1106.5L305.1,1106.7L304.4,1107.7L304.4,1108.7L305.0,1109.7L307.9,1110.0L309.2,1110.7L309.4,1116.6L310.0,1117.6L312.9,1117.9L314.2,1118.6L314.4,1120.6L313.9,1121.5L311.9,1122.0L296.9,1122.5L253.4,1122.4L253.4,1113.8L256.8,1113.7L257.4,1112.7L257.4,1111.7L257.4,1107.7L256.9,1106.8L253.4,1106.6L253.4,1094.1L256.8,1093.9L257.4,1092.9L257.4,1092.0L257.4,1088.0L256.9,1087.1L253.4,1086.9L253.4,1058.5L255.9,1058.4L256.9,1057.7L257.0,1056.4L256.9,1052.1L256.4,1051.5L253.4,1051.4L253.4,995.4L257.0,995.3L258.4,994.3L258.7,992.3L263.1,991.3L263.4,990.4L263.4,985.4L263.3,984.4L262.6,983.5L262.4,982.5ZM253.4,1134.4L253.4,1133.5L270.9,1133.4L289.9,1133.4L300.9,1133.9L321.9,1133.9L323.9,1134.4L324.4,1135.4L324.4,1140.3L323.9,1141.3L320.9,1141.7L281.9,1141.8L274.9,1142.1L253.4,1142.1ZM257.6,1146.2L258.9,1145.6L261.9,1145.4L275.9,1145.4L281.9,1145.7L315.9,1145.7L318.9,1146.2L319.4,1147.2L319.4,1148.2L319.2,1149.2L318.9,1149.4L316.9,1149.9L295.0,1150.1L294.4,1151.1L294.4,1153.6L253.4,1153.6L253.4,1149.3L256.9,1149.1L257.4,1148.2Z"/>
<path fill="#a28062" d="M264.4,980.0L342.4,980.0L342.4,982.5L341.9,983.4L338.9,983.8L337.6,984.4L337.4,986.4L336.8,987.4L329.9,987.7L327.8,988.4L327.4,989.4L327.4,998.2L326.8,999.2L320.9,999.4L318.9,999.8L317.8,1000.2L317.4,1001.2L317.4,1002.2L316.8,1003.2L309.9,1003.4L308.9,1003.5L307.6,1004.2L307.4,1006.1L307.6,1011.1L308.9,1011.7L311.9,1012.1L312.4,1013.0L312.6,1019.0L313.9,1019.6L314.9,1019.7L321.8,1019.9L322.4,1020.9L322.4,1021.9L321.9,1022.5L320.9,1022.9L284.9,1023.6L282.9,1023.9L282.0,1024.9L282.0,1025.9L282.9,1026.9L284.9,1027.2L310.9,1027.8L331.0,1027.8L332.4,1028.8L332.4,1029.8L331.9,1030.7L318.9,1031.1L317.6,1031.8L317.4,1033.8L316.9,1034.7L313.9,1035.1L312.9,1035.5L312.6,1035.7L312.4,1037.7L311.0,1038.7L290.9,1038.7L270.9,1039.2L267.9,1039.7L267.4,1040.7L267.4,1041.6L267.9,1042.6L268.9,1042.9L275.9,1043.5L291.0,1043.6L292.4,1044.6L292.4,1045.6L293.5,1046.6L304.9,1047.3L310.9,1047.5L311.8,1047.6L312.4,1048.6L312.4,1057.4L311.8,1058.4L308.9,1058.8L307.9,1059.2L307.6,1059.4L307.4,1060.4L307.4,1081.1L307.6,1090.0L308.9,1090.6L311.8,1091.0L312.4,1092.0L312.4,1092.9L311.8,1093.9L303.9,1094.3L302.6,1094.9L302.4,1095.9L302.4,1096.9L302.8,1097.9L303.9,1098.3L305.9,1098.7L311.8,1098.9L312.4,1099.8L312.4,1104.8L311.9,1105.7L304.9,1106.0L302.8,1106.7L302.4,1107.7L302.6,1109.7L303.9,1110.4L306.8,1110.7L307.4,1111.7L307.6,1117.6L308.9,1118.2L311.9,1118.6L312.4,1119.6L312.4,1120.6L311.0,1121.5L294.9,1122.0L270.9,1122.0L265.9,1121.7L253.4,1121.7L253.4,1114.5L256.9,1114.4L258.9,1113.9L259.2,1113.7L259.4,1111.7L259.2,1106.7L257.9,1106.1L253.4,1105.9L253.4,1094.8L256.9,1094.7L258.9,1094.1L259.2,1093.9L259.4,1092.0L259.2,1087.0L257.9,1086.4L253.4,1086.2L253.4,1058.9L256.9,1058.8L257.9,1058.5L258.4,1057.4L258.4,1056.4L258.2,1051.5L256.9,1050.8L253.4,1050.7L253.4,995.5L258.5,995.3L259.8,994.3L259.9,993.1L260.9,992.3L262.9,992.2L264.6,991.3L264.8,985.4ZM253.4,1134.4L274.9,1133.9L321.0,1134.4L322.4,1135.4L322.4,1140.3L321.0,1141.3L319.9,1141.3L253.4,1141.4ZM260.0,1146.2L315.9,1146.2L316.9,1146.6L317.4,1147.2L317.4,1148.2L316.8,1149.2L315.9,1149.3L293.9,1149.5L292.6,1150.1L292.4,1153.6L253.4,1153.6L253.4,1150.0L256.9,1149.9L258.9,1149.4L259.2,1149.2L259.4,1147.2Z"/>
<path fill="#f0a050" d="M273.4,980.0L328.4,980.0L328.4,986.4L327.7,987.4L325.9,987.8L319.9,988.0L318.7,988.4L318.4,989.4L318.4,998.2L317.7,999.2L314.9,999.7L305.9,999.8L303.9,1000.2L303.4,1001.2L303.4,1018.0L303.9,1019.1L308.1,1019.9L308.4,1021.9L305.9,1022.8L284.9,1023.3L276.9,1024.1L270.9,1024.2L268.4,1024.9L268.4,1025.9L270.3,1026.9L280.9,1026.9L284.9,1027.4L305.9,1028.0L308.4,1028.8L308.1,1030.8L303.7,1031.8L303.1,1034.7L301.9,1035.1L289.9,1035.3L288.7,1035.7L288.4,1037.7L286.9,1038.4L268.9,1038.8L263.9,1039.7L263.4,1040.7L263.4,1041.6L263.9,1042.7L267.9,1043.4L271.9,1043.7L273.4,1044.6L273.4,1045.6L275.3,1046.6L291.9,1046.7L301.7,1047.6L303.4,1048.6L303.4,1077.2L302.9,1078.3L298.7,1079.1L298.4,1080.1L298.4,1085.0L298.1,1086.0L296.9,1086.4L286.9,1087.0L275.9,1087.0L269.9,1086.4L268.7,1086.0L268.1,1083.1L263.7,1082.1L263.1,1079.1L258.7,1078.1L258.4,1077.2L258.4,1064.3L258.1,1063.3L256.9,1063.0L253.4,1062.9L253.4,1059.4L256.9,1059.3L258.9,1059.0L259.6,1058.4L259.8,1056.4L259.7,1051.5L258.8,1050.5L258.1,1047.6L256.9,1047.2L253.4,1047.1L253.4,1034.9L257.4,1034.7L258.4,1033.8L258.4,1032.8L256.9,1031.9L253.4,1031.7L253.4,995.7L265.9,995.0L268.4,994.3L268.4,989.4L268.7,988.4L273.1,987.4L273.4,986.4ZM268.7,1091.0L270.9,1090.5L281.9,1090.1L295.9,1090.5L297.9,1090.9L298.4,1092.0L298.1,1093.9L296.9,1094.3L290.9,1094.5L288.9,1094.9L288.4,1095.9L288.4,1096.9L288.9,1097.9L290.9,1098.3L299.9,1098.4L302.7,1098.9L303.4,1099.8L303.4,1104.8L302.7,1105.8L299.9,1106.2L271.9,1106.3L268.9,1105.9L268.4,1104.8L268.4,1099.8L268.7,1098.9L273.1,1097.9L273.4,1095.9L272.9,1094.8L268.7,1093.9L268.4,1092.0ZM273.7,1110.7L274.9,1110.3L276.9,1110.2L290.9,1110.2L292.9,1110.6L293.4,1111.7L293.4,1116.6L293.7,1117.6L298.1,1118.6L298.4,1120.6L296.9,1121.5L295.9,1121.6L269.9,1121.5L268.4,1120.6L268.4,1115.6L268.7,1114.6L273.1,1113.7ZM270.3,1134.4L295.9,1134.5L298.4,1135.4L298.4,1136.3L298.1,1137.3L295.9,1137.8L270.9,1137.8L268.7,1137.3L268.4,1136.3L268.4,1135.4Z"/>
<path fill="#f9c473" d="M282.4,980.0L314.4,980.0L314.2,987.4L312.9,988.0L311.9,988.2L304.4,988.4L303.4,989.4L303.4,998.2L302.9,999.2L300.9,999.7L294.9,1000.0L294.2,1000.2L293.4,1001.2L293.4,1018.0L293.6,1019.0L294.3,1019.9L294.4,1021.9L293.0,1022.9L291.9,1023.0L264.9,1024.0L253.4,1024.0L253.4,995.9L275.9,995.0L277.0,994.3L277.2,988.4L278.9,987.6L281.1,987.4L282.4,986.4ZM253.4,1027.8L253.4,1027.0L265.9,1027.0L269.9,1027.3L291.9,1027.7L293.0,1027.8L294.4,1028.8L294.4,1029.8L294.2,1030.8L293.9,1031.0L292.9,1031.4L290.9,1031.6L261.9,1031.6L253.4,1031.3ZM253.4,1035.7L261.9,1035.3L263.1,1035.7L263.4,1037.7L262.9,1038.7L261.9,1039.0L253.4,1039.2ZM267.6,1047.6L268.9,1046.9L270.9,1046.8L275.9,1047.1L290.9,1047.1L298.3,1047.6L299.4,1048.6L299.2,1074.2L297.9,1074.8L294.9,1075.4L294.4,1076.2L294.2,1082.1L292.9,1082.7L290.0,1083.1L289.4,1084.1L289.4,1085.0L288.9,1086.0L286.9,1086.5L281.9,1086.5L274.9,1086.5L272.9,1086.0L272.4,1085.0L272.4,1076.2L271.7,1075.2L268.9,1074.8L267.9,1074.4L267.6,1074.2L267.4,1073.2ZM279.4,1091.0L287.4,1091.0L288.4,1092.0L288.4,1092.9L287.9,1093.9L286.9,1094.2L279.9,1094.3L278.7,1093.9L278.4,1092.9L278.4,1092.0ZM278.7,1098.9L280.9,1098.4L286.9,1098.6L287.9,1098.9L288.4,1099.8L288.4,1100.8L288.1,1101.8L286.9,1102.2L279.9,1102.2L278.7,1101.8L278.4,1099.8Z"/>
<path fill="#fcd98c" d="M284.4,980.0L312.4,980.0L312.4,986.4L311.8,987.4L295.9,987.9L294.6,988.4L294.4,994.3L294.8,998.2L294.5,999.2L292.9,999.9L290.8,1000.2L289.8,1001.2L289.6,1011.1L287.9,1011.9L284.9,1012.1L283.4,1013.0L283.1,1015.0L280.9,1015.5L269.9,1015.4L268.7,1015.0L268.4,1013.0L266.5,1012.1L253.4,1012.0L253.4,996.0L275.9,995.6L277.9,995.3L278.4,994.3L278.4,989.4L278.7,988.4L283.9,987.4L284.4,986.4ZM253.4,1019.9L253.4,1019.0L275.9,1019.0L281.9,1019.4L289.9,1019.5L292.2,1019.9L292.4,1021.9L290.9,1022.4L284.9,1022.6L276.9,1023.4L253.4,1023.6ZM253.4,1027.8L282.2,1027.8L284.9,1028.2L290.9,1028.3L292.4,1028.8L292.4,1029.8L291.8,1030.8L289.9,1030.9L253.4,1030.8ZM270.0,1047.6L292.6,1047.6L295.9,1047.9L297.4,1048.6L297.4,1073.2L296.9,1074.2L293.0,1075.2L292.4,1076.2L292.4,1081.1L291.9,1082.0L288.9,1082.4L287.9,1082.9L287.6,1083.1L287.4,1085.0L286.0,1086.0L275.9,1086.0L274.9,1085.6L274.4,1085.0L274.4,1076.2L273.8,1075.2L269.9,1074.2L269.4,1073.2L269.4,1048.6Z"/>
<path fill="#fde9a4" d="M280.9,988.4L287.9,987.9L290.9,987.9L292.2,988.4L292.4,994.3L292.6,995.3L293.3,996.3L293.4,998.2L292.9,999.3L288.7,1000.2L288.4,1001.2L288.4,1010.1L288.1,1011.1L286.9,1011.5L279.9,1011.9L253.4,1011.6L253.4,996.2L277.9,995.8L279.4,995.3L279.8,994.3L279.8,989.4ZM253.4,1019.9L253.4,1019.5L276.9,1019.5L278.9,1019.9L279.4,1020.9L279.4,1021.9L278.3,1022.9L276.9,1023.1L253.4,1023.2ZM272.6,1051.5L273.9,1050.9L275.9,1050.7L292.9,1050.9L294.2,1051.5L294.4,1052.5L294.2,1058.4L292.9,1059.1L290.0,1059.4L289.4,1060.4L289.2,1062.4L287.9,1063.0L283.9,1063.2L278.9,1063.0L277.6,1062.4L277.4,1060.4L276.8,1059.4L273.9,1059.1L272.6,1058.4L272.4,1053.5ZM272.6,1067.3L273.9,1066.6L275.9,1066.5L292.9,1066.6L294.2,1067.3L294.4,1073.2L293.8,1074.2L290.9,1075.0L274.9,1074.8L273.0,1074.2L272.4,1073.2Z"/>
<path fill="#fff3b4" d="M276.9,996.3L280.9,995.8L284.9,995.8L289.9,995.8L291.8,996.3L292.0,997.3L291.9,998.5L290.9,999.2L288.9,999.4L287.2,1000.2L287.0,1010.1L285.9,1011.1L253.4,1011.1L253.4,996.8ZM253.4,1019.9L275.9,1019.9L276.9,1020.3L277.4,1020.9L277.4,1021.9L275.9,1022.5L274.9,1022.6L253.4,1022.8ZM275.0,1051.5L291.8,1051.5L292.4,1052.5L292.4,1057.4L291.8,1058.4L288.9,1058.8L287.6,1059.4L287.4,1061.4L286.8,1062.4L280.0,1062.4L279.4,1061.4L279.2,1059.4L277.9,1058.8L275.0,1058.4L274.4,1057.4L274.4,1052.5ZM275.0,1067.3L291.8,1067.3L292.4,1068.3L292.4,1073.2L291.6,1074.2L290.9,1074.3L275.2,1074.2L274.4,1073.2L274.4,1068.3Z"/>
</g>
<path d="M343.4 981.0V1153.6" stroke="#fff" stroke-width="1.2" stroke-dasharray="2.2 1.6" fill="none"/>
<path d="M283.4 980.0v3.5M313.4 980.0v3.5M343.4 980.0v3.5M373.4 980.0v3.5M403.4 980.0v3.5M433.4 980.0v3.5" stroke="#c8d0e8" stroke-width="0.8" fill="none"/>
<rect x="253.4" y="980.0" width="210.0" height="173.6" fill="none" stroke="#0a0a20" stroke-width="1.7"/>
<path d="M253.4 980.0v-3M283.4 980.0v-3M313.4 980.0v-3M343.4 980.0v-3M373.4 980.0v-3M403.4 980.0v-3M433.4 980.0v-3M463.4 980.0v-3" stroke="#111" stroke-width="1" fill="none"/>
<g class="num" font-size="12.2" font-weight="bold" fill="#222" text-anchor="middle">
<text x="253.4" y="973.5">1</text>
<text x="283.4" y="973.5">2</text>
<text x="313.4" y="973.5">3</text>
<text x="343.4" y="973.5">4</text>
<text x="373.4" y="973.5">5</text>
<text x="403.4" y="973.5">6</text>
<text x="433.4" y="973.5">7</text>
<text x="463.4" y="973.5">8</text>
</g>
<g class="num" font-size="12.2" font-weight="bold" fill="#222" text-anchor="end">
<text x="231.7" y="984.4">0</text>
<text x="231.7" y="1000.2">1</text>
<text x="231.7" y="1016.0">2</text>
<text x="231.7" y="1031.7">3</text>
<text x="231.7" y="1047.5">4</text>
<text x="231.7" y="1063.3">5</text>
<text x="231.7" y="1079.1">6</text>
<text x="231.7" y="1094.9">7</text>
<text x="231.7" y="1110.6">8</text>
<text x="231.7" y="1126.4">9</text>
<text x="231.7" y="1142.2">10</text>
<text x="231.7" y="1158.0">11</text>
</g>
<rect x="236.2" y="980.0" width="13.2" height="18.9" fill="url(#pFill)"/>
<rect x="236.2" y="998.9" width="13.2" height="31.6" fill="url(#pClay)"/>
<rect x="236.2" y="1030.5" width="13.2" height="14.2" fill="url(#pSilt)"/>
<rect x="236.2" y="1044.7" width="13.2" height="7.9" fill="url(#pMud)"/>
<rect x="236.2" y="1052.6" width="13.2" height="15.8" fill="url(#pSilt)"/>
<rect x="236.2" y="1068.4" width="13.2" height="85.2" fill="url(#pClay)"/>
<rect x="236.2" y="998.0" width="13.2" height="1.3" fill="#f4e8f4"/>
<rect x="236.2" y="1029.6" width="13.2" height="1.3" fill="#f4e8f4"/>
<rect x="236.2" y="1043.8" width="13.2" height="1.3" fill="#f4e8f4"/>
<rect x="236.2" y="1051.7" width="13.2" height="1.3" fill="#f4e8f4"/>
<rect x="236.2" y="1067.5" width="13.2" height="1.3" fill="#f4e8f4"/>
<rect x="236.2" y="980.0" width="13.2" height="173.6" fill="none" stroke="#0a0a0a" stroke-width="1.5"/>
<text x="346.5" y="960.5" font-size="12.5" font-weight="bold" fill="#222" text-anchor="middle" textLength="60" lengthAdjust="spacingAndGlyphs">距桩距离/m</text>
<text transform="translate(217.0 1067.0) rotate(-90)" font-size="12.5" font-weight="bold" fill="#222" text-anchor="middle" textLength="70" lengthAdjust="spacingAndGlyphs">桩打入深度/m</text>
<text x="342.0" y="1170.6" font-size="12.5" font-weight="bold" fill="#222" text-anchor="middle">(c) 竖向加速度</text>
<g fill="#fff4b6" stroke="#15150a" stroke-width="1.1" stroke-linejoin="round"><polygon points="270.3,1051.4 278.3,1049.7 282.1,1049.1 286.7,1049.9 292.6,1050.9 290.1,1053.5 291.3,1056.8 286.7,1058.9 282.5,1061.1 278.3,1059.8 273.6,1058.1 277.0,1054.7"/><polygon points="274.5,1069.1 277.0,1067.1 288.4,1067.1 290.9,1069.5 288.8,1072.0 285.4,1072.8 286.3,1074.5 288.8,1074.9 288.8,1076.6 276.6,1076.6 276.6,1074.9 279.5,1074.1 279.9,1072.8 276.2,1072.0"/></g>
<rect x="516.6" y="980.0" width="13.2" height="18.9" fill="url(#pFill)"/>
<rect x="516.6" y="998.9" width="13.2" height="31.6" fill="url(#pClay)"/>
<rect x="516.6" y="1030.5" width="13.2" height="14.2" fill="url(#pSilt)"/>
<rect x="516.6" y="1044.7" width="13.2" height="7.9" fill="url(#pMud)"/>
<rect x="516.6" y="1052.6" width="13.2" height="15.8" fill="url(#pSilt)"/>
<rect x="516.6" y="1068.4" width="13.2" height="85.2" fill="url(#pClay)"/>
<rect x="516.6" y="998.0" width="13.2" height="1.3" fill="#f4e8f4"/>
<rect x="516.6" y="1029.6" width="13.2" height="1.3" fill="#f4e8f4"/>
<rect x="516.6" y="1043.8" width="13.2" height="1.3" fill="#f4e8f4"/>
<rect x="516.6" y="1051.7" width="13.2" height="1.3" fill="#f4e8f4"/>
<rect x="516.6" y="1067.5" width="13.2" height="1.3" fill="#f4e8f4"/>
<rect x="516.6" y="980.0" width="13.2" height="173.6" fill="none" stroke="#0a0a0a" stroke-width="1.5"/>
<text x="483.5" y="969.5" font-size="12.5" font-weight="bold" fill="#222" textLength="36" lengthAdjust="spacingAndGlyphs">深度/m</text>
<g class="num" font-size="12.2" font-weight="bold" fill="#222" text-anchor="end">
<text x="512" y="984.4">0</text>
<text x="512" y="1003.3">1.2</text>
<text x="512" y="1034.9">3.2</text>
<text x="512" y="1049.1">4.1</text>
<text x="512" y="1058.3">4.6</text>
<text x="512" y="1072.8">5.6</text>
<text x="512" y="1157.0">11</text>
</g>
<g font-size="12.5" font-weight="bold" fill="#222">
<text x="534.7" y="994.9" textLength="35.5" lengthAdjust="spacingAndGlyphs">素填土</text>
<text x="534.7" y="1020.8" textLength="47.5" lengthAdjust="spacingAndGlyphs">粉质黏土</text>
<text x="534.7" y="1040.0" textLength="24.0" lengthAdjust="spacingAndGlyphs">粉土</text>
<text x="534.7" y="1054.4" textLength="83.0" lengthAdjust="spacingAndGlyphs">淤泥质粉质黏土</text>
<text x="534.7" y="1068.1" textLength="24.0" lengthAdjust="spacingAndGlyphs">粉土</text>
<text x="534.7" y="1113.9" textLength="47.5" lengthAdjust="spacingAndGlyphs">粉质黏土</text>
</g>
<rect x="645.6" y="1134.9" width="13.6" height="19.53" fill="#224ed0"/>
<rect x="645.6" y="1115.5" width="13.6" height="19.53" fill="#2c5ee4"/>
<rect x="645.6" y="1096.2" width="13.6" height="19.53" fill="#4668bc"/>
<rect x="645.6" y="1076.9" width="13.6" height="19.53" fill="#a28062"/>
<rect x="645.6" y="1057.5" width="13.6" height="19.53" fill="#f0a050"/>
<rect x="645.6" y="1038.2" width="13.6" height="19.53" fill="#f9c473"/>
<rect x="645.6" y="1018.9" width="13.6" height="19.53" fill="#fcd98c"/>
<rect x="645.6" y="999.5" width="13.6" height="19.53" fill="#fde9a4"/>
<rect x="645.6" y="980.2" width="13.6" height="19.53" fill="#fff3b4"/>
<path d="M645.6 1134.9h13.6M645.6 1115.5h13.6M645.6 1096.2h13.6M645.6 1076.9h13.6M645.6 1057.5h13.6M645.6 1038.2h13.6M645.6 1018.9h13.6M645.6 999.5h13.6" stroke="#5a5a30" stroke-width="0.5" stroke-opacity="0.7" fill="none"/>
<rect x="645.6" y="980.2" width="13.6" height="174.0" fill="none" stroke="#0a0a20" stroke-width="1.4"/>
<g class="num" font-size="12.2" font-weight="bold" fill="#222">
<text x="663.5" y="1158.2">0</text>
<text x="663.5" y="1139.7">0.05g</text>
<text x="663.5" y="1120.3">0.10g</text>
<text x="663.5" y="1101.0">0.15g</text>
<text x="663.5" y="1081.7">0.20g</text>
<text x="663.5" y="1062.3">0.25g</text>
<text x="663.5" y="1043.0">0.30g</text>
<text x="663.5" y="1023.7">0.35g</text>
<text x="663.5" y="1004.3">0.40g</text>
<text x="663.5" y="986.2">0.45g</text>
</g>
<text x="646" y="969.5" font-size="12.5" font-weight="bold" fill="#222" textLength="59" lengthAdjust="spacingAndGlyphs">峰值加速度</text>
</svg>

</div>
</body></html>
